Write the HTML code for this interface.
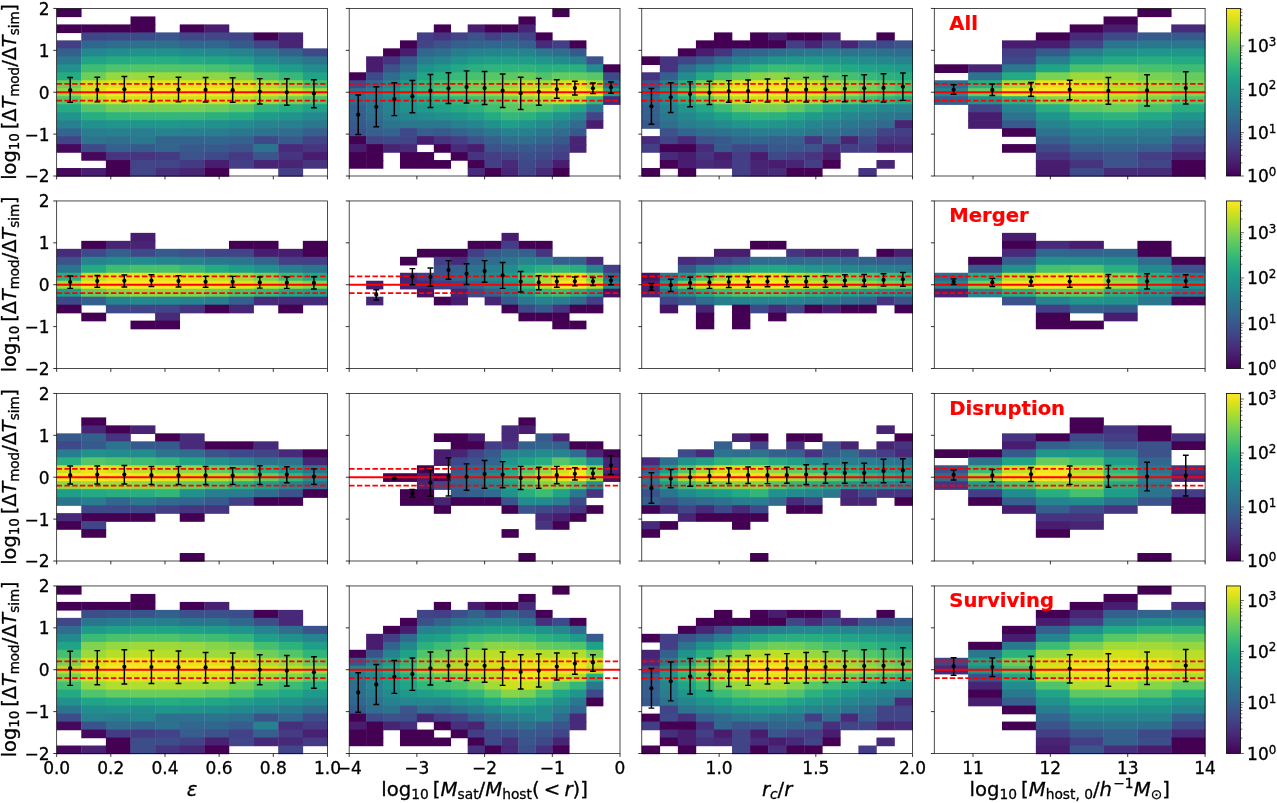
<!DOCTYPE html>
<html><head><meta charset="utf-8"><title>figure</title><style>html,body{margin:0;padding:0;background:#fff}svg{display:block}</style></head><body>
<svg width="1277" height="803" viewBox="0 0 1277 803" font-family='"DejaVu Sans", "Liberation Sans", sans-serif'>
<rect width="1277" height="803" fill="#fff"/>
<style>text{stroke:#000;stroke-width:0.3px}text.pl{stroke:#f00;stroke-width:0.2px}</style>
<g>
<rect x="56.65" y="8.45" width="24.92" height="8.68" fill="#440154"/>
<rect x="56.65" y="24.41" width="24.92" height="8.68" fill="#440154"/>
<rect x="56.65" y="40.36" width="24.92" height="8.68" fill="#433e85"/>
<rect x="56.65" y="48.34" width="24.92" height="8.68" fill="#355f8d"/>
<rect x="56.65" y="56.32" width="24.92" height="8.68" fill="#2a788e"/>
<rect x="56.65" y="64.3" width="24.92" height="8.68" fill="#21918c"/>
<rect x="56.65" y="72.28" width="24.92" height="8.68" fill="#25ab82"/>
<rect x="56.65" y="80.26" width="24.92" height="8.68" fill="#6ece58"/>
<rect x="56.65" y="88.24" width="24.92" height="8.68" fill="#95d840"/>
<rect x="56.65" y="96.21" width="24.92" height="8.68" fill="#52c569"/>
<rect x="56.65" y="104.19" width="24.92" height="8.68" fill="#25ab82"/>
<rect x="56.65" y="112.17" width="24.92" height="8.68" fill="#1f958b"/>
<rect x="56.65" y="120.15" width="24.92" height="8.68" fill="#27808e"/>
<rect x="56.65" y="128.13" width="24.92" height="8.68" fill="#31678e"/>
<rect x="56.65" y="136.11" width="24.92" height="8.68" fill="#414487"/>
<rect x="56.65" y="144.09" width="24.92" height="8.68" fill="#46085c"/>
<rect x="56.65" y="168.02" width="24.92" height="8.68" fill="#46085c"/>
<rect x="81.27" y="24.41" width="24.92" height="8.68" fill="#440154"/>
<rect x="81.27" y="32.39" width="24.92" height="8.68" fill="#414487"/>
<rect x="81.27" y="40.36" width="24.92" height="8.68" fill="#31678e"/>
<rect x="81.27" y="48.34" width="24.92" height="8.68" fill="#24868e"/>
<rect x="81.27" y="56.32" width="24.92" height="8.68" fill="#20a386"/>
<rect x="81.27" y="64.3" width="24.92" height="8.68" fill="#3fbc73"/>
<rect x="81.27" y="72.28" width="24.92" height="8.68" fill="#6ece58"/>
<rect x="81.27" y="80.26" width="24.92" height="8.68" fill="#d2e21b"/>
<rect x="81.27" y="88.24" width="24.92" height="8.68" fill="#dfe318"/>
<rect x="81.27" y="96.21" width="24.92" height="8.68" fill="#b0dd2f"/>
<rect x="81.27" y="104.19" width="24.92" height="8.68" fill="#52c569"/>
<rect x="81.27" y="112.17" width="24.92" height="8.68" fill="#26ad81"/>
<rect x="81.27" y="120.15" width="24.92" height="8.68" fill="#21918c"/>
<rect x="81.27" y="128.13" width="24.92" height="8.68" fill="#287d8e"/>
<rect x="81.27" y="136.11" width="24.92" height="8.68" fill="#2c738e"/>
<rect x="81.27" y="144.09" width="24.92" height="8.68" fill="#3e4989"/>
<rect x="81.27" y="152.06" width="24.92" height="8.68" fill="#46085c"/>
<rect x="81.27" y="168.02" width="24.92" height="8.68" fill="#481d6f"/>
<rect x="105.89" y="24.41" width="24.92" height="8.68" fill="#440154"/>
<rect x="105.89" y="32.39" width="24.92" height="8.68" fill="#3e4989"/>
<rect x="105.89" y="40.36" width="24.92" height="8.68" fill="#2f6c8e"/>
<rect x="105.89" y="48.34" width="24.92" height="8.68" fill="#218e8d"/>
<rect x="105.89" y="56.32" width="24.92" height="8.68" fill="#25ab82"/>
<rect x="105.89" y="64.3" width="24.92" height="8.68" fill="#4ec36b"/>
<rect x="105.89" y="72.28" width="24.92" height="8.68" fill="#95d840"/>
<rect x="105.89" y="80.26" width="24.92" height="8.68" fill="#dfe318"/>
<rect x="105.89" y="88.24" width="24.92" height="8.68" fill="#fde725"/>
<rect x="105.89" y="96.21" width="24.92" height="8.68" fill="#d2e21b"/>
<rect x="105.89" y="104.19" width="24.92" height="8.68" fill="#6ece58"/>
<rect x="105.89" y="112.17" width="24.92" height="8.68" fill="#2fb47c"/>
<rect x="105.89" y="120.15" width="24.92" height="8.68" fill="#1f958b"/>
<rect x="105.89" y="128.13" width="24.92" height="8.68" fill="#27808e"/>
<rect x="105.89" y="136.11" width="24.92" height="8.68" fill="#2e6f8e"/>
<rect x="105.89" y="144.09" width="24.92" height="8.68" fill="#355f8d"/>
<rect x="105.89" y="152.06" width="24.92" height="8.68" fill="#463480"/>
<rect x="105.89" y="160.04" width="24.92" height="8.68" fill="#440154"/>
<rect x="105.89" y="168.02" width="24.92" height="8.68" fill="#440154"/>
<rect x="130.5" y="16.43" width="24.92" height="8.68" fill="#440154"/>
<rect x="130.5" y="24.41" width="24.92" height="8.68" fill="#440154"/>
<rect x="130.5" y="32.39" width="24.92" height="8.68" fill="#3e4989"/>
<rect x="130.5" y="40.36" width="24.92" height="8.68" fill="#2d718e"/>
<rect x="130.5" y="48.34" width="24.92" height="8.68" fill="#21918c"/>
<rect x="130.5" y="56.32" width="24.92" height="8.68" fill="#26ad81"/>
<rect x="130.5" y="64.3" width="24.92" height="8.68" fill="#52c569"/>
<rect x="130.5" y="72.28" width="24.92" height="8.68" fill="#9bd93c"/>
<rect x="130.5" y="80.26" width="24.92" height="8.68" fill="#e5e419"/>
<rect x="130.5" y="88.24" width="24.92" height="8.68" fill="#fde725"/>
<rect x="130.5" y="96.21" width="24.92" height="8.68" fill="#d2e21b"/>
<rect x="130.5" y="104.19" width="24.92" height="8.68" fill="#75d054"/>
<rect x="130.5" y="112.17" width="24.92" height="8.68" fill="#32b67a"/>
<rect x="130.5" y="120.15" width="24.92" height="8.68" fill="#1f958b"/>
<rect x="130.5" y="128.13" width="24.92" height="8.68" fill="#287d8e"/>
<rect x="130.5" y="136.11" width="24.92" height="8.68" fill="#2a788e"/>
<rect x="130.5" y="144.09" width="24.92" height="8.68" fill="#375a8c"/>
<rect x="130.5" y="152.06" width="24.92" height="8.68" fill="#463480"/>
<rect x="130.5" y="160.04" width="24.92" height="8.68" fill="#414487"/>
<rect x="130.5" y="168.02" width="24.92" height="8.68" fill="#414487"/>
<rect x="155.12" y="32.39" width="24.92" height="8.68" fill="#3a548c"/>
<rect x="155.12" y="40.36" width="24.92" height="8.68" fill="#2e6f8e"/>
<rect x="155.12" y="48.34" width="24.92" height="8.68" fill="#21918c"/>
<rect x="155.12" y="56.32" width="24.92" height="8.68" fill="#26ad81"/>
<rect x="155.12" y="64.3" width="24.92" height="8.68" fill="#52c569"/>
<rect x="155.12" y="72.28" width="24.92" height="8.68" fill="#9bd93c"/>
<rect x="155.12" y="80.26" width="24.92" height="8.68" fill="#e5e419"/>
<rect x="155.12" y="88.24" width="24.92" height="8.68" fill="#fde725"/>
<rect x="155.12" y="96.21" width="24.92" height="8.68" fill="#d2e21b"/>
<rect x="155.12" y="104.19" width="24.92" height="8.68" fill="#75d054"/>
<rect x="155.12" y="112.17" width="24.92" height="8.68" fill="#32b67a"/>
<rect x="155.12" y="120.15" width="24.92" height="8.68" fill="#1f978b"/>
<rect x="155.12" y="128.13" width="24.92" height="8.68" fill="#25848e"/>
<rect x="155.12" y="136.11" width="24.92" height="8.68" fill="#32648e"/>
<rect x="155.12" y="144.09" width="24.92" height="8.68" fill="#32648e"/>
<rect x="155.12" y="152.06" width="24.92" height="8.68" fill="#443a83"/>
<rect x="155.12" y="160.04" width="24.92" height="8.68" fill="#414487"/>
<rect x="155.12" y="168.02" width="24.92" height="8.68" fill="#472e7c"/>
<rect x="179.74" y="24.41" width="24.92" height="8.68" fill="#440154"/>
<rect x="179.74" y="32.39" width="24.92" height="8.68" fill="#404688"/>
<rect x="179.74" y="40.36" width="24.92" height="8.68" fill="#31678e"/>
<rect x="179.74" y="48.34" width="24.92" height="8.68" fill="#228b8d"/>
<rect x="179.74" y="56.32" width="24.92" height="8.68" fill="#22a884"/>
<rect x="179.74" y="64.3" width="24.92" height="8.68" fill="#4ec36b"/>
<rect x="179.74" y="72.28" width="24.92" height="8.68" fill="#95d840"/>
<rect x="179.74" y="80.26" width="24.92" height="8.68" fill="#e5e419"/>
<rect x="179.74" y="88.24" width="24.92" height="8.68" fill="#fde725"/>
<rect x="179.74" y="96.21" width="24.92" height="8.68" fill="#d2e21b"/>
<rect x="179.74" y="104.19" width="24.92" height="8.68" fill="#75d054"/>
<rect x="179.74" y="112.17" width="24.92" height="8.68" fill="#32b67a"/>
<rect x="179.74" y="120.15" width="24.92" height="8.68" fill="#1f958b"/>
<rect x="179.74" y="128.13" width="24.92" height="8.68" fill="#27808e"/>
<rect x="179.74" y="136.11" width="24.92" height="8.68" fill="#32648e"/>
<rect x="179.74" y="144.09" width="24.92" height="8.68" fill="#375a8c"/>
<rect x="179.74" y="152.06" width="24.92" height="8.68" fill="#3b528b"/>
<rect x="179.74" y="160.04" width="24.92" height="8.68" fill="#443a83"/>
<rect x="179.74" y="168.02" width="24.92" height="8.68" fill="#482475"/>
<rect x="204.36" y="24.41" width="24.92" height="8.68" fill="#481d6f"/>
<rect x="204.36" y="32.39" width="24.92" height="8.68" fill="#404688"/>
<rect x="204.36" y="40.36" width="24.92" height="8.68" fill="#31678e"/>
<rect x="204.36" y="48.34" width="24.92" height="8.68" fill="#23898e"/>
<rect x="204.36" y="56.32" width="24.92" height="8.68" fill="#21a685"/>
<rect x="204.36" y="64.3" width="24.92" height="8.68" fill="#48c16e"/>
<rect x="204.36" y="72.28" width="24.92" height="8.68" fill="#8ed645"/>
<rect x="204.36" y="80.26" width="24.92" height="8.68" fill="#dfe318"/>
<rect x="204.36" y="88.24" width="24.92" height="8.68" fill="#f8e621"/>
<rect x="204.36" y="96.21" width="24.92" height="8.68" fill="#cae11f"/>
<rect x="204.36" y="104.19" width="24.92" height="8.68" fill="#69cd5b"/>
<rect x="204.36" y="112.17" width="24.92" height="8.68" fill="#2cb17e"/>
<rect x="204.36" y="120.15" width="24.92" height="8.68" fill="#20928c"/>
<rect x="204.36" y="128.13" width="24.92" height="8.68" fill="#287d8e"/>
<rect x="204.36" y="136.11" width="24.92" height="8.68" fill="#31678e"/>
<rect x="204.36" y="144.09" width="24.92" height="8.68" fill="#375a8c"/>
<rect x="204.36" y="152.06" width="24.92" height="8.68" fill="#3e4989"/>
<rect x="204.36" y="160.04" width="24.92" height="8.68" fill="#481d6f"/>
<rect x="204.36" y="168.02" width="24.92" height="8.68" fill="#440154"/>
<rect x="228.98" y="32.39" width="24.92" height="8.68" fill="#414487"/>
<rect x="228.98" y="40.36" width="24.92" height="8.68" fill="#375a8c"/>
<rect x="228.98" y="48.34" width="24.92" height="8.68" fill="#26828e"/>
<rect x="228.98" y="56.32" width="24.92" height="8.68" fill="#1f9f88"/>
<rect x="228.98" y="64.3" width="24.92" height="8.68" fill="#3bbb75"/>
<rect x="228.98" y="72.28" width="24.92" height="8.68" fill="#7ad151"/>
<rect x="228.98" y="80.26" width="24.92" height="8.68" fill="#d2e21b"/>
<rect x="228.98" y="88.24" width="24.92" height="8.68" fill="#ece51b"/>
<rect x="228.98" y="96.21" width="24.92" height="8.68" fill="#bddf26"/>
<rect x="228.98" y="104.19" width="24.92" height="8.68" fill="#58c765"/>
<rect x="228.98" y="112.17" width="24.92" height="8.68" fill="#25ab82"/>
<rect x="228.98" y="120.15" width="24.92" height="8.68" fill="#228b8d"/>
<rect x="228.98" y="128.13" width="24.92" height="8.68" fill="#2a788e"/>
<rect x="228.98" y="136.11" width="24.92" height="8.68" fill="#33628d"/>
<rect x="228.98" y="144.09" width="24.92" height="8.68" fill="#3b528b"/>
<rect x="228.98" y="152.06" width="24.92" height="8.68" fill="#443a83"/>
<rect x="228.98" y="160.04" width="24.92" height="8.68" fill="#433e85"/>
<rect x="253.6" y="32.39" width="24.92" height="8.68" fill="#440154"/>
<rect x="253.6" y="40.36" width="24.92" height="8.68" fill="#414487"/>
<rect x="253.6" y="48.34" width="24.92" height="8.68" fill="#2c738e"/>
<rect x="253.6" y="56.32" width="24.92" height="8.68" fill="#228b8d"/>
<rect x="253.6" y="64.3" width="24.92" height="8.68" fill="#22a884"/>
<rect x="253.6" y="72.28" width="24.92" height="8.68" fill="#4ec36b"/>
<rect x="253.6" y="80.26" width="24.92" height="8.68" fill="#b0dd2f"/>
<rect x="253.6" y="88.24" width="24.92" height="8.68" fill="#d8e219"/>
<rect x="253.6" y="96.21" width="24.92" height="8.68" fill="#9bd93c"/>
<rect x="253.6" y="104.19" width="24.92" height="8.68" fill="#32b67a"/>
<rect x="253.6" y="112.17" width="24.92" height="8.68" fill="#1e9c89"/>
<rect x="253.6" y="120.15" width="24.92" height="8.68" fill="#25848e"/>
<rect x="253.6" y="128.13" width="24.92" height="8.68" fill="#2c738e"/>
<rect x="253.6" y="136.11" width="24.92" height="8.68" fill="#3e4989"/>
<rect x="253.6" y="144.09" width="24.92" height="8.68" fill="#2c738e"/>
<rect x="253.6" y="152.06" width="24.92" height="8.68" fill="#3a548c"/>
<rect x="253.6" y="160.04" width="24.92" height="8.68" fill="#482475"/>
<rect x="278.21" y="32.39" width="24.92" height="8.68" fill="#482475"/>
<rect x="278.21" y="40.36" width="24.92" height="8.68" fill="#482475"/>
<rect x="278.21" y="48.34" width="24.92" height="8.68" fill="#355f8d"/>
<rect x="278.21" y="56.32" width="24.92" height="8.68" fill="#27808e"/>
<rect x="278.21" y="64.3" width="24.92" height="8.68" fill="#1e9c89"/>
<rect x="278.21" y="72.28" width="24.92" height="8.68" fill="#37b878"/>
<rect x="278.21" y="80.26" width="24.92" height="8.68" fill="#86d549"/>
<rect x="278.21" y="88.24" width="24.92" height="8.68" fill="#cae11f"/>
<rect x="278.21" y="96.21" width="24.92" height="8.68" fill="#7ad151"/>
<rect x="278.21" y="104.19" width="24.92" height="8.68" fill="#26ad81"/>
<rect x="278.21" y="112.17" width="24.92" height="8.68" fill="#1f958b"/>
<rect x="278.21" y="120.15" width="24.92" height="8.68" fill="#27808e"/>
<rect x="278.21" y="128.13" width="24.92" height="8.68" fill="#2f6c8e"/>
<rect x="278.21" y="136.11" width="24.92" height="8.68" fill="#375a8c"/>
<rect x="278.21" y="144.09" width="24.92" height="8.68" fill="#472a7a"/>
<rect x="278.21" y="152.06" width="24.92" height="8.68" fill="#463480"/>
<rect x="278.21" y="160.04" width="24.92" height="8.68" fill="#482475"/>
<rect x="278.21" y="168.02" width="24.92" height="8.68" fill="#433e85"/>
<rect x="302.83" y="48.34" width="24.92" height="8.68" fill="#3e4989"/>
<rect x="302.83" y="56.32" width="24.92" height="8.68" fill="#2c738e"/>
<rect x="302.83" y="64.3" width="24.92" height="8.68" fill="#228b8d"/>
<rect x="302.83" y="72.28" width="24.92" height="8.68" fill="#20a386"/>
<rect x="302.83" y="80.26" width="24.92" height="8.68" fill="#44bf70"/>
<rect x="302.83" y="88.24" width="24.92" height="8.68" fill="#9bd93c"/>
<rect x="302.83" y="96.21" width="24.92" height="8.68" fill="#4ec36b"/>
<rect x="302.83" y="104.19" width="24.92" height="8.68" fill="#1fa188"/>
<rect x="302.83" y="112.17" width="24.92" height="8.68" fill="#23898e"/>
<rect x="302.83" y="120.15" width="24.92" height="8.68" fill="#2a788e"/>
<rect x="302.83" y="128.13" width="24.92" height="8.68" fill="#355f8d"/>
<rect x="302.83" y="136.11" width="24.92" height="8.68" fill="#414487"/>
<rect x="302.83" y="144.09" width="24.92" height="8.68" fill="#463480"/>
<rect x="302.83" y="152.06" width="24.92" height="8.68" fill="#481d6f"/>
<rect x="302.83" y="160.04" width="24.92" height="8.68" fill="#463480"/>
<path d="M56.65 92.23H327.45" stroke="#f00" stroke-width="1.8" fill="none"/>
<path d="M56.65 83.85H327.45" stroke="#f00" stroke-width="1.8" stroke-dasharray="5.4 2.35" fill="none"/>
<path d="M56.65 100.6H327.45" stroke="#f00" stroke-width="1.8" stroke-dasharray="5.4 2.35" fill="none"/>
<circle cx="70.19" cy="90.13" r="2.1" fill="#000"/>
<circle cx="97.27" cy="89.92" r="2.1" fill="#000"/>
<circle cx="124.35" cy="89.29" r="2.1" fill="#000"/>
<circle cx="151.43" cy="89.29" r="2.1" fill="#000"/>
<circle cx="178.51" cy="89.5" r="2.1" fill="#000"/>
<circle cx="205.59" cy="89.92" r="2.1" fill="#000"/>
<circle cx="232.67" cy="90.13" r="2.1" fill="#000"/>
<circle cx="259.75" cy="91.6" r="2.1" fill="#000"/>
<circle cx="286.83" cy="92.23" r="2.1" fill="#000"/>
<circle cx="313.91" cy="93.48" r="2.1" fill="#000"/>
<path d="M70.19 102.28V77.56M67.29 102.28h5.8M67.29 77.56h5.8M97.27 101.86V77.15M94.37 101.86h5.8M94.37 77.15h5.8M124.35 101.65V76.52M121.45 101.65h5.8M121.45 76.52h5.8M151.43 101.65V76.73M148.53 101.65h5.8M148.53 76.73h5.8M178.51 101.86V77.15M175.61 101.86h5.8M175.61 77.15h5.8M205.59 102.07V77.56M202.69 102.07h5.8M202.69 77.56h5.8M232.67 102.28V77.77M229.77 102.28h5.8M229.77 77.77h5.8M259.75 103.95V78.61M256.85 103.95h5.8M256.85 78.61h5.8M286.83 105.21V78.82M283.93 105.21h5.8M283.93 78.82h5.8M313.91 107.72V79.66M311.01 107.72h5.8M311.01 79.66h5.8" stroke="#000" stroke-width="1.45" fill="none"/>
<rect x="56.65" y="8.45" width="270.8" height="167.55" fill="none" stroke="#000" stroke-opacity="0.88" stroke-width="0.8"/>
<path d="M56.65 8.45h-3.4M56.65 50.34h-3.4M56.65 92.23h-3.4M56.65 134.11h-3.4M56.65 176h-3.4M56.65 176v3.4M110.81 176v3.4M164.97 176v3.4M219.13 176v3.4M273.29 176v3.4M327.45 176v3.4" stroke="#000" stroke-width="0.8" fill="none"/>
<text x="49.65" y="14.91" font-size="17.0" text-anchor="end">2</text>
<text x="49.65" y="56.8" font-size="17.0" text-anchor="end">1</text>
<text x="49.65" y="98.69" font-size="17.0" text-anchor="end">0</text>
<text x="49.65" y="140.57" font-size="17.0" text-anchor="end">−1</text>
<text x="49.65" y="182.46" font-size="17.0" text-anchor="end">−2</text>
</g>
<g>
<rect x="349.2" y="72.28" width="17.23" height="8.68" fill="#440154"/>
<rect x="349.2" y="80.26" width="17.23" height="8.68" fill="#3e4989"/>
<rect x="349.2" y="88.24" width="17.23" height="8.68" fill="#2f6c8e"/>
<rect x="349.2" y="96.21" width="17.23" height="8.68" fill="#2f6c8e"/>
<rect x="349.2" y="104.19" width="17.23" height="8.68" fill="#355f8d"/>
<rect x="349.2" y="112.17" width="17.23" height="8.68" fill="#355f8d"/>
<rect x="349.2" y="120.15" width="17.23" height="8.68" fill="#375a8c"/>
<rect x="349.2" y="128.13" width="17.23" height="8.68" fill="#3b528b"/>
<rect x="349.2" y="136.11" width="17.23" height="8.68" fill="#440154"/>
<rect x="349.2" y="144.09" width="17.23" height="8.68" fill="#481d6f"/>
<rect x="349.2" y="152.06" width="17.23" height="8.68" fill="#440154"/>
<rect x="349.2" y="160.04" width="17.23" height="8.68" fill="#440154"/>
<rect x="366.12" y="56.32" width="17.23" height="8.68" fill="#481d6f"/>
<rect x="366.12" y="64.3" width="17.23" height="8.68" fill="#481d6f"/>
<rect x="366.12" y="72.28" width="17.23" height="8.68" fill="#3e4989"/>
<rect x="366.12" y="80.26" width="17.23" height="8.68" fill="#31678e"/>
<rect x="366.12" y="88.24" width="17.23" height="8.68" fill="#287c8e"/>
<rect x="366.12" y="96.21" width="17.23" height="8.68" fill="#2a788e"/>
<rect x="366.12" y="104.19" width="17.23" height="8.68" fill="#2c738e"/>
<rect x="366.12" y="112.17" width="17.23" height="8.68" fill="#2e6f8e"/>
<rect x="366.12" y="120.15" width="17.23" height="8.68" fill="#31678e"/>
<rect x="366.12" y="128.13" width="17.23" height="8.68" fill="#355f8d"/>
<rect x="366.12" y="136.11" width="17.23" height="8.68" fill="#414487"/>
<rect x="366.12" y="144.09" width="17.23" height="8.68" fill="#440154"/>
<rect x="366.12" y="152.06" width="17.23" height="8.68" fill="#440154"/>
<rect x="366.12" y="160.04" width="17.23" height="8.68" fill="#440154"/>
<rect x="383.05" y="48.34" width="17.23" height="8.68" fill="#440154"/>
<rect x="383.05" y="56.32" width="17.23" height="8.68" fill="#463480"/>
<rect x="383.05" y="64.3" width="17.23" height="8.68" fill="#3b528b"/>
<rect x="383.05" y="72.28" width="17.23" height="8.68" fill="#2f6c8e"/>
<rect x="383.05" y="80.26" width="17.23" height="8.68" fill="#26828e"/>
<rect x="383.05" y="88.24" width="17.23" height="8.68" fill="#20928c"/>
<rect x="383.05" y="96.21" width="17.23" height="8.68" fill="#24868e"/>
<rect x="383.05" y="104.19" width="17.23" height="8.68" fill="#26828e"/>
<rect x="383.05" y="112.17" width="17.23" height="8.68" fill="#287d8e"/>
<rect x="383.05" y="120.15" width="17.23" height="8.68" fill="#2c738e"/>
<rect x="383.05" y="128.13" width="17.23" height="8.68" fill="#32648e"/>
<rect x="383.05" y="136.11" width="17.23" height="8.68" fill="#3e4989"/>
<rect x="383.05" y="144.09" width="17.23" height="8.68" fill="#482475"/>
<rect x="399.98" y="40.36" width="17.23" height="8.68" fill="#440154"/>
<rect x="399.98" y="48.34" width="17.23" height="8.68" fill="#481d6f"/>
<rect x="399.98" y="56.32" width="17.23" height="8.68" fill="#375a8c"/>
<rect x="399.98" y="64.3" width="17.23" height="8.68" fill="#2f6c8e"/>
<rect x="399.98" y="72.28" width="17.23" height="8.68" fill="#25858e"/>
<rect x="399.98" y="80.26" width="17.23" height="8.68" fill="#1e9c89"/>
<rect x="399.98" y="88.24" width="17.23" height="8.68" fill="#21a585"/>
<rect x="399.98" y="96.21" width="17.23" height="8.68" fill="#1f958b"/>
<rect x="399.98" y="104.19" width="17.23" height="8.68" fill="#21918c"/>
<rect x="399.98" y="112.17" width="17.23" height="8.68" fill="#24868e"/>
<rect x="399.98" y="120.15" width="17.23" height="8.68" fill="#2a788e"/>
<rect x="399.98" y="128.13" width="17.23" height="8.68" fill="#3e4989"/>
<rect x="399.98" y="136.11" width="17.23" height="8.68" fill="#414487"/>
<rect x="399.98" y="144.09" width="17.23" height="8.68" fill="#472a7a"/>
<rect x="399.98" y="152.06" width="17.23" height="8.68" fill="#440154"/>
<rect x="399.98" y="160.04" width="17.23" height="8.68" fill="#440154"/>
<rect x="416.9" y="32.39" width="17.23" height="8.68" fill="#433e85"/>
<rect x="416.9" y="40.36" width="17.23" height="8.68" fill="#414487"/>
<rect x="416.9" y="48.34" width="17.23" height="8.68" fill="#31678e"/>
<rect x="416.9" y="56.32" width="17.23" height="8.68" fill="#287c8e"/>
<rect x="416.9" y="64.3" width="17.23" height="8.68" fill="#20928c"/>
<rect x="416.9" y="72.28" width="17.23" height="8.68" fill="#21a585"/>
<rect x="416.9" y="80.26" width="17.23" height="8.68" fill="#2fb47c"/>
<rect x="416.9" y="88.24" width="17.23" height="8.68" fill="#38b977"/>
<rect x="416.9" y="96.21" width="17.23" height="8.68" fill="#21a585"/>
<rect x="416.9" y="104.19" width="17.23" height="8.68" fill="#1e9b8a"/>
<rect x="416.9" y="112.17" width="17.23" height="8.68" fill="#228b8d"/>
<rect x="416.9" y="120.15" width="17.23" height="8.68" fill="#2a788e"/>
<rect x="416.9" y="128.13" width="17.23" height="8.68" fill="#355f8d"/>
<rect x="416.9" y="136.11" width="17.23" height="8.68" fill="#481d6f"/>
<rect x="416.9" y="152.06" width="17.23" height="8.68" fill="#440154"/>
<rect x="416.9" y="160.04" width="17.23" height="8.68" fill="#440154"/>
<rect x="433.82" y="24.41" width="17.23" height="8.68" fill="#440154"/>
<rect x="433.82" y="32.39" width="17.23" height="8.68" fill="#463480"/>
<rect x="433.82" y="40.36" width="17.23" height="8.68" fill="#3b528b"/>
<rect x="433.82" y="48.34" width="17.23" height="8.68" fill="#2f6c8e"/>
<rect x="433.82" y="56.32" width="17.23" height="8.68" fill="#25858e"/>
<rect x="433.82" y="64.3" width="17.23" height="8.68" fill="#1e9c89"/>
<rect x="433.82" y="72.28" width="17.23" height="8.68" fill="#2ab07f"/>
<rect x="433.82" y="80.26" width="17.23" height="8.68" fill="#42be71"/>
<rect x="433.82" y="88.24" width="17.23" height="8.68" fill="#50c46a"/>
<rect x="433.82" y="96.21" width="17.23" height="8.68" fill="#29af7f"/>
<rect x="433.82" y="104.19" width="17.23" height="8.68" fill="#1fa287"/>
<rect x="433.82" y="112.17" width="17.23" height="8.68" fill="#21918c"/>
<rect x="433.82" y="120.15" width="17.23" height="8.68" fill="#2a788e"/>
<rect x="433.82" y="128.13" width="17.23" height="8.68" fill="#375a8c"/>
<rect x="433.82" y="136.11" width="17.23" height="8.68" fill="#463480"/>
<rect x="433.82" y="144.09" width="17.23" height="8.68" fill="#440154"/>
<rect x="433.82" y="160.04" width="17.23" height="8.68" fill="#440154"/>
<rect x="450.75" y="32.39" width="17.23" height="8.68" fill="#414487"/>
<rect x="450.75" y="40.36" width="17.23" height="8.68" fill="#355f8d"/>
<rect x="450.75" y="48.34" width="17.23" height="8.68" fill="#287c8e"/>
<rect x="450.75" y="56.32" width="17.23" height="8.68" fill="#20928c"/>
<rect x="450.75" y="64.3" width="17.23" height="8.68" fill="#22a884"/>
<rect x="450.75" y="72.28" width="17.23" height="8.68" fill="#38b977"/>
<rect x="450.75" y="80.26" width="17.23" height="8.68" fill="#56c667"/>
<rect x="450.75" y="88.24" width="17.23" height="8.68" fill="#63cb5f"/>
<rect x="450.75" y="96.21" width="17.23" height="8.68" fill="#35b779"/>
<rect x="450.75" y="104.19" width="17.23" height="8.68" fill="#25ab82"/>
<rect x="450.75" y="112.17" width="17.23" height="8.68" fill="#1f958b"/>
<rect x="450.75" y="120.15" width="17.23" height="8.68" fill="#27808e"/>
<rect x="450.75" y="128.13" width="17.23" height="8.68" fill="#32648e"/>
<rect x="450.75" y="136.11" width="17.23" height="8.68" fill="#433e85"/>
<rect x="450.75" y="144.09" width="17.23" height="8.68" fill="#472a7a"/>
<rect x="450.75" y="152.06" width="17.23" height="8.68" fill="#440154"/>
<rect x="467.68" y="24.41" width="17.23" height="8.68" fill="#481d6f"/>
<rect x="467.68" y="32.39" width="17.23" height="8.68" fill="#3b528b"/>
<rect x="467.68" y="40.36" width="17.23" height="8.68" fill="#32648e"/>
<rect x="467.68" y="48.34" width="17.23" height="8.68" fill="#26828e"/>
<rect x="467.68" y="56.32" width="17.23" height="8.68" fill="#1e9c89"/>
<rect x="467.68" y="64.3" width="17.23" height="8.68" fill="#2ab07f"/>
<rect x="467.68" y="72.28" width="17.23" height="8.68" fill="#48c16e"/>
<rect x="467.68" y="80.26" width="17.23" height="8.68" fill="#69cd5b"/>
<rect x="467.68" y="88.24" width="17.23" height="8.68" fill="#77d153"/>
<rect x="467.68" y="96.21" width="17.23" height="8.68" fill="#42be71"/>
<rect x="467.68" y="104.19" width="17.23" height="8.68" fill="#2db27d"/>
<rect x="467.68" y="112.17" width="17.23" height="8.68" fill="#1f9e89"/>
<rect x="467.68" y="120.15" width="17.23" height="8.68" fill="#24868e"/>
<rect x="467.68" y="128.13" width="17.23" height="8.68" fill="#2f6c8e"/>
<rect x="467.68" y="136.11" width="17.23" height="8.68" fill="#3b528b"/>
<rect x="467.68" y="144.09" width="17.23" height="8.68" fill="#481d6f"/>
<rect x="467.68" y="152.06" width="17.23" height="8.68" fill="#463480"/>
<rect x="467.68" y="160.04" width="17.23" height="8.68" fill="#440154"/>
<rect x="467.68" y="168.02" width="17.23" height="8.68" fill="#472a7a"/>
<rect x="484.6" y="24.41" width="17.23" height="8.68" fill="#440154"/>
<rect x="484.6" y="32.39" width="17.23" height="8.68" fill="#433e85"/>
<rect x="484.6" y="40.36" width="17.23" height="8.68" fill="#31678e"/>
<rect x="484.6" y="48.34" width="17.23" height="8.68" fill="#25858e"/>
<rect x="484.6" y="56.32" width="17.23" height="8.68" fill="#1f9f88"/>
<rect x="484.6" y="64.3" width="17.23" height="8.68" fill="#2fb47c"/>
<rect x="484.6" y="72.28" width="17.23" height="8.68" fill="#56c667"/>
<rect x="484.6" y="80.26" width="17.23" height="8.68" fill="#77d153"/>
<rect x="484.6" y="88.24" width="17.23" height="8.68" fill="#90d743"/>
<rect x="484.6" y="96.21" width="17.23" height="8.68" fill="#58c765"/>
<rect x="484.6" y="104.19" width="17.23" height="8.68" fill="#42be71"/>
<rect x="484.6" y="112.17" width="17.23" height="8.68" fill="#25ab82"/>
<rect x="484.6" y="120.15" width="17.23" height="8.68" fill="#21918c"/>
<rect x="484.6" y="128.13" width="17.23" height="8.68" fill="#2a788e"/>
<rect x="484.6" y="136.11" width="17.23" height="8.68" fill="#355f8d"/>
<rect x="484.6" y="144.09" width="17.23" height="8.68" fill="#3b528b"/>
<rect x="484.6" y="152.06" width="17.23" height="8.68" fill="#433e85"/>
<rect x="484.6" y="160.04" width="17.23" height="8.68" fill="#433e85"/>
<rect x="484.6" y="168.02" width="17.23" height="8.68" fill="#440154"/>
<rect x="501.52" y="24.41" width="17.23" height="8.68" fill="#440154"/>
<rect x="501.52" y="32.39" width="17.23" height="8.68" fill="#3b528b"/>
<rect x="501.52" y="40.36" width="17.23" height="8.68" fill="#31678e"/>
<rect x="501.52" y="48.34" width="17.23" height="8.68" fill="#25858e"/>
<rect x="501.52" y="56.32" width="17.23" height="8.68" fill="#1f9f88"/>
<rect x="501.52" y="64.3" width="17.23" height="8.68" fill="#2fb47c"/>
<rect x="501.52" y="72.28" width="17.23" height="8.68" fill="#5cc863"/>
<rect x="501.52" y="80.26" width="17.23" height="8.68" fill="#90d743"/>
<rect x="501.52" y="88.24" width="17.23" height="8.68" fill="#bade28"/>
<rect x="501.52" y="96.21" width="17.23" height="8.68" fill="#73d056"/>
<rect x="501.52" y="104.19" width="17.23" height="8.68" fill="#58c765"/>
<rect x="501.52" y="112.17" width="17.23" height="8.68" fill="#35b779"/>
<rect x="501.52" y="120.15" width="17.23" height="8.68" fill="#1f9e89"/>
<rect x="501.52" y="128.13" width="17.23" height="8.68" fill="#26828e"/>
<rect x="501.52" y="136.11" width="17.23" height="8.68" fill="#2f6c8e"/>
<rect x="501.52" y="144.09" width="17.23" height="8.68" fill="#38588c"/>
<rect x="501.52" y="152.06" width="17.23" height="8.68" fill="#414487"/>
<rect x="501.52" y="160.04" width="17.23" height="8.68" fill="#472a7a"/>
<rect x="501.52" y="168.02" width="17.23" height="8.68" fill="#482475"/>
<rect x="518.45" y="16.43" width="17.23" height="8.68" fill="#440154"/>
<rect x="518.45" y="24.41" width="17.23" height="8.68" fill="#482475"/>
<rect x="518.45" y="32.39" width="17.23" height="8.68" fill="#414487"/>
<rect x="518.45" y="40.36" width="17.23" height="8.68" fill="#355f8d"/>
<rect x="518.45" y="48.34" width="17.23" height="8.68" fill="#26828e"/>
<rect x="518.45" y="56.32" width="17.23" height="8.68" fill="#1e9c89"/>
<rect x="518.45" y="64.3" width="17.23" height="8.68" fill="#2fb47c"/>
<rect x="518.45" y="72.28" width="17.23" height="8.68" fill="#69cd5b"/>
<rect x="518.45" y="80.26" width="17.23" height="8.68" fill="#bade28"/>
<rect x="518.45" y="88.24" width="17.23" height="8.68" fill="#d5e21a"/>
<rect x="518.45" y="96.21" width="17.23" height="8.68" fill="#8ed645"/>
<rect x="518.45" y="104.19" width="17.23" height="8.68" fill="#5ec962"/>
<rect x="518.45" y="112.17" width="17.23" height="8.68" fill="#2db27d"/>
<rect x="518.45" y="120.15" width="17.23" height="8.68" fill="#1f958b"/>
<rect x="518.45" y="128.13" width="17.23" height="8.68" fill="#27808e"/>
<rect x="518.45" y="136.11" width="17.23" height="8.68" fill="#2f6c8e"/>
<rect x="518.45" y="144.09" width="17.23" height="8.68" fill="#375a8c"/>
<rect x="518.45" y="152.06" width="17.23" height="8.68" fill="#3c4f8a"/>
<rect x="518.45" y="160.04" width="17.23" height="8.68" fill="#3e4989"/>
<rect x="518.45" y="168.02" width="17.23" height="8.68" fill="#414487"/>
<rect x="535.38" y="32.39" width="17.23" height="8.68" fill="#440154"/>
<rect x="535.38" y="40.36" width="17.23" height="8.68" fill="#472a7a"/>
<rect x="535.38" y="48.34" width="17.23" height="8.68" fill="#2b758e"/>
<rect x="535.38" y="56.32" width="17.23" height="8.68" fill="#1f958b"/>
<rect x="535.38" y="64.3" width="17.23" height="8.68" fill="#2ab07f"/>
<rect x="535.38" y="72.28" width="17.23" height="8.68" fill="#4ec36b"/>
<rect x="535.38" y="80.26" width="17.23" height="8.68" fill="#a2da37"/>
<rect x="535.38" y="88.24" width="17.23" height="8.68" fill="#eae51a"/>
<rect x="535.38" y="96.21" width="17.23" height="8.68" fill="#a5db36"/>
<rect x="535.38" y="104.19" width="17.23" height="8.68" fill="#4ec36b"/>
<rect x="535.38" y="112.17" width="17.23" height="8.68" fill="#21a585"/>
<rect x="535.38" y="120.15" width="17.23" height="8.68" fill="#228b8d"/>
<rect x="535.38" y="128.13" width="17.23" height="8.68" fill="#2a788e"/>
<rect x="535.38" y="136.11" width="17.23" height="8.68" fill="#31678e"/>
<rect x="535.38" y="144.09" width="17.23" height="8.68" fill="#3a548c"/>
<rect x="535.38" y="152.06" width="17.23" height="8.68" fill="#3e4989"/>
<rect x="535.38" y="160.04" width="17.23" height="8.68" fill="#433e85"/>
<rect x="535.38" y="168.02" width="17.23" height="8.68" fill="#472a7a"/>
<rect x="552.3" y="8.45" width="17.23" height="8.68" fill="#440154"/>
<rect x="552.3" y="40.36" width="17.23" height="8.68" fill="#433e85"/>
<rect x="552.3" y="48.34" width="17.23" height="8.68" fill="#2f6c8e"/>
<rect x="552.3" y="56.32" width="17.23" height="8.68" fill="#228c8d"/>
<rect x="552.3" y="64.3" width="17.23" height="8.68" fill="#2ab07f"/>
<rect x="552.3" y="72.28" width="17.23" height="8.68" fill="#63cb5f"/>
<rect x="552.3" y="80.26" width="17.23" height="8.68" fill="#d2e21b"/>
<rect x="552.3" y="88.24" width="17.23" height="8.68" fill="#fde725"/>
<rect x="552.3" y="96.21" width="17.23" height="8.68" fill="#bade28"/>
<rect x="552.3" y="104.19" width="17.23" height="8.68" fill="#35b779"/>
<rect x="552.3" y="112.17" width="17.23" height="8.68" fill="#1f958b"/>
<rect x="552.3" y="120.15" width="17.23" height="8.68" fill="#27808e"/>
<rect x="552.3" y="128.13" width="17.23" height="8.68" fill="#2f6c8e"/>
<rect x="552.3" y="136.11" width="17.23" height="8.68" fill="#375a8c"/>
<rect x="552.3" y="144.09" width="17.23" height="8.68" fill="#3e4989"/>
<rect x="552.3" y="152.06" width="17.23" height="8.68" fill="#433e85"/>
<rect x="552.3" y="160.04" width="17.23" height="8.68" fill="#481d6f"/>
<rect x="552.3" y="168.02" width="17.23" height="8.68" fill="#440154"/>
<rect x="569.23" y="40.36" width="17.23" height="8.68" fill="#440154"/>
<rect x="569.23" y="48.34" width="17.23" height="8.68" fill="#375a8c"/>
<rect x="569.23" y="56.32" width="17.23" height="8.68" fill="#26828e"/>
<rect x="569.23" y="64.3" width="17.23" height="8.68" fill="#2ab07f"/>
<rect x="569.23" y="72.28" width="17.23" height="8.68" fill="#63cb5f"/>
<rect x="569.23" y="80.26" width="17.23" height="8.68" fill="#e5e419"/>
<rect x="569.23" y="88.24" width="17.23" height="8.68" fill="#fde725"/>
<rect x="569.23" y="96.21" width="17.23" height="8.68" fill="#aadc32"/>
<rect x="569.23" y="104.19" width="17.23" height="8.68" fill="#21a585"/>
<rect x="569.23" y="112.17" width="17.23" height="8.68" fill="#25848e"/>
<rect x="569.23" y="120.15" width="17.23" height="8.68" fill="#2f6c8e"/>
<rect x="569.23" y="128.13" width="17.23" height="8.68" fill="#375a8c"/>
<rect x="569.23" y="136.11" width="17.23" height="8.68" fill="#482475"/>
<rect x="569.23" y="144.09" width="17.23" height="8.68" fill="#482475"/>
<rect x="586.15" y="56.32" width="17.23" height="8.68" fill="#3b528b"/>
<rect x="586.15" y="64.3" width="17.23" height="8.68" fill="#228c8d"/>
<rect x="586.15" y="72.28" width="17.23" height="8.68" fill="#56c667"/>
<rect x="586.15" y="80.26" width="17.23" height="8.68" fill="#a2da37"/>
<rect x="586.15" y="88.24" width="17.23" height="8.68" fill="#e5e419"/>
<rect x="586.15" y="96.21" width="17.23" height="8.68" fill="#35b779"/>
<rect x="586.15" y="104.19" width="17.23" height="8.68" fill="#2a788e"/>
<rect x="586.15" y="112.17" width="17.23" height="8.68" fill="#414487"/>
<rect x="586.15" y="120.15" width="17.23" height="8.68" fill="#481d6f"/>
<rect x="603.08" y="64.3" width="17.23" height="8.68" fill="#440154"/>
<rect x="603.08" y="72.28" width="17.23" height="8.68" fill="#3e4989"/>
<rect x="603.08" y="80.26" width="17.23" height="8.68" fill="#2f6c8e"/>
<rect x="603.08" y="88.24" width="17.23" height="8.68" fill="#1e9c89"/>
<rect x="603.08" y="96.21" width="17.23" height="8.68" fill="#472a7a"/>
<path d="M349.2 92.23H620" stroke="#f00" stroke-width="1.8" fill="none"/>
<path d="M349.2 83.85H620" stroke="#f00" stroke-width="1.8" stroke-dasharray="5.4 2.35" fill="none"/>
<path d="M349.2 100.6H620" stroke="#f00" stroke-width="1.8" stroke-dasharray="5.4 2.35" fill="none"/>
<circle cx="358.23" cy="114.72" r="2.1" fill="#000"/>
<circle cx="376.28" cy="106.76" r="2.1" fill="#000"/>
<circle cx="394.33" cy="99.05" r="2.1" fill="#000"/>
<circle cx="412.39" cy="96.33" r="2.1" fill="#000"/>
<circle cx="430.44" cy="90.63" r="2.1" fill="#000"/>
<circle cx="448.49" cy="88.37" r="2.1" fill="#000"/>
<circle cx="466.55" cy="86.99" r="2.1" fill="#000"/>
<circle cx="484.6" cy="88.12" r="2.1" fill="#000"/>
<circle cx="502.65" cy="90.63" r="2.1" fill="#000"/>
<circle cx="520.71" cy="93.36" r="2.1" fill="#000"/>
<circle cx="538.76" cy="91.76" r="2.1" fill="#000"/>
<circle cx="556.81" cy="89.29" r="2.1" fill="#000"/>
<circle cx="574.87" cy="88.12" r="2.1" fill="#000"/>
<circle cx="592.92" cy="88.37" r="2.1" fill="#000"/>
<circle cx="610.97" cy="87.45" r="2.1" fill="#000"/>
<path d="M358.23 134.53V94.95M355.33 134.53h5.8M355.33 94.95h5.8M376.28 126.74V86.78M373.38 126.74h5.8M373.38 86.78h5.8M394.33 115.64V82.67M391.43 115.64h5.8M391.43 82.67h5.8M412.39 112.67V80.41M409.49 112.67h5.8M409.49 80.41h5.8M430.44 107.43V74.51M427.54 107.43h5.8M427.54 74.51h5.8M448.49 103.58V72.71M445.59 103.58h5.8M445.59 72.71h5.8M466.55 102.91V70.86M463.65 102.91h5.8M463.65 70.86h5.8M484.6 104.5V71.57M481.7 104.5h5.8M481.7 71.57h5.8M502.65 107.43V74.05M499.75 107.43h5.8M499.75 74.05h5.8M520.71 109.48V77.23M517.81 109.48h5.8M517.81 77.23h5.8M538.76 105.17V78.36M535.86 105.17h5.8M535.86 78.36h5.8M556.81 98.34V79.74M553.91 98.34h5.8M553.91 79.74h5.8M574.87 94.95V81.33M571.97 94.95h5.8M571.97 81.33h5.8M592.92 93.61V82.93M590.02 93.61h5.8M590.02 82.93h5.8M610.97 93.15V82M608.07 93.15h5.8M608.07 82h5.8" stroke="#000" stroke-width="1.45" fill="none"/>
<rect x="349.2" y="8.45" width="270.8" height="167.55" fill="none" stroke="#000" stroke-opacity="0.88" stroke-width="0.8"/>
<path d="M349.2 8.45h-3.4M349.2 50.34h-3.4M349.2 92.23h-3.4M349.2 134.11h-3.4M349.2 176h-3.4M349.2 176v3.4M416.9 176v3.4M484.6 176v3.4M552.3 176v3.4M620 176v3.4" stroke="#000" stroke-width="0.8" fill="none"/>
</g>
<g>
<rect x="641.75" y="56.32" width="18.35" height="8.68" fill="#440154"/>
<rect x="641.75" y="72.28" width="18.35" height="8.68" fill="#463480"/>
<rect x="641.75" y="80.26" width="18.35" height="8.68" fill="#3b528b"/>
<rect x="641.75" y="88.24" width="18.35" height="8.68" fill="#31678e"/>
<rect x="641.75" y="96.21" width="18.35" height="8.68" fill="#2f6c8e"/>
<rect x="641.75" y="104.19" width="18.35" height="8.68" fill="#355f8d"/>
<rect x="641.75" y="112.17" width="18.35" height="8.68" fill="#355f8d"/>
<rect x="641.75" y="120.15" width="18.35" height="8.68" fill="#38588c"/>
<rect x="641.75" y="136.11" width="18.35" height="8.68" fill="#472a7a"/>
<rect x="641.75" y="144.09" width="18.35" height="8.68" fill="#433e85"/>
<rect x="641.75" y="168.02" width="18.35" height="8.68" fill="#440154"/>
<rect x="659.8" y="56.32" width="18.35" height="8.68" fill="#463480"/>
<rect x="659.8" y="64.3" width="18.35" height="8.68" fill="#463480"/>
<rect x="659.8" y="72.28" width="18.35" height="8.68" fill="#355f8d"/>
<rect x="659.8" y="80.26" width="18.35" height="8.68" fill="#287d8e"/>
<rect x="659.8" y="88.24" width="18.35" height="8.68" fill="#21918c"/>
<rect x="659.8" y="96.21" width="18.35" height="8.68" fill="#228b8d"/>
<rect x="659.8" y="104.19" width="18.35" height="8.68" fill="#287d8e"/>
<rect x="659.8" y="112.17" width="18.35" height="8.68" fill="#2a788e"/>
<rect x="659.8" y="120.15" width="18.35" height="8.68" fill="#2e6f8e"/>
<rect x="659.8" y="128.13" width="18.35" height="8.68" fill="#3b528b"/>
<rect x="659.8" y="136.11" width="18.35" height="8.68" fill="#414487"/>
<rect x="659.8" y="144.09" width="18.35" height="8.68" fill="#440154"/>
<rect x="659.8" y="152.06" width="18.35" height="8.68" fill="#472a7a"/>
<rect x="659.8" y="160.04" width="18.35" height="8.68" fill="#440154"/>
<rect x="677.86" y="48.34" width="18.35" height="8.68" fill="#440154"/>
<rect x="677.86" y="56.32" width="18.35" height="8.68" fill="#414487"/>
<rect x="677.86" y="64.3" width="18.35" height="8.68" fill="#2f6c8e"/>
<rect x="677.86" y="72.28" width="18.35" height="8.68" fill="#228b8d"/>
<rect x="677.86" y="80.26" width="18.35" height="8.68" fill="#26ad81"/>
<rect x="677.86" y="88.24" width="18.35" height="8.68" fill="#4ec36b"/>
<rect x="677.86" y="96.21" width="18.35" height="8.68" fill="#26ad81"/>
<rect x="677.86" y="104.19" width="18.35" height="8.68" fill="#1f958b"/>
<rect x="677.86" y="112.17" width="18.35" height="8.68" fill="#23898e"/>
<rect x="677.86" y="120.15" width="18.35" height="8.68" fill="#287d8e"/>
<rect x="677.86" y="128.13" width="18.35" height="8.68" fill="#31678e"/>
<rect x="677.86" y="136.11" width="18.35" height="8.68" fill="#472a7a"/>
<rect x="677.86" y="144.09" width="18.35" height="8.68" fill="#440154"/>
<rect x="677.86" y="152.06" width="18.35" height="8.68" fill="#481d6f"/>
<rect x="677.86" y="160.04" width="18.35" height="8.68" fill="#481d6f"/>
<rect x="677.86" y="168.02" width="18.35" height="8.68" fill="#440154"/>
<rect x="695.91" y="40.36" width="18.35" height="8.68" fill="#440154"/>
<rect x="695.91" y="48.34" width="18.35" height="8.68" fill="#481d6f"/>
<rect x="695.91" y="56.32" width="18.35" height="8.68" fill="#38588c"/>
<rect x="695.91" y="64.3" width="18.35" height="8.68" fill="#25848e"/>
<rect x="695.91" y="72.28" width="18.35" height="8.68" fill="#22a884"/>
<rect x="695.91" y="80.26" width="18.35" height="8.68" fill="#7ad151"/>
<rect x="695.91" y="88.24" width="18.35" height="8.68" fill="#bddf26"/>
<rect x="695.91" y="96.21" width="18.35" height="8.68" fill="#5ec962"/>
<rect x="695.91" y="104.19" width="18.35" height="8.68" fill="#22a884"/>
<rect x="695.91" y="112.17" width="18.35" height="8.68" fill="#1f958b"/>
<rect x="695.91" y="120.15" width="18.35" height="8.68" fill="#25848e"/>
<rect x="695.91" y="128.13" width="18.35" height="8.68" fill="#2e6f8e"/>
<rect x="695.91" y="136.11" width="18.35" height="8.68" fill="#3b528b"/>
<rect x="695.91" y="144.09" width="18.35" height="8.68" fill="#472a7a"/>
<rect x="695.91" y="152.06" width="18.35" height="8.68" fill="#463480"/>
<rect x="695.91" y="160.04" width="18.35" height="8.68" fill="#472a7a"/>
<rect x="713.96" y="32.39" width="18.35" height="8.68" fill="#440154"/>
<rect x="713.96" y="40.36" width="18.35" height="8.68" fill="#440154"/>
<rect x="713.96" y="48.34" width="18.35" height="8.68" fill="#463480"/>
<rect x="713.96" y="56.32" width="18.35" height="8.68" fill="#2e6f8e"/>
<rect x="713.96" y="64.3" width="18.35" height="8.68" fill="#1f978b"/>
<rect x="713.96" y="72.28" width="18.35" height="8.68" fill="#44bf70"/>
<rect x="713.96" y="80.26" width="18.35" height="8.68" fill="#bddf26"/>
<rect x="713.96" y="88.24" width="18.35" height="8.68" fill="#ece51b"/>
<rect x="713.96" y="96.21" width="18.35" height="8.68" fill="#9bd93c"/>
<rect x="713.96" y="104.19" width="18.35" height="8.68" fill="#3bbb75"/>
<rect x="713.96" y="112.17" width="18.35" height="8.68" fill="#1fa188"/>
<rect x="713.96" y="120.15" width="18.35" height="8.68" fill="#228b8d"/>
<rect x="713.96" y="128.13" width="18.35" height="8.68" fill="#2c738e"/>
<rect x="713.96" y="136.11" width="18.35" height="8.68" fill="#375a8c"/>
<rect x="713.96" y="144.09" width="18.35" height="8.68" fill="#375a8c"/>
<rect x="713.96" y="152.06" width="18.35" height="8.68" fill="#481d6f"/>
<rect x="713.96" y="160.04" width="18.35" height="8.68" fill="#482475"/>
<rect x="732.02" y="40.36" width="18.35" height="8.68" fill="#440154"/>
<rect x="732.02" y="48.34" width="18.35" height="8.68" fill="#355f8d"/>
<rect x="732.02" y="56.32" width="18.35" height="8.68" fill="#27808e"/>
<rect x="732.02" y="64.3" width="18.35" height="8.68" fill="#22a884"/>
<rect x="732.02" y="72.28" width="18.35" height="8.68" fill="#69cd5b"/>
<rect x="732.02" y="80.26" width="18.35" height="8.68" fill="#e5e419"/>
<rect x="732.02" y="88.24" width="18.35" height="8.68" fill="#fde725"/>
<rect x="732.02" y="96.21" width="18.35" height="8.68" fill="#bddf26"/>
<rect x="732.02" y="104.19" width="18.35" height="8.68" fill="#63cb5f"/>
<rect x="732.02" y="112.17" width="18.35" height="8.68" fill="#26ad81"/>
<rect x="732.02" y="120.15" width="18.35" height="8.68" fill="#1f958b"/>
<rect x="732.02" y="128.13" width="18.35" height="8.68" fill="#2a788e"/>
<rect x="732.02" y="136.11" width="18.35" height="8.68" fill="#31678e"/>
<rect x="732.02" y="144.09" width="18.35" height="8.68" fill="#3e4989"/>
<rect x="732.02" y="152.06" width="18.35" height="8.68" fill="#433e85"/>
<rect x="732.02" y="160.04" width="18.35" height="8.68" fill="#433e85"/>
<rect x="732.02" y="168.02" width="18.35" height="8.68" fill="#433e85"/>
<rect x="750.07" y="32.39" width="18.35" height="8.68" fill="#440154"/>
<rect x="750.07" y="40.36" width="18.35" height="8.68" fill="#440154"/>
<rect x="750.07" y="48.34" width="18.35" height="8.68" fill="#32648e"/>
<rect x="750.07" y="56.32" width="18.35" height="8.68" fill="#228b8d"/>
<rect x="750.07" y="64.3" width="18.35" height="8.68" fill="#2fb47c"/>
<rect x="750.07" y="72.28" width="18.35" height="8.68" fill="#86d549"/>
<rect x="750.07" y="80.26" width="18.35" height="8.68" fill="#ece51b"/>
<rect x="750.07" y="88.24" width="18.35" height="8.68" fill="#fde725"/>
<rect x="750.07" y="96.21" width="18.35" height="8.68" fill="#cae11f"/>
<rect x="750.07" y="104.19" width="18.35" height="8.68" fill="#7ad151"/>
<rect x="750.07" y="112.17" width="18.35" height="8.68" fill="#2fb47c"/>
<rect x="750.07" y="120.15" width="18.35" height="8.68" fill="#1f9a8a"/>
<rect x="750.07" y="128.13" width="18.35" height="8.68" fill="#287d8e"/>
<rect x="750.07" y="136.11" width="18.35" height="8.68" fill="#31678e"/>
<rect x="750.07" y="144.09" width="18.35" height="8.68" fill="#3e4989"/>
<rect x="750.07" y="152.06" width="18.35" height="8.68" fill="#481d6f"/>
<rect x="750.07" y="160.04" width="18.35" height="8.68" fill="#482475"/>
<rect x="750.07" y="168.02" width="18.35" height="8.68" fill="#482475"/>
<rect x="768.12" y="32.39" width="18.35" height="8.68" fill="#481d6f"/>
<rect x="768.12" y="40.36" width="18.35" height="8.68" fill="#440154"/>
<rect x="768.12" y="48.34" width="18.35" height="8.68" fill="#2f6c8e"/>
<rect x="768.12" y="56.32" width="18.35" height="8.68" fill="#1f958b"/>
<rect x="768.12" y="64.3" width="18.35" height="8.68" fill="#3bbb75"/>
<rect x="768.12" y="72.28" width="18.35" height="8.68" fill="#8ed645"/>
<rect x="768.12" y="80.26" width="18.35" height="8.68" fill="#ece51b"/>
<rect x="768.12" y="88.24" width="18.35" height="8.68" fill="#fde725"/>
<rect x="768.12" y="96.21" width="18.35" height="8.68" fill="#cae11f"/>
<rect x="768.12" y="104.19" width="18.35" height="8.68" fill="#7ad151"/>
<rect x="768.12" y="112.17" width="18.35" height="8.68" fill="#2cb17e"/>
<rect x="768.12" y="120.15" width="18.35" height="8.68" fill="#1f958b"/>
<rect x="768.12" y="128.13" width="18.35" height="8.68" fill="#287d8e"/>
<rect x="768.12" y="136.11" width="18.35" height="8.68" fill="#355f8d"/>
<rect x="768.12" y="144.09" width="18.35" height="8.68" fill="#38588c"/>
<rect x="768.12" y="152.06" width="18.35" height="8.68" fill="#3e4989"/>
<rect x="768.12" y="160.04" width="18.35" height="8.68" fill="#481d6f"/>
<rect x="768.12" y="168.02" width="18.35" height="8.68" fill="#472a7a"/>
<rect x="786.18" y="32.39" width="18.35" height="8.68" fill="#440154"/>
<rect x="786.18" y="40.36" width="18.35" height="8.68" fill="#433e85"/>
<rect x="786.18" y="48.34" width="18.35" height="8.68" fill="#2c738e"/>
<rect x="786.18" y="56.32" width="18.35" height="8.68" fill="#1f9a8a"/>
<rect x="786.18" y="64.3" width="18.35" height="8.68" fill="#3bbb75"/>
<rect x="786.18" y="72.28" width="18.35" height="8.68" fill="#7ad151"/>
<rect x="786.18" y="80.26" width="18.35" height="8.68" fill="#dfe318"/>
<rect x="786.18" y="88.24" width="18.35" height="8.68" fill="#f1e51d"/>
<rect x="786.18" y="96.21" width="18.35" height="8.68" fill="#bddf26"/>
<rect x="786.18" y="104.19" width="18.35" height="8.68" fill="#5ec962"/>
<rect x="786.18" y="112.17" width="18.35" height="8.68" fill="#22a884"/>
<rect x="786.18" y="120.15" width="18.35" height="8.68" fill="#21918c"/>
<rect x="786.18" y="128.13" width="18.35" height="8.68" fill="#287d8e"/>
<rect x="786.18" y="136.11" width="18.35" height="8.68" fill="#355f8d"/>
<rect x="786.18" y="144.09" width="18.35" height="8.68" fill="#38588c"/>
<rect x="786.18" y="152.06" width="18.35" height="8.68" fill="#433e85"/>
<rect x="786.18" y="160.04" width="18.35" height="8.68" fill="#482475"/>
<rect x="786.18" y="168.02" width="18.35" height="8.68" fill="#440154"/>
<rect x="804.23" y="32.39" width="18.35" height="8.68" fill="#440154"/>
<rect x="804.23" y="40.36" width="18.35" height="8.68" fill="#482475"/>
<rect x="804.23" y="48.34" width="18.35" height="8.68" fill="#2a788e"/>
<rect x="804.23" y="56.32" width="18.35" height="8.68" fill="#1f9a8a"/>
<rect x="804.23" y="64.3" width="18.35" height="8.68" fill="#32b67a"/>
<rect x="804.23" y="72.28" width="18.35" height="8.68" fill="#6ece58"/>
<rect x="804.23" y="80.26" width="18.35" height="8.68" fill="#cae11f"/>
<rect x="804.23" y="88.24" width="18.35" height="8.68" fill="#dfe318"/>
<rect x="804.23" y="96.21" width="18.35" height="8.68" fill="#a2da37"/>
<rect x="804.23" y="104.19" width="18.35" height="8.68" fill="#3bbb75"/>
<rect x="804.23" y="112.17" width="18.35" height="8.68" fill="#1e9c89"/>
<rect x="804.23" y="120.15" width="18.35" height="8.68" fill="#24868e"/>
<rect x="804.23" y="128.13" width="18.35" height="8.68" fill="#2a788e"/>
<rect x="804.23" y="136.11" width="18.35" height="8.68" fill="#463480"/>
<rect x="804.23" y="144.09" width="18.35" height="8.68" fill="#3b528b"/>
<rect x="804.23" y="152.06" width="18.35" height="8.68" fill="#463480"/>
<rect x="804.23" y="160.04" width="18.35" height="8.68" fill="#433e85"/>
<rect x="804.23" y="168.02" width="18.35" height="8.68" fill="#440154"/>
<rect x="822.28" y="32.39" width="18.35" height="8.68" fill="#481d6f"/>
<rect x="822.28" y="40.36" width="18.35" height="8.68" fill="#414487"/>
<rect x="822.28" y="48.34" width="18.35" height="8.68" fill="#2a788e"/>
<rect x="822.28" y="56.32" width="18.35" height="8.68" fill="#1f958b"/>
<rect x="822.28" y="64.3" width="18.35" height="8.68" fill="#29af7f"/>
<rect x="822.28" y="72.28" width="18.35" height="8.68" fill="#58c765"/>
<rect x="822.28" y="80.26" width="18.35" height="8.68" fill="#a8db34"/>
<rect x="822.28" y="88.24" width="18.35" height="8.68" fill="#bddf26"/>
<rect x="822.28" y="96.21" width="18.35" height="8.68" fill="#7ad151"/>
<rect x="822.28" y="104.19" width="18.35" height="8.68" fill="#22a884"/>
<rect x="822.28" y="112.17" width="18.35" height="8.68" fill="#21918c"/>
<rect x="822.28" y="120.15" width="18.35" height="8.68" fill="#287d8e"/>
<rect x="822.28" y="128.13" width="18.35" height="8.68" fill="#2e6f8e"/>
<rect x="822.28" y="136.11" width="18.35" height="8.68" fill="#375a8c"/>
<rect x="822.28" y="144.09" width="18.35" height="8.68" fill="#472a7a"/>
<rect x="822.28" y="152.06" width="18.35" height="8.68" fill="#481d6f"/>
<rect x="822.28" y="160.04" width="18.35" height="8.68" fill="#440154"/>
<rect x="840.34" y="40.36" width="18.35" height="8.68" fill="#482475"/>
<rect x="840.34" y="48.34" width="18.35" height="8.68" fill="#2c738e"/>
<rect x="840.34" y="56.32" width="18.35" height="8.68" fill="#21918c"/>
<rect x="840.34" y="64.3" width="18.35" height="8.68" fill="#22a884"/>
<rect x="840.34" y="72.28" width="18.35" height="8.68" fill="#44bf70"/>
<rect x="840.34" y="80.26" width="18.35" height="8.68" fill="#86d549"/>
<rect x="840.34" y="88.24" width="18.35" height="8.68" fill="#9bd93c"/>
<rect x="840.34" y="96.21" width="18.35" height="8.68" fill="#58c765"/>
<rect x="840.34" y="104.19" width="18.35" height="8.68" fill="#1e9c89"/>
<rect x="840.34" y="112.17" width="18.35" height="8.68" fill="#24868e"/>
<rect x="840.34" y="120.15" width="18.35" height="8.68" fill="#2a788e"/>
<rect x="840.34" y="128.13" width="18.35" height="8.68" fill="#306a8e"/>
<rect x="840.34" y="136.11" width="18.35" height="8.68" fill="#482475"/>
<rect x="840.34" y="144.09" width="18.35" height="8.68" fill="#433e85"/>
<rect x="858.39" y="40.36" width="18.35" height="8.68" fill="#3e4989"/>
<rect x="858.39" y="48.34" width="18.35" height="8.68" fill="#2c738e"/>
<rect x="858.39" y="56.32" width="18.35" height="8.68" fill="#228b8d"/>
<rect x="858.39" y="64.3" width="18.35" height="8.68" fill="#20a386"/>
<rect x="858.39" y="72.28" width="18.35" height="8.68" fill="#37b878"/>
<rect x="858.39" y="80.26" width="18.35" height="8.68" fill="#6ece58"/>
<rect x="858.39" y="88.24" width="18.35" height="8.68" fill="#7ad151"/>
<rect x="858.39" y="96.21" width="18.35" height="8.68" fill="#44bf70"/>
<rect x="858.39" y="104.19" width="18.35" height="8.68" fill="#21918c"/>
<rect x="858.39" y="112.17" width="18.35" height="8.68" fill="#27808e"/>
<rect x="858.39" y="120.15" width="18.35" height="8.68" fill="#2d718e"/>
<rect x="858.39" y="128.13" width="18.35" height="8.68" fill="#355f8d"/>
<rect x="858.39" y="136.11" width="18.35" height="8.68" fill="#3e4989"/>
<rect x="858.39" y="144.09" width="18.35" height="8.68" fill="#433e85"/>
<rect x="858.39" y="168.02" width="18.35" height="8.68" fill="#463480"/>
<rect x="876.44" y="32.39" width="18.35" height="8.68" fill="#440154"/>
<rect x="876.44" y="40.36" width="18.35" height="8.68" fill="#3e4989"/>
<rect x="876.44" y="48.34" width="18.35" height="8.68" fill="#2e6f8e"/>
<rect x="876.44" y="56.32" width="18.35" height="8.68" fill="#24868e"/>
<rect x="876.44" y="64.3" width="18.35" height="8.68" fill="#1f9f88"/>
<rect x="876.44" y="72.28" width="18.35" height="8.68" fill="#2cb17e"/>
<rect x="876.44" y="80.26" width="18.35" height="8.68" fill="#58c765"/>
<rect x="876.44" y="88.24" width="18.35" height="8.68" fill="#63cb5f"/>
<rect x="876.44" y="96.21" width="18.35" height="8.68" fill="#32b67a"/>
<rect x="876.44" y="104.19" width="18.35" height="8.68" fill="#23898e"/>
<rect x="876.44" y="112.17" width="18.35" height="8.68" fill="#2a788e"/>
<rect x="876.44" y="120.15" width="18.35" height="8.68" fill="#306a8e"/>
<rect x="876.44" y="128.13" width="18.35" height="8.68" fill="#414487"/>
<rect x="876.44" y="136.11" width="18.35" height="8.68" fill="#463480"/>
<rect x="876.44" y="144.09" width="18.35" height="8.68" fill="#481d6f"/>
<rect x="876.44" y="160.04" width="18.35" height="8.68" fill="#482475"/>
<rect x="894.5" y="40.36" width="18.35" height="8.68" fill="#3b528b"/>
<rect x="894.5" y="48.34" width="18.35" height="8.68" fill="#2f6c8e"/>
<rect x="894.5" y="56.32" width="18.35" height="8.68" fill="#26828e"/>
<rect x="894.5" y="64.3" width="18.35" height="8.68" fill="#1f9a8a"/>
<rect x="894.5" y="72.28" width="18.35" height="8.68" fill="#26ad81"/>
<rect x="894.5" y="80.26" width="18.35" height="8.68" fill="#44bf70"/>
<rect x="894.5" y="88.24" width="18.35" height="8.68" fill="#4ec36b"/>
<rect x="894.5" y="96.21" width="18.35" height="8.68" fill="#26ad81"/>
<rect x="894.5" y="104.19" width="18.35" height="8.68" fill="#25848e"/>
<rect x="894.5" y="112.17" width="18.35" height="8.68" fill="#2c738e"/>
<rect x="894.5" y="120.15" width="18.35" height="8.68" fill="#482475"/>
<rect x="894.5" y="128.13" width="18.35" height="8.68" fill="#433e85"/>
<rect x="894.5" y="136.11" width="18.35" height="8.68" fill="#463480"/>
<rect x="894.5" y="144.09" width="18.35" height="8.68" fill="#482475"/>
<path d="M641.75 92.23H912.55" stroke="#f00" stroke-width="1.8" fill="none"/>
<path d="M641.75 83.85H912.55" stroke="#f00" stroke-width="1.8" stroke-dasharray="5.4 2.35" fill="none"/>
<path d="M641.75 100.6H912.55" stroke="#f00" stroke-width="1.8" stroke-dasharray="5.4 2.35" fill="none"/>
<circle cx="651.42" cy="106.3" r="2.1" fill="#000"/>
<circle cx="670.76" cy="97.25" r="2.1" fill="#000"/>
<circle cx="690.11" cy="94.03" r="2.1" fill="#000"/>
<circle cx="709.45" cy="92.69" r="2.1" fill="#000"/>
<circle cx="728.79" cy="91.3" r="2.1" fill="#000"/>
<circle cx="748.14" cy="91.09" r="2.1" fill="#000"/>
<circle cx="767.48" cy="90.63" r="2.1" fill="#000"/>
<circle cx="786.82" cy="90.17" r="2.1" fill="#000"/>
<circle cx="806.16" cy="89.71" r="2.1" fill="#000"/>
<circle cx="825.51" cy="89.29" r="2.1" fill="#000"/>
<circle cx="844.85" cy="88.83" r="2.1" fill="#000"/>
<circle cx="864.19" cy="88.37" r="2.1" fill="#000"/>
<circle cx="883.54" cy="87.91" r="2.1" fill="#000"/>
<circle cx="902.88" cy="86.78" r="2.1" fill="#000"/>
<path d="M651.42 124.27V88.58M648.52 124.27h5.8M648.52 88.58h5.8M670.76 112.46V82.67M667.86 112.46h5.8M667.86 82.67h5.8M690.11 106.76V81.75M687.21 106.76h5.8M687.21 81.75h5.8M709.45 104.5V81.33M706.55 104.5h5.8M706.55 81.33h5.8M728.79 102.24V80.62M725.89 102.24h5.8M725.89 80.62h5.8M748.14 102.24V79.95M745.24 102.24h5.8M745.24 79.95h5.8M767.48 101.98V79.03M764.58 101.98h5.8M764.58 79.03h5.8M786.82 101.98V78.15M783.92 101.98h5.8M783.92 78.15h5.8M806.16 101.98V77.48M803.26 101.98h5.8M803.26 77.48h5.8M825.51 101.78V76.56M822.61 101.78h5.8M822.61 76.56h5.8M844.85 101.78V75.64M841.95 101.78h5.8M841.95 75.64h5.8M864.19 101.78V74.72M861.29 101.78h5.8M861.29 74.72h5.8M883.54 101.98V73.79M880.64 101.98h5.8M880.64 73.79h5.8M902.88 100.39V72.96M899.98 100.39h5.8M899.98 72.96h5.8" stroke="#000" stroke-width="1.45" fill="none"/>
<rect x="641.75" y="8.45" width="270.8" height="167.55" fill="none" stroke="#000" stroke-opacity="0.88" stroke-width="0.8"/>
<path d="M641.75 8.45h-3.4M641.75 50.34h-3.4M641.75 92.23h-3.4M641.75 134.11h-3.4M641.75 176h-3.4M719.12 176v3.4M815.84 176v3.4M912.55 176v3.4" stroke="#000" stroke-width="0.8" fill="none"/>
</g>
<g>
<rect x="934.3" y="64.3" width="34.15" height="8.68" fill="#440154"/>
<rect x="934.3" y="80.26" width="34.15" height="8.68" fill="#2f6c8e"/>
<rect x="934.3" y="88.24" width="34.15" height="8.68" fill="#25848e"/>
<rect x="934.3" y="96.21" width="34.15" height="8.68" fill="#355f8d"/>
<rect x="968.15" y="64.3" width="34.15" height="8.68" fill="#482475"/>
<rect x="968.15" y="72.28" width="34.15" height="8.68" fill="#2c738e"/>
<rect x="968.15" y="80.26" width="34.15" height="8.68" fill="#28ae80"/>
<rect x="968.15" y="88.24" width="34.15" height="8.68" fill="#65cb5e"/>
<rect x="968.15" y="96.21" width="34.15" height="8.68" fill="#21918c"/>
<rect x="968.15" y="104.19" width="34.15" height="8.68" fill="#414487"/>
<rect x="968.15" y="112.17" width="34.15" height="8.68" fill="#481d6f"/>
<rect x="968.15" y="120.15" width="34.15" height="8.68" fill="#481d6f"/>
<rect x="1002" y="40.36" width="34.15" height="8.68" fill="#481d6f"/>
<rect x="1002" y="48.34" width="34.15" height="8.68" fill="#433e85"/>
<rect x="1002" y="56.32" width="34.15" height="8.68" fill="#3e4989"/>
<rect x="1002" y="64.3" width="34.15" height="8.68" fill="#2a788e"/>
<rect x="1002" y="72.28" width="34.15" height="8.68" fill="#23a983"/>
<rect x="1002" y="80.26" width="34.15" height="8.68" fill="#a2da37"/>
<rect x="1002" y="88.24" width="34.15" height="8.68" fill="#ece51b"/>
<rect x="1002" y="96.21" width="34.15" height="8.68" fill="#28ae80"/>
<rect x="1002" y="104.19" width="34.15" height="8.68" fill="#25848e"/>
<rect x="1002" y="112.17" width="34.15" height="8.68" fill="#2c738e"/>
<rect x="1002" y="120.15" width="34.15" height="8.68" fill="#375a8c"/>
<rect x="1002" y="128.13" width="34.15" height="8.68" fill="#440154"/>
<rect x="1002" y="144.09" width="34.15" height="8.68" fill="#440154"/>
<rect x="1035.85" y="32.39" width="34.15" height="8.68" fill="#440154"/>
<rect x="1035.85" y="40.36" width="34.15" height="8.68" fill="#481d6f"/>
<rect x="1035.85" y="48.34" width="34.15" height="8.68" fill="#375a8c"/>
<rect x="1035.85" y="56.32" width="34.15" height="8.68" fill="#287d8e"/>
<rect x="1035.85" y="64.3" width="34.15" height="8.68" fill="#20a486"/>
<rect x="1035.85" y="72.28" width="34.15" height="8.68" fill="#77d153"/>
<rect x="1035.85" y="80.26" width="34.15" height="8.68" fill="#e7e419"/>
<rect x="1035.85" y="88.24" width="34.15" height="8.68" fill="#fde725"/>
<rect x="1035.85" y="96.21" width="34.15" height="8.68" fill="#84d44b"/>
<rect x="1035.85" y="104.19" width="34.15" height="8.68" fill="#28ae80"/>
<rect x="1035.85" y="112.17" width="34.15" height="8.68" fill="#1f958b"/>
<rect x="1035.85" y="120.15" width="34.15" height="8.68" fill="#25848e"/>
<rect x="1035.85" y="128.13" width="34.15" height="8.68" fill="#2c738e"/>
<rect x="1035.85" y="136.11" width="34.15" height="8.68" fill="#355f8d"/>
<rect x="1035.85" y="144.09" width="34.15" height="8.68" fill="#3e4989"/>
<rect x="1035.85" y="152.06" width="34.15" height="8.68" fill="#463480"/>
<rect x="1035.85" y="160.04" width="34.15" height="8.68" fill="#481d6f"/>
<rect x="1035.85" y="168.02" width="34.15" height="8.68" fill="#481d6f"/>
<rect x="1069.7" y="24.41" width="34.15" height="8.68" fill="#440154"/>
<rect x="1069.7" y="32.39" width="34.15" height="8.68" fill="#472a7a"/>
<rect x="1069.7" y="40.36" width="34.15" height="8.68" fill="#414487"/>
<rect x="1069.7" y="48.34" width="34.15" height="8.68" fill="#287d8e"/>
<rect x="1069.7" y="56.32" width="34.15" height="8.68" fill="#1e9d89"/>
<rect x="1069.7" y="64.3" width="34.15" height="8.68" fill="#48c16e"/>
<rect x="1069.7" y="72.28" width="34.15" height="8.68" fill="#9dd93b"/>
<rect x="1069.7" y="80.26" width="34.15" height="8.68" fill="#dae319"/>
<rect x="1069.7" y="88.24" width="34.15" height="8.68" fill="#f4e61e"/>
<rect x="1069.7" y="96.21" width="34.15" height="8.68" fill="#b5de2b"/>
<rect x="1069.7" y="104.19" width="34.15" height="8.68" fill="#5ec962"/>
<rect x="1069.7" y="112.17" width="34.15" height="8.68" fill="#28ae80"/>
<rect x="1069.7" y="120.15" width="34.15" height="8.68" fill="#1f958b"/>
<rect x="1069.7" y="128.13" width="34.15" height="8.68" fill="#26828e"/>
<rect x="1069.7" y="136.11" width="34.15" height="8.68" fill="#2c738e"/>
<rect x="1069.7" y="144.09" width="34.15" height="8.68" fill="#355f8d"/>
<rect x="1069.7" y="152.06" width="34.15" height="8.68" fill="#3e4989"/>
<rect x="1069.7" y="160.04" width="34.15" height="8.68" fill="#463480"/>
<rect x="1069.7" y="168.02" width="34.15" height="8.68" fill="#3e4989"/>
<rect x="1103.55" y="16.43" width="34.15" height="8.68" fill="#440154"/>
<rect x="1103.55" y="24.41" width="34.15" height="8.68" fill="#481d6f"/>
<rect x="1103.55" y="32.39" width="34.15" height="8.68" fill="#3e4989"/>
<rect x="1103.55" y="40.36" width="34.15" height="8.68" fill="#2c738e"/>
<rect x="1103.55" y="48.34" width="34.15" height="8.68" fill="#21918c"/>
<rect x="1103.55" y="56.32" width="34.15" height="8.68" fill="#23a983"/>
<rect x="1103.55" y="64.3" width="34.15" height="8.68" fill="#54c568"/>
<rect x="1103.55" y="72.28" width="34.15" height="8.68" fill="#90d743"/>
<rect x="1103.55" y="80.26" width="34.15" height="8.68" fill="#b5de2b"/>
<rect x="1103.55" y="88.24" width="34.15" height="8.68" fill="#d0e11c"/>
<rect x="1103.55" y="96.21" width="34.15" height="8.68" fill="#a8db34"/>
<rect x="1103.55" y="104.19" width="34.15" height="8.68" fill="#69cd5b"/>
<rect x="1103.55" y="112.17" width="34.15" height="8.68" fill="#2eb37c"/>
<rect x="1103.55" y="120.15" width="34.15" height="8.68" fill="#1f9a8a"/>
<rect x="1103.55" y="128.13" width="34.15" height="8.68" fill="#25848e"/>
<rect x="1103.55" y="136.11" width="34.15" height="8.68" fill="#2c738e"/>
<rect x="1103.55" y="144.09" width="34.15" height="8.68" fill="#32648e"/>
<rect x="1103.55" y="152.06" width="34.15" height="8.68" fill="#3b528b"/>
<rect x="1103.55" y="160.04" width="34.15" height="8.68" fill="#3b528b"/>
<rect x="1103.55" y="168.02" width="34.15" height="8.68" fill="#472a7a"/>
<rect x="1137.4" y="8.45" width="34.15" height="8.68" fill="#440154"/>
<rect x="1137.4" y="32.39" width="34.15" height="8.68" fill="#375a8c"/>
<rect x="1137.4" y="40.36" width="34.15" height="8.68" fill="#2a788e"/>
<rect x="1137.4" y="48.34" width="34.15" height="8.68" fill="#1f958b"/>
<rect x="1137.4" y="56.32" width="34.15" height="8.68" fill="#28ae80"/>
<rect x="1137.4" y="64.3" width="34.15" height="8.68" fill="#48c16e"/>
<rect x="1137.4" y="72.28" width="34.15" height="8.68" fill="#77d153"/>
<rect x="1137.4" y="80.26" width="34.15" height="8.68" fill="#9dd93b"/>
<rect x="1137.4" y="88.24" width="34.15" height="8.68" fill="#a8db34"/>
<rect x="1137.4" y="96.21" width="34.15" height="8.68" fill="#84d44b"/>
<rect x="1137.4" y="104.19" width="34.15" height="8.68" fill="#48c16e"/>
<rect x="1137.4" y="112.17" width="34.15" height="8.68" fill="#23a983"/>
<rect x="1137.4" y="120.15" width="34.15" height="8.68" fill="#21918c"/>
<rect x="1137.4" y="128.13" width="34.15" height="8.68" fill="#287d8e"/>
<rect x="1137.4" y="136.11" width="34.15" height="8.68" fill="#2c738e"/>
<rect x="1137.4" y="144.09" width="34.15" height="8.68" fill="#355f8d"/>
<rect x="1137.4" y="152.06" width="34.15" height="8.68" fill="#433e85"/>
<rect x="1137.4" y="160.04" width="34.15" height="8.68" fill="#414487"/>
<rect x="1137.4" y="168.02" width="34.15" height="8.68" fill="#472a7a"/>
<rect x="1171.25" y="24.41" width="34.15" height="8.68" fill="#472a7a"/>
<rect x="1171.25" y="32.39" width="34.15" height="8.68" fill="#375a8c"/>
<rect x="1171.25" y="40.36" width="34.15" height="8.68" fill="#2a788e"/>
<rect x="1171.25" y="48.34" width="34.15" height="8.68" fill="#1f958b"/>
<rect x="1171.25" y="56.32" width="34.15" height="8.68" fill="#23a983"/>
<rect x="1171.25" y="64.3" width="34.15" height="8.68" fill="#3fbc73"/>
<rect x="1171.25" y="72.28" width="34.15" height="8.68" fill="#65cb5e"/>
<rect x="1171.25" y="80.26" width="34.15" height="8.68" fill="#77d153"/>
<rect x="1171.25" y="88.24" width="34.15" height="8.68" fill="#84d44b"/>
<rect x="1171.25" y="96.21" width="34.15" height="8.68" fill="#54c568"/>
<rect x="1171.25" y="104.19" width="34.15" height="8.68" fill="#28ae80"/>
<rect x="1171.25" y="112.17" width="34.15" height="8.68" fill="#1f958b"/>
<rect x="1171.25" y="120.15" width="34.15" height="8.68" fill="#26828e"/>
<rect x="1171.25" y="128.13" width="34.15" height="8.68" fill="#2c738e"/>
<rect x="1171.25" y="136.11" width="34.15" height="8.68" fill="#3b528b"/>
<rect x="1171.25" y="144.09" width="34.15" height="8.68" fill="#433e85"/>
<rect x="1171.25" y="152.06" width="34.15" height="8.68" fill="#482475"/>
<rect x="1171.25" y="160.04" width="34.15" height="8.68" fill="#440154"/>
<rect x="1171.25" y="168.02" width="34.15" height="8.68" fill="#440154"/>
<path d="M934.3 92.23H1205.1" stroke="#f00" stroke-width="1.8" fill="none"/>
<path d="M934.3 83.85H1205.1" stroke="#f00" stroke-width="1.8" stroke-dasharray="5.4 2.35" fill="none"/>
<path d="M934.3 100.6H1205.1" stroke="#f00" stroke-width="1.8" stroke-dasharray="5.4 2.35" fill="none"/>
<circle cx="953.64" cy="89.71" r="2.1" fill="#000"/>
<circle cx="992.33" cy="89.96" r="2.1" fill="#000"/>
<circle cx="1031.01" cy="89.5" r="2.1" fill="#000"/>
<circle cx="1069.7" cy="89.71" r="2.1" fill="#000"/>
<circle cx="1108.39" cy="90.84" r="2.1" fill="#000"/>
<circle cx="1147.07" cy="90.42" r="2.1" fill="#000"/>
<circle cx="1185.76" cy="88.12" r="2.1" fill="#000"/>
<path d="M953.64 94.32V84.69M950.74 94.32h5.8M950.74 84.69h5.8M992.33 95.58V84.06M989.43 95.58h5.8M989.43 84.06h5.8M1031.01 96.33V82.47M1028.11 96.33h5.8M1028.11 82.47h5.8M1069.7 99.76V80.2M1066.8 99.76h5.8M1066.8 80.2h5.8M1108.39 104.25V77.48M1105.49 104.25h5.8M1105.49 77.48h5.8M1147.07 106.05V74.72M1144.17 106.05h5.8M1144.17 74.72h5.8M1185.76 104.04V71.78M1182.86 104.04h5.8M1182.86 71.78h5.8" stroke="#000" stroke-width="1.45" fill="none"/>
<rect x="934.3" y="8.45" width="270.8" height="167.55" fill="none" stroke="#000" stroke-opacity="0.88" stroke-width="0.8"/>
<path d="M934.3 8.45h-3.4M934.3 50.34h-3.4M934.3 92.23h-3.4M934.3 134.11h-3.4M934.3 176h-3.4M972.99 176v3.4M1050.36 176v3.4M1127.73 176v3.4M1205.1 176v3.4" stroke="#000" stroke-width="0.8" fill="none"/>
</g>
<g>
<rect x="56.65" y="248.82" width="24.92" height="8.68" fill="#472a7a"/>
<rect x="56.65" y="256.8" width="24.92" height="8.68" fill="#3b528b"/>
<rect x="56.65" y="264.78" width="24.92" height="8.68" fill="#2c738e"/>
<rect x="56.65" y="272.76" width="24.92" height="8.68" fill="#28ae80"/>
<rect x="56.65" y="280.74" width="24.92" height="8.68" fill="#a2da37"/>
<rect x="56.65" y="288.71" width="24.92" height="8.68" fill="#1e9d89"/>
<rect x="56.65" y="296.69" width="24.92" height="8.68" fill="#3e4989"/>
<rect x="56.65" y="304.67" width="24.92" height="8.68" fill="#440154"/>
<rect x="81.27" y="240.84" width="24.92" height="8.68" fill="#440154"/>
<rect x="81.27" y="248.82" width="24.92" height="8.68" fill="#3e4989"/>
<rect x="81.27" y="256.8" width="24.92" height="8.68" fill="#25848e"/>
<rect x="81.27" y="264.78" width="24.92" height="8.68" fill="#23a983"/>
<rect x="81.27" y="272.76" width="24.92" height="8.68" fill="#c2df23"/>
<rect x="81.27" y="280.74" width="24.92" height="8.68" fill="#f4e61e"/>
<rect x="81.27" y="288.71" width="24.92" height="8.68" fill="#65cb5e"/>
<rect x="81.27" y="296.69" width="24.92" height="8.68" fill="#355f8d"/>
<rect x="81.27" y="312.65" width="24.92" height="8.68" fill="#440154"/>
<rect x="105.89" y="240.84" width="24.92" height="8.68" fill="#482475"/>
<rect x="105.89" y="248.82" width="24.92" height="8.68" fill="#355f8d"/>
<rect x="105.89" y="256.8" width="24.92" height="8.68" fill="#228b8d"/>
<rect x="105.89" y="264.78" width="24.92" height="8.68" fill="#3fbc73"/>
<rect x="105.89" y="272.76" width="24.92" height="8.68" fill="#e2e418"/>
<rect x="105.89" y="280.74" width="24.92" height="8.68" fill="#fde725"/>
<rect x="105.89" y="288.71" width="24.92" height="8.68" fill="#84d44b"/>
<rect x="105.89" y="296.69" width="24.92" height="8.68" fill="#25848e"/>
<rect x="105.89" y="304.67" width="24.92" height="8.68" fill="#3e4989"/>
<rect x="130.5" y="232.86" width="24.92" height="8.68" fill="#481d6f"/>
<rect x="130.5" y="240.84" width="24.92" height="8.68" fill="#482475"/>
<rect x="130.5" y="248.82" width="24.92" height="8.68" fill="#3e4989"/>
<rect x="130.5" y="256.8" width="24.92" height="8.68" fill="#228b8d"/>
<rect x="130.5" y="264.78" width="24.92" height="8.68" fill="#48c16e"/>
<rect x="130.5" y="272.76" width="24.92" height="8.68" fill="#e7e419"/>
<rect x="130.5" y="280.74" width="24.92" height="8.68" fill="#fde725"/>
<rect x="130.5" y="288.71" width="24.92" height="8.68" fill="#90d743"/>
<rect x="130.5" y="296.69" width="24.92" height="8.68" fill="#23898e"/>
<rect x="130.5" y="304.67" width="24.92" height="8.68" fill="#414487"/>
<rect x="130.5" y="320.63" width="24.92" height="8.68" fill="#440154"/>
<rect x="155.12" y="248.82" width="24.92" height="8.68" fill="#375a8c"/>
<rect x="155.12" y="256.8" width="24.92" height="8.68" fill="#25848e"/>
<rect x="155.12" y="264.78" width="24.92" height="8.68" fill="#48c16e"/>
<rect x="155.12" y="272.76" width="24.92" height="8.68" fill="#e7e419"/>
<rect x="155.12" y="280.74" width="24.92" height="8.68" fill="#fde725"/>
<rect x="155.12" y="288.71" width="24.92" height="8.68" fill="#90d743"/>
<rect x="155.12" y="296.69" width="24.92" height="8.68" fill="#24868e"/>
<rect x="155.12" y="304.67" width="24.92" height="8.68" fill="#414487"/>
<rect x="155.12" y="312.65" width="24.92" height="8.68" fill="#472a7a"/>
<rect x="155.12" y="320.63" width="24.92" height="8.68" fill="#440154"/>
<rect x="179.74" y="248.82" width="24.92" height="8.68" fill="#3b528b"/>
<rect x="179.74" y="256.8" width="24.92" height="8.68" fill="#27808e"/>
<rect x="179.74" y="264.78" width="24.92" height="8.68" fill="#37b878"/>
<rect x="179.74" y="272.76" width="24.92" height="8.68" fill="#dae319"/>
<rect x="179.74" y="280.74" width="24.92" height="8.68" fill="#fde725"/>
<rect x="179.74" y="288.71" width="24.92" height="8.68" fill="#84d44b"/>
<rect x="179.74" y="296.69" width="24.92" height="8.68" fill="#25848e"/>
<rect x="179.74" y="304.67" width="24.92" height="8.68" fill="#463480"/>
<rect x="204.36" y="248.82" width="24.92" height="8.68" fill="#414487"/>
<rect x="204.36" y="256.8" width="24.92" height="8.68" fill="#2a788e"/>
<rect x="204.36" y="264.78" width="24.92" height="8.68" fill="#23a983"/>
<rect x="204.36" y="272.76" width="24.92" height="8.68" fill="#c2df23"/>
<rect x="204.36" y="280.74" width="24.92" height="8.68" fill="#f4e61e"/>
<rect x="204.36" y="288.71" width="24.92" height="8.68" fill="#69cd5b"/>
<rect x="204.36" y="296.69" width="24.92" height="8.68" fill="#287d8e"/>
<rect x="204.36" y="304.67" width="24.92" height="8.68" fill="#440154"/>
<rect x="228.98" y="240.84" width="24.92" height="8.68" fill="#440154"/>
<rect x="228.98" y="248.82" width="24.92" height="8.68" fill="#414487"/>
<rect x="228.98" y="256.8" width="24.92" height="8.68" fill="#2c738e"/>
<rect x="228.98" y="264.78" width="24.92" height="8.68" fill="#1e9d89"/>
<rect x="228.98" y="272.76" width="24.92" height="8.68" fill="#a2da37"/>
<rect x="228.98" y="280.74" width="24.92" height="8.68" fill="#e2e418"/>
<rect x="228.98" y="288.71" width="24.92" height="8.68" fill="#48c16e"/>
<rect x="228.98" y="296.69" width="24.92" height="8.68" fill="#355f8d"/>
<rect x="228.98" y="304.67" width="24.92" height="8.68" fill="#482475"/>
<rect x="253.6" y="240.84" width="24.92" height="8.68" fill="#440154"/>
<rect x="253.6" y="248.82" width="24.92" height="8.68" fill="#481d6f"/>
<rect x="253.6" y="256.8" width="24.92" height="8.68" fill="#32648e"/>
<rect x="253.6" y="264.78" width="24.92" height="8.68" fill="#21918c"/>
<rect x="253.6" y="272.76" width="24.92" height="8.68" fill="#77d153"/>
<rect x="253.6" y="280.74" width="24.92" height="8.68" fill="#c2df23"/>
<rect x="253.6" y="288.71" width="24.92" height="8.68" fill="#32b67a"/>
<rect x="253.6" y="296.69" width="24.92" height="8.68" fill="#472a7a"/>
<rect x="278.21" y="248.82" width="24.92" height="8.68" fill="#481d6f"/>
<rect x="278.21" y="256.8" width="24.92" height="8.68" fill="#433e85"/>
<rect x="278.21" y="264.78" width="24.92" height="8.68" fill="#287d8e"/>
<rect x="278.21" y="272.76" width="24.92" height="8.68" fill="#3fbc73"/>
<rect x="278.21" y="280.74" width="24.92" height="8.68" fill="#a2da37"/>
<rect x="278.21" y="288.71" width="24.92" height="8.68" fill="#20a486"/>
<rect x="278.21" y="296.69" width="24.92" height="8.68" fill="#472a7a"/>
<rect x="278.21" y="304.67" width="24.92" height="8.68" fill="#440154"/>
<rect x="302.83" y="240.84" width="24.92" height="8.68" fill="#440154"/>
<rect x="302.83" y="248.82" width="24.92" height="8.68" fill="#440154"/>
<rect x="302.83" y="256.8" width="24.92" height="8.68" fill="#433e85"/>
<rect x="302.83" y="264.78" width="24.92" height="8.68" fill="#2c738e"/>
<rect x="302.83" y="272.76" width="24.92" height="8.68" fill="#23a983"/>
<rect x="302.83" y="280.74" width="24.92" height="8.68" fill="#84d44b"/>
<rect x="302.83" y="288.71" width="24.92" height="8.68" fill="#1e9d89"/>
<rect x="302.83" y="296.69" width="24.92" height="8.68" fill="#472a7a"/>
<path d="M56.65 284.73H327.45" stroke="#f00" stroke-width="1.8" fill="none"/>
<path d="M56.65 276.35H327.45" stroke="#f00" stroke-width="1.8" stroke-dasharray="5.4 2.35" fill="none"/>
<path d="M56.65 293.1H327.45" stroke="#f00" stroke-width="1.8" stroke-dasharray="5.4 2.35" fill="none"/>
<circle cx="70.19" cy="282" r="2.1" fill="#000"/>
<circle cx="97.27" cy="281.08" r="2.1" fill="#000"/>
<circle cx="124.35" cy="280.87" r="2.1" fill="#000"/>
<circle cx="151.43" cy="280.62" r="2.1" fill="#000"/>
<circle cx="178.51" cy="281.08" r="2.1" fill="#000"/>
<circle cx="205.59" cy="281.79" r="2.1" fill="#000"/>
<circle cx="232.67" cy="281.79" r="2.1" fill="#000"/>
<circle cx="259.75" cy="282.46" r="2.1" fill="#000"/>
<circle cx="286.83" cy="282.67" r="2.1" fill="#000"/>
<circle cx="313.91" cy="282.92" r="2.1" fill="#000"/>
<path d="M70.19 288.37V275.93M67.29 288.37h5.8M67.29 275.93h5.8M97.27 287.24V275.43M94.37 287.24h5.8M94.37 275.43h5.8M124.35 286.99V274.97M121.45 286.99h5.8M121.45 274.97h5.8M151.43 286.53V274.71M148.53 286.53h5.8M148.53 274.71h5.8M178.51 286.99V275.64M175.61 286.99h5.8M175.61 275.64h5.8M205.59 287.24V276.35M202.69 287.24h5.8M202.69 276.35h5.8M232.67 287.24V276.35M229.77 287.24h5.8M229.77 276.35h5.8M259.75 288.12V277.02M256.85 288.12h5.8M256.85 277.02h5.8M286.83 288.37V277.02M283.93 288.37h5.8M283.93 277.02h5.8M313.91 289.04V276.77M311.01 289.04h5.8M311.01 276.77h5.8" stroke="#000" stroke-width="1.45" fill="none"/>
<rect x="56.65" y="200.95" width="270.8" height="167.55" fill="none" stroke="#000" stroke-opacity="0.88" stroke-width="0.8"/>
<path d="M56.65 200.95h-3.4M56.65 242.84h-3.4M56.65 284.73h-3.4M56.65 326.61h-3.4M56.65 368.5h-3.4M56.65 368.5v3.4M110.81 368.5v3.4M164.97 368.5v3.4M219.13 368.5v3.4M273.29 368.5v3.4M327.45 368.5v3.4" stroke="#000" stroke-width="0.8" fill="none"/>
<text x="49.65" y="207.41" font-size="17.0" text-anchor="end">2</text>
<text x="49.65" y="249.3" font-size="17.0" text-anchor="end">1</text>
<text x="49.65" y="291.19" font-size="17.0" text-anchor="end">0</text>
<text x="49.65" y="333.07" font-size="17.0" text-anchor="end">−1</text>
<text x="49.65" y="374.96" font-size="17.0" text-anchor="end">−2</text>
</g>
<g>
<rect x="366.12" y="280.74" width="17.23" height="8.68" fill="#481d6f"/>
<rect x="366.12" y="296.69" width="17.23" height="8.68" fill="#482475"/>
<rect x="399.98" y="256.8" width="17.23" height="8.68" fill="#440154"/>
<rect x="399.98" y="272.76" width="17.23" height="8.68" fill="#482475"/>
<rect x="399.98" y="280.74" width="17.23" height="8.68" fill="#482475"/>
<rect x="416.9" y="248.82" width="17.23" height="8.68" fill="#440154"/>
<rect x="416.9" y="272.76" width="17.23" height="8.68" fill="#433e85"/>
<rect x="416.9" y="280.74" width="17.23" height="8.68" fill="#472a7a"/>
<rect x="416.9" y="288.71" width="17.23" height="8.68" fill="#471365"/>
<rect x="433.82" y="248.82" width="17.23" height="8.68" fill="#440154"/>
<rect x="433.82" y="256.8" width="17.23" height="8.68" fill="#433e85"/>
<rect x="433.82" y="264.78" width="17.23" height="8.68" fill="#3b528b"/>
<rect x="433.82" y="272.76" width="17.23" height="8.68" fill="#3b528b"/>
<rect x="433.82" y="280.74" width="17.23" height="8.68" fill="#433e85"/>
<rect x="433.82" y="296.69" width="17.23" height="8.68" fill="#440154"/>
<rect x="450.75" y="248.82" width="17.23" height="8.68" fill="#440154"/>
<rect x="450.75" y="256.8" width="17.23" height="8.68" fill="#472a7a"/>
<rect x="450.75" y="264.78" width="17.23" height="8.68" fill="#355f8d"/>
<rect x="450.75" y="272.76" width="17.23" height="8.68" fill="#31678e"/>
<rect x="450.75" y="280.74" width="17.23" height="8.68" fill="#3e4989"/>
<rect x="450.75" y="288.71" width="17.23" height="8.68" fill="#482475"/>
<rect x="450.75" y="296.69" width="17.23" height="8.68" fill="#481d6f"/>
<rect x="467.68" y="240.84" width="17.23" height="8.68" fill="#440154"/>
<rect x="467.68" y="248.82" width="17.23" height="8.68" fill="#433e85"/>
<rect x="467.68" y="256.8" width="17.23" height="8.68" fill="#355f8d"/>
<rect x="467.68" y="264.78" width="17.23" height="8.68" fill="#2c738e"/>
<rect x="467.68" y="272.76" width="17.23" height="8.68" fill="#2a788e"/>
<rect x="467.68" y="280.74" width="17.23" height="8.68" fill="#31678e"/>
<rect x="467.68" y="288.71" width="17.23" height="8.68" fill="#3e4989"/>
<rect x="484.6" y="240.84" width="17.23" height="8.68" fill="#440154"/>
<rect x="484.6" y="248.82" width="17.23" height="8.68" fill="#375a8c"/>
<rect x="484.6" y="256.8" width="17.23" height="8.68" fill="#2f6c8e"/>
<rect x="484.6" y="264.78" width="17.23" height="8.68" fill="#27808e"/>
<rect x="484.6" y="272.76" width="17.23" height="8.68" fill="#228b8d"/>
<rect x="484.6" y="280.74" width="17.23" height="8.68" fill="#287d8e"/>
<rect x="484.6" y="288.71" width="17.23" height="8.68" fill="#355f8d"/>
<rect x="484.6" y="296.69" width="17.23" height="8.68" fill="#482475"/>
<rect x="501.52" y="232.86" width="17.23" height="8.68" fill="#481d6f"/>
<rect x="501.52" y="240.84" width="17.23" height="8.68" fill="#433e85"/>
<rect x="501.52" y="248.82" width="17.23" height="8.68" fill="#32648e"/>
<rect x="501.52" y="256.8" width="17.23" height="8.68" fill="#2a788e"/>
<rect x="501.52" y="264.78" width="17.23" height="8.68" fill="#228b8d"/>
<rect x="501.52" y="272.76" width="17.23" height="8.68" fill="#1e9d89"/>
<rect x="501.52" y="280.74" width="17.23" height="8.68" fill="#21918c"/>
<rect x="501.52" y="288.71" width="17.23" height="8.68" fill="#2a788e"/>
<rect x="501.52" y="296.69" width="17.23" height="8.68" fill="#375a8c"/>
<rect x="501.52" y="304.67" width="17.23" height="8.68" fill="#440154"/>
<rect x="518.45" y="240.84" width="17.23" height="8.68" fill="#440154"/>
<rect x="518.45" y="248.82" width="17.23" height="8.68" fill="#355f8d"/>
<rect x="518.45" y="256.8" width="17.23" height="8.68" fill="#25848e"/>
<rect x="518.45" y="264.78" width="17.23" height="8.68" fill="#20a486"/>
<rect x="518.45" y="272.76" width="17.23" height="8.68" fill="#48c16e"/>
<rect x="518.45" y="280.74" width="17.23" height="8.68" fill="#3fbc73"/>
<rect x="518.45" y="288.71" width="17.23" height="8.68" fill="#1e9d89"/>
<rect x="518.45" y="296.69" width="17.23" height="8.68" fill="#2a788e"/>
<rect x="518.45" y="304.67" width="17.23" height="8.68" fill="#3e4989"/>
<rect x="518.45" y="312.65" width="17.23" height="8.68" fill="#440154"/>
<rect x="535.38" y="240.84" width="17.23" height="8.68" fill="#440154"/>
<rect x="535.38" y="248.82" width="17.23" height="8.68" fill="#463480"/>
<rect x="535.38" y="256.8" width="17.23" height="8.68" fill="#287d8e"/>
<rect x="535.38" y="264.78" width="17.23" height="8.68" fill="#28ae80"/>
<rect x="535.38" y="272.76" width="17.23" height="8.68" fill="#a2da37"/>
<rect x="535.38" y="280.74" width="17.23" height="8.68" fill="#b5de2b"/>
<rect x="535.38" y="288.71" width="17.23" height="8.68" fill="#32b67a"/>
<rect x="535.38" y="296.69" width="17.23" height="8.68" fill="#25848e"/>
<rect x="535.38" y="304.67" width="17.23" height="8.68" fill="#375a8c"/>
<rect x="535.38" y="312.65" width="17.23" height="8.68" fill="#440154"/>
<rect x="552.3" y="256.8" width="17.23" height="8.68" fill="#355f8d"/>
<rect x="552.3" y="264.78" width="17.23" height="8.68" fill="#32b67a"/>
<rect x="552.3" y="272.76" width="17.23" height="8.68" fill="#d0e11c"/>
<rect x="552.3" y="280.74" width="17.23" height="8.68" fill="#fde725"/>
<rect x="552.3" y="288.71" width="17.23" height="8.68" fill="#3fbc73"/>
<rect x="552.3" y="296.69" width="17.23" height="8.68" fill="#287d8e"/>
<rect x="552.3" y="304.67" width="17.23" height="8.68" fill="#463480"/>
<rect x="552.3" y="312.65" width="17.23" height="8.68" fill="#440154"/>
<rect x="552.3" y="320.63" width="17.23" height="8.68" fill="#440154"/>
<rect x="569.23" y="256.8" width="17.23" height="8.68" fill="#355f8d"/>
<rect x="569.23" y="264.78" width="17.23" height="8.68" fill="#28ae80"/>
<rect x="569.23" y="272.76" width="17.23" height="8.68" fill="#e2e418"/>
<rect x="569.23" y="280.74" width="17.23" height="8.68" fill="#fde725"/>
<rect x="569.23" y="288.71" width="17.23" height="8.68" fill="#28ae80"/>
<rect x="569.23" y="296.69" width="17.23" height="8.68" fill="#2f6c8e"/>
<rect x="569.23" y="304.67" width="17.23" height="8.68" fill="#440154"/>
<rect x="569.23" y="320.63" width="17.23" height="8.68" fill="#440154"/>
<rect x="586.15" y="256.8" width="17.23" height="8.68" fill="#472a7a"/>
<rect x="586.15" y="264.78" width="17.23" height="8.68" fill="#25848e"/>
<rect x="586.15" y="272.76" width="17.23" height="8.68" fill="#84d44b"/>
<rect x="586.15" y="280.74" width="17.23" height="8.68" fill="#b5de2b"/>
<rect x="586.15" y="288.71" width="17.23" height="8.68" fill="#21918c"/>
<rect x="586.15" y="296.69" width="17.23" height="8.68" fill="#433e85"/>
<rect x="586.15" y="304.67" width="17.23" height="8.68" fill="#440154"/>
<rect x="603.08" y="264.78" width="17.23" height="8.68" fill="#433e85"/>
<rect x="603.08" y="272.76" width="17.23" height="8.68" fill="#2f6c8e"/>
<rect x="603.08" y="280.74" width="17.23" height="8.68" fill="#25848e"/>
<rect x="603.08" y="288.71" width="17.23" height="8.68" fill="#471365"/>
<path d="M349.2 284.73H620" stroke="#f00" stroke-width="1.8" fill="none"/>
<path d="M349.2 276.35H620" stroke="#f00" stroke-width="1.8" stroke-dasharray="5.4 2.35" fill="none"/>
<path d="M349.2 293.1H620" stroke="#f00" stroke-width="1.8" stroke-dasharray="5.4 2.35" fill="none"/>
<circle cx="376.28" cy="294.74" r="2.1" fill="#000"/>
<circle cx="412.39" cy="276.56" r="2.1" fill="#000"/>
<circle cx="430.44" cy="277.02" r="2.1" fill="#000"/>
<circle cx="448.49" cy="269.98" r="2.1" fill="#000"/>
<circle cx="466.55" cy="273.83" r="2.1" fill="#000"/>
<circle cx="484.6" cy="271.11" r="2.1" fill="#000"/>
<circle cx="502.65" cy="275.43" r="2.1" fill="#000"/>
<circle cx="520.71" cy="281.54" r="2.1" fill="#000"/>
<circle cx="538.76" cy="282.46" r="2.1" fill="#000"/>
<circle cx="556.81" cy="281.54" r="2.1" fill="#000"/>
<circle cx="574.87" cy="281.33" r="2.1" fill="#000"/>
<circle cx="592.92" cy="281.33" r="2.1" fill="#000"/>
<circle cx="610.97" cy="280.62" r="2.1" fill="#000"/>
<path d="M376.28 299.93V289.75M373.38 299.93h5.8M373.38 289.75h5.8M412.39 284.73V268.6M409.49 284.73h5.8M409.49 268.6h5.8M430.44 286.32V267.97M427.54 286.32h5.8M427.54 267.97h5.8M448.49 279.28V260.64M445.59 279.28h5.8M445.59 260.64h5.8M466.55 284.52V263.78M463.65 284.52h5.8M463.65 263.78h5.8M484.6 282.21V260.64M481.7 282.21h5.8M481.7 260.64h5.8M502.65 288.37V262.52M499.75 288.37h5.8M499.75 262.52h5.8M520.71 292.01V271.53M517.81 292.01h5.8M517.81 271.53h5.8M538.76 289.75V275.64M535.86 289.75h5.8M535.86 275.64h5.8M556.81 287.24V276.56M553.91 287.24h5.8M553.91 276.56h5.8M574.87 285.86V277.02M571.97 285.86h5.8M571.97 277.02h5.8M592.92 285.4V277.44M590.02 285.4h5.8M590.02 277.44h5.8M610.97 284.73V276.56M608.07 284.73h5.8M608.07 276.56h5.8" stroke="#000" stroke-width="1.45" fill="none"/>
<rect x="349.2" y="200.95" width="270.8" height="167.55" fill="none" stroke="#000" stroke-opacity="0.88" stroke-width="0.8"/>
<path d="M349.2 200.95h-3.4M349.2 242.84h-3.4M349.2 284.73h-3.4M349.2 326.61h-3.4M349.2 368.5h-3.4M349.2 368.5v3.4M416.9 368.5v3.4M484.6 368.5v3.4M552.3 368.5v3.4M620 368.5v3.4" stroke="#000" stroke-width="0.8" fill="none"/>
</g>
<g>
<rect x="641.75" y="272.76" width="18.35" height="8.68" fill="#471365"/>
<rect x="641.75" y="280.74" width="18.35" height="8.68" fill="#482475"/>
<rect x="641.75" y="288.71" width="18.35" height="8.68" fill="#482475"/>
<rect x="659.8" y="272.76" width="18.35" height="8.68" fill="#2a788e"/>
<rect x="659.8" y="280.74" width="18.35" height="8.68" fill="#1e9c89"/>
<rect x="659.8" y="288.71" width="18.35" height="8.68" fill="#2c738e"/>
<rect x="659.8" y="296.69" width="18.35" height="8.68" fill="#414487"/>
<rect x="659.8" y="304.67" width="18.35" height="8.68" fill="#471365"/>
<rect x="677.86" y="256.8" width="18.35" height="8.68" fill="#472a7a"/>
<rect x="677.86" y="264.78" width="18.35" height="8.68" fill="#375a8c"/>
<rect x="677.86" y="272.76" width="18.35" height="8.68" fill="#1e9c89"/>
<rect x="677.86" y="280.74" width="18.35" height="8.68" fill="#6ece58"/>
<rect x="677.86" y="288.71" width="18.35" height="8.68" fill="#21918c"/>
<rect x="677.86" y="296.69" width="18.35" height="8.68" fill="#3b528b"/>
<rect x="695.91" y="256.8" width="18.35" height="8.68" fill="#463480"/>
<rect x="695.91" y="264.78" width="18.35" height="8.68" fill="#287d8e"/>
<rect x="695.91" y="272.76" width="18.35" height="8.68" fill="#4ec36b"/>
<rect x="695.91" y="280.74" width="18.35" height="8.68" fill="#cae11f"/>
<rect x="695.91" y="288.71" width="18.35" height="8.68" fill="#22a884"/>
<rect x="695.91" y="296.69" width="18.35" height="8.68" fill="#2f6c8e"/>
<rect x="695.91" y="304.67" width="18.35" height="8.68" fill="#482475"/>
<rect x="695.91" y="312.65" width="18.35" height="8.68" fill="#440154"/>
<rect x="695.91" y="320.63" width="18.35" height="8.68" fill="#440154"/>
<rect x="713.96" y="248.82" width="18.35" height="8.68" fill="#481d6f"/>
<rect x="713.96" y="256.8" width="18.35" height="8.68" fill="#414487"/>
<rect x="713.96" y="264.78" width="18.35" height="8.68" fill="#21918c"/>
<rect x="713.96" y="272.76" width="18.35" height="8.68" fill="#9bd93c"/>
<rect x="713.96" y="280.74" width="18.35" height="8.68" fill="#ece51b"/>
<rect x="713.96" y="288.71" width="18.35" height="8.68" fill="#3bbb75"/>
<rect x="713.96" y="296.69" width="18.35" height="8.68" fill="#287d8e"/>
<rect x="732.02" y="248.82" width="18.35" height="8.68" fill="#481d6f"/>
<rect x="732.02" y="256.8" width="18.35" height="8.68" fill="#3b528b"/>
<rect x="732.02" y="264.78" width="18.35" height="8.68" fill="#1e9c89"/>
<rect x="732.02" y="272.76" width="18.35" height="8.68" fill="#d2e21b"/>
<rect x="732.02" y="280.74" width="18.35" height="8.68" fill="#fde725"/>
<rect x="732.02" y="288.71" width="18.35" height="8.68" fill="#4ec36b"/>
<rect x="732.02" y="296.69" width="18.35" height="8.68" fill="#25848e"/>
<rect x="732.02" y="304.67" width="18.35" height="8.68" fill="#440154"/>
<rect x="732.02" y="312.65" width="18.35" height="8.68" fill="#440154"/>
<rect x="732.02" y="320.63" width="18.35" height="8.68" fill="#440154"/>
<rect x="750.07" y="240.84" width="18.35" height="8.68" fill="#440154"/>
<rect x="750.07" y="256.8" width="18.35" height="8.68" fill="#2f6c8e"/>
<rect x="750.07" y="264.78" width="18.35" height="8.68" fill="#22a884"/>
<rect x="750.07" y="272.76" width="18.35" height="8.68" fill="#e5e419"/>
<rect x="750.07" y="280.74" width="18.35" height="8.68" fill="#fde725"/>
<rect x="750.07" y="288.71" width="18.35" height="8.68" fill="#58c765"/>
<rect x="750.07" y="296.69" width="18.35" height="8.68" fill="#25848e"/>
<rect x="750.07" y="304.67" width="18.35" height="8.68" fill="#3e4989"/>
<rect x="768.12" y="240.84" width="18.35" height="8.68" fill="#440154"/>
<rect x="768.12" y="256.8" width="18.35" height="8.68" fill="#2f6c8e"/>
<rect x="768.12" y="264.78" width="18.35" height="8.68" fill="#22a884"/>
<rect x="768.12" y="272.76" width="18.35" height="8.68" fill="#dfe318"/>
<rect x="768.12" y="280.74" width="18.35" height="8.68" fill="#fde725"/>
<rect x="768.12" y="288.71" width="18.35" height="8.68" fill="#4ec36b"/>
<rect x="768.12" y="296.69" width="18.35" height="8.68" fill="#25848e"/>
<rect x="768.12" y="304.67" width="18.35" height="8.68" fill="#472a7a"/>
<rect x="768.12" y="312.65" width="18.35" height="8.68" fill="#440154"/>
<rect x="786.18" y="248.82" width="18.35" height="8.68" fill="#463480"/>
<rect x="786.18" y="256.8" width="18.35" height="8.68" fill="#31678e"/>
<rect x="786.18" y="264.78" width="18.35" height="8.68" fill="#1fa188"/>
<rect x="786.18" y="272.76" width="18.35" height="8.68" fill="#bddf26"/>
<rect x="786.18" y="280.74" width="18.35" height="8.68" fill="#ece51b"/>
<rect x="786.18" y="288.71" width="18.35" height="8.68" fill="#3bbb75"/>
<rect x="786.18" y="296.69" width="18.35" height="8.68" fill="#26828e"/>
<rect x="786.18" y="304.67" width="18.35" height="8.68" fill="#414487"/>
<rect x="804.23" y="248.82" width="18.35" height="8.68" fill="#482475"/>
<rect x="804.23" y="256.8" width="18.35" height="8.68" fill="#2f6c8e"/>
<rect x="804.23" y="264.78" width="18.35" height="8.68" fill="#1f978b"/>
<rect x="804.23" y="272.76" width="18.35" height="8.68" fill="#9bd93c"/>
<rect x="804.23" y="280.74" width="18.35" height="8.68" fill="#d2e21b"/>
<rect x="804.23" y="288.71" width="18.35" height="8.68" fill="#2cb17e"/>
<rect x="804.23" y="296.69" width="18.35" height="8.68" fill="#287d8e"/>
<rect x="804.23" y="304.67" width="18.35" height="8.68" fill="#440154"/>
<rect x="822.28" y="248.82" width="18.35" height="8.68" fill="#482475"/>
<rect x="822.28" y="256.8" width="18.35" height="8.68" fill="#2f6c8e"/>
<rect x="822.28" y="264.78" width="18.35" height="8.68" fill="#21918c"/>
<rect x="822.28" y="272.76" width="18.35" height="8.68" fill="#7ad151"/>
<rect x="822.28" y="280.74" width="18.35" height="8.68" fill="#bddf26"/>
<rect x="822.28" y="288.71" width="18.35" height="8.68" fill="#22a884"/>
<rect x="822.28" y="296.69" width="18.35" height="8.68" fill="#2a788e"/>
<rect x="822.28" y="304.67" width="18.35" height="8.68" fill="#481d6f"/>
<rect x="840.34" y="248.82" width="18.35" height="8.68" fill="#482475"/>
<rect x="840.34" y="256.8" width="18.35" height="8.68" fill="#31678e"/>
<rect x="840.34" y="264.78" width="18.35" height="8.68" fill="#23898e"/>
<rect x="840.34" y="272.76" width="18.35" height="8.68" fill="#63cb5f"/>
<rect x="840.34" y="280.74" width="18.35" height="8.68" fill="#a8db34"/>
<rect x="840.34" y="288.71" width="18.35" height="8.68" fill="#1fa188"/>
<rect x="840.34" y="296.69" width="18.35" height="8.68" fill="#2f6c8e"/>
<rect x="840.34" y="304.67" width="18.35" height="8.68" fill="#440154"/>
<rect x="858.39" y="256.8" width="18.35" height="8.68" fill="#355f8d"/>
<rect x="858.39" y="264.78" width="18.35" height="8.68" fill="#25848e"/>
<rect x="858.39" y="272.76" width="18.35" height="8.68" fill="#52c569"/>
<rect x="858.39" y="280.74" width="18.35" height="8.68" fill="#95d840"/>
<rect x="858.39" y="288.71" width="18.35" height="8.68" fill="#1f9a8a"/>
<rect x="858.39" y="296.69" width="18.35" height="8.68" fill="#355f8d"/>
<rect x="858.39" y="304.67" width="18.35" height="8.68" fill="#440154"/>
<rect x="876.44" y="248.82" width="18.35" height="8.68" fill="#440154"/>
<rect x="876.44" y="256.8" width="18.35" height="8.68" fill="#375a8c"/>
<rect x="876.44" y="264.78" width="18.35" height="8.68" fill="#27808e"/>
<rect x="876.44" y="272.76" width="18.35" height="8.68" fill="#44bf70"/>
<rect x="876.44" y="280.74" width="18.35" height="8.68" fill="#7ad151"/>
<rect x="876.44" y="288.71" width="18.35" height="8.68" fill="#21918c"/>
<rect x="876.44" y="296.69" width="18.35" height="8.68" fill="#463480"/>
<rect x="894.5" y="248.82" width="18.35" height="8.68" fill="#481d6f"/>
<rect x="894.5" y="256.8" width="18.35" height="8.68" fill="#375a8c"/>
<rect x="894.5" y="264.78" width="18.35" height="8.68" fill="#287d8e"/>
<rect x="894.5" y="272.76" width="18.35" height="8.68" fill="#3bbb75"/>
<rect x="894.5" y="280.74" width="18.35" height="8.68" fill="#6ece58"/>
<rect x="894.5" y="288.71" width="18.35" height="8.68" fill="#228b8d"/>
<rect x="894.5" y="296.69" width="18.35" height="8.68" fill="#3b528b"/>
<rect x="894.5" y="304.67" width="18.35" height="8.68" fill="#440154"/>
<path d="M641.75 284.73H912.55" stroke="#f00" stroke-width="1.8" fill="none"/>
<path d="M641.75 276.35H912.55" stroke="#f00" stroke-width="1.8" stroke-dasharray="5.4 2.35" fill="none"/>
<path d="M641.75 293.1H912.55" stroke="#f00" stroke-width="1.8" stroke-dasharray="5.4 2.35" fill="none"/>
<circle cx="651.42" cy="286.99" r="2.1" fill="#000"/>
<circle cx="670.76" cy="285.14" r="2.1" fill="#000"/>
<circle cx="690.11" cy="282.92" r="2.1" fill="#000"/>
<circle cx="709.45" cy="282.46" r="2.1" fill="#000"/>
<circle cx="728.79" cy="282" r="2.1" fill="#000"/>
<circle cx="748.14" cy="281.79" r="2.1" fill="#000"/>
<circle cx="767.48" cy="281.54" r="2.1" fill="#000"/>
<circle cx="786.82" cy="281.54" r="2.1" fill="#000"/>
<circle cx="806.16" cy="281.54" r="2.1" fill="#000"/>
<circle cx="825.51" cy="281.33" r="2.1" fill="#000"/>
<circle cx="844.85" cy="280.62" r="2.1" fill="#000"/>
<circle cx="864.19" cy="280.41" r="2.1" fill="#000"/>
<circle cx="883.54" cy="279.95" r="2.1" fill="#000"/>
<circle cx="902.88" cy="279.28" r="2.1" fill="#000"/>
<path d="M651.42 290.17V283.47M648.52 290.17h5.8M648.52 283.47h5.8M670.76 291.55V279.28M667.86 291.55h5.8M667.86 279.28h5.8M690.11 288.58V277.19M687.21 288.58h5.8M687.21 277.19h5.8M709.45 288.37V276.77M706.55 288.37h5.8M706.55 276.77h5.8M728.79 287.45V276.77M725.89 287.45h5.8M725.89 276.77h5.8M748.14 287.24V276.77M745.24 287.24h5.8M745.24 276.77h5.8M767.48 286.82V276.56M764.58 286.82h5.8M764.58 276.56h5.8M786.82 286.82V276.56M783.92 286.82h5.8M783.92 276.56h5.8M806.16 287.24V276.35M803.26 287.24h5.8M803.26 276.35h5.8M825.51 287.24V275.64M822.61 287.24h5.8M822.61 275.64h5.8M844.85 286.53V274.71M841.95 286.53h5.8M841.95 274.71h5.8M864.19 286.53V274.5M861.29 286.53h5.8M861.29 274.5h5.8M883.54 286.11V273.83M880.64 286.11h5.8M880.64 273.83h5.8M902.88 286.32V272.45M899.98 286.32h5.8M899.98 272.45h5.8" stroke="#000" stroke-width="1.45" fill="none"/>
<rect x="641.75" y="200.95" width="270.8" height="167.55" fill="none" stroke="#000" stroke-opacity="0.88" stroke-width="0.8"/>
<path d="M641.75 200.95h-3.4M641.75 242.84h-3.4M641.75 284.73h-3.4M641.75 326.61h-3.4M641.75 368.5h-3.4M719.12 368.5v3.4M815.84 368.5v3.4M912.55 368.5v3.4" stroke="#000" stroke-width="0.8" fill="none"/>
</g>
<g>
<rect x="934.3" y="272.76" width="34.15" height="8.68" fill="#2f6c8e"/>
<rect x="934.3" y="280.74" width="34.15" height="8.68" fill="#25848e"/>
<rect x="934.3" y="288.71" width="34.15" height="8.68" fill="#482475"/>
<rect x="968.15" y="256.8" width="34.15" height="8.68" fill="#440154"/>
<rect x="968.15" y="264.78" width="34.15" height="8.68" fill="#375a8c"/>
<rect x="968.15" y="272.76" width="34.15" height="8.68" fill="#28ae80"/>
<rect x="968.15" y="280.74" width="34.15" height="8.68" fill="#77d153"/>
<rect x="968.15" y="288.71" width="34.15" height="8.68" fill="#25848e"/>
<rect x="1002" y="232.86" width="34.15" height="8.68" fill="#481d6f"/>
<rect x="1002" y="240.84" width="34.15" height="8.68" fill="#440154"/>
<rect x="1002" y="248.82" width="34.15" height="8.68" fill="#472a7a"/>
<rect x="1002" y="256.8" width="34.15" height="8.68" fill="#355f8d"/>
<rect x="1002" y="264.78" width="34.15" height="8.68" fill="#21918c"/>
<rect x="1002" y="272.76" width="34.15" height="8.68" fill="#b5de2b"/>
<rect x="1002" y="280.74" width="34.15" height="8.68" fill="#f4e61e"/>
<rect x="1002" y="288.71" width="34.15" height="8.68" fill="#26ad81"/>
<rect x="1002" y="296.69" width="34.15" height="8.68" fill="#3b528b"/>
<rect x="1035.85" y="240.84" width="34.15" height="8.68" fill="#472a7a"/>
<rect x="1035.85" y="248.82" width="34.15" height="8.68" fill="#31678e"/>
<rect x="1035.85" y="256.8" width="34.15" height="8.68" fill="#21918c"/>
<rect x="1035.85" y="264.78" width="34.15" height="8.68" fill="#44bf70"/>
<rect x="1035.85" y="272.76" width="34.15" height="8.68" fill="#e7e419"/>
<rect x="1035.85" y="280.74" width="34.15" height="8.68" fill="#fde725"/>
<rect x="1035.85" y="288.71" width="34.15" height="8.68" fill="#5ec962"/>
<rect x="1035.85" y="296.69" width="34.15" height="8.68" fill="#25848e"/>
<rect x="1035.85" y="304.67" width="34.15" height="8.68" fill="#433e85"/>
<rect x="1035.85" y="312.65" width="34.15" height="8.68" fill="#440154"/>
<rect x="1035.85" y="320.63" width="34.15" height="8.68" fill="#440154"/>
<rect x="1069.7" y="240.84" width="34.15" height="8.68" fill="#481d6f"/>
<rect x="1069.7" y="248.82" width="34.15" height="8.68" fill="#32648e"/>
<rect x="1069.7" y="256.8" width="34.15" height="8.68" fill="#21918c"/>
<rect x="1069.7" y="264.78" width="34.15" height="8.68" fill="#4ec36b"/>
<rect x="1069.7" y="272.76" width="34.15" height="8.68" fill="#e2e418"/>
<rect x="1069.7" y="280.74" width="34.15" height="8.68" fill="#f4e61e"/>
<rect x="1069.7" y="288.71" width="34.15" height="8.68" fill="#5ec962"/>
<rect x="1069.7" y="296.69" width="34.15" height="8.68" fill="#1f958b"/>
<rect x="1069.7" y="304.67" width="34.15" height="8.68" fill="#355f8d"/>
<rect x="1069.7" y="320.63" width="34.15" height="8.68" fill="#440154"/>
<rect x="1103.55" y="248.82" width="34.15" height="8.68" fill="#31678e"/>
<rect x="1103.55" y="256.8" width="34.15" height="8.68" fill="#228b8d"/>
<rect x="1103.55" y="264.78" width="34.15" height="8.68" fill="#28ae80"/>
<rect x="1103.55" y="272.76" width="34.15" height="8.68" fill="#84d44b"/>
<rect x="1103.55" y="280.74" width="34.15" height="8.68" fill="#a2da37"/>
<rect x="1103.55" y="288.71" width="34.15" height="8.68" fill="#29af7f"/>
<rect x="1103.55" y="296.69" width="34.15" height="8.68" fill="#21918c"/>
<rect x="1103.55" y="304.67" width="34.15" height="8.68" fill="#375a8c"/>
<rect x="1103.55" y="312.65" width="34.15" height="8.68" fill="#481d6f"/>
<rect x="1137.4" y="240.84" width="34.15" height="8.68" fill="#440154"/>
<rect x="1137.4" y="248.82" width="34.15" height="8.68" fill="#440154"/>
<rect x="1137.4" y="256.8" width="34.15" height="8.68" fill="#2f6c8e"/>
<rect x="1137.4" y="264.78" width="34.15" height="8.68" fill="#228b8d"/>
<rect x="1137.4" y="272.76" width="34.15" height="8.68" fill="#28ae80"/>
<rect x="1137.4" y="280.74" width="34.15" height="8.68" fill="#32b67a"/>
<rect x="1137.4" y="288.71" width="34.15" height="8.68" fill="#21918c"/>
<rect x="1137.4" y="296.69" width="34.15" height="8.68" fill="#2a788e"/>
<rect x="1171.25" y="256.8" width="34.15" height="8.68" fill="#440154"/>
<rect x="1171.25" y="264.78" width="34.15" height="8.68" fill="#3b528b"/>
<rect x="1171.25" y="272.76" width="34.15" height="8.68" fill="#287d8e"/>
<rect x="1171.25" y="280.74" width="34.15" height="8.68" fill="#21918c"/>
<rect x="1171.25" y="288.71" width="34.15" height="8.68" fill="#2c738e"/>
<rect x="1171.25" y="296.69" width="34.15" height="8.68" fill="#440154"/>
<path d="M934.3 284.73H1205.1" stroke="#f00" stroke-width="1.8" fill="none"/>
<path d="M934.3 276.35H1205.1" stroke="#f00" stroke-width="1.8" stroke-dasharray="5.4 2.35" fill="none"/>
<path d="M934.3 293.1H1205.1" stroke="#f00" stroke-width="1.8" stroke-dasharray="5.4 2.35" fill="none"/>
<circle cx="953.64" cy="281.79" r="2.1" fill="#000"/>
<circle cx="992.33" cy="282.46" r="2.1" fill="#000"/>
<circle cx="1031.01" cy="281.54" r="2.1" fill="#000"/>
<circle cx="1069.7" cy="281.54" r="2.1" fill="#000"/>
<circle cx="1108.39" cy="281.08" r="2.1" fill="#000"/>
<circle cx="1147.07" cy="281.33" r="2.1" fill="#000"/>
<circle cx="1185.76" cy="281.08" r="2.1" fill="#000"/>
<path d="M953.64 284.52V278.86M950.74 284.52h5.8M950.74 278.86h5.8M992.33 286.53V278.36M989.43 286.53h5.8M989.43 278.36h5.8M1031.01 286.11V277.02M1028.11 286.11h5.8M1028.11 277.02h5.8M1069.7 287.24V276.1M1066.8 287.24h5.8M1066.8 276.1h5.8M1108.39 287.91V274.5M1105.49 287.91h5.8M1105.49 274.5h5.8M1147.07 289.04V273.83M1144.17 289.04h5.8M1144.17 273.83h5.8M1185.76 287.24V274.71M1182.86 287.24h5.8M1182.86 274.71h5.8" stroke="#000" stroke-width="1.45" fill="none"/>
<rect x="934.3" y="200.95" width="270.8" height="167.55" fill="none" stroke="#000" stroke-opacity="0.88" stroke-width="0.8"/>
<path d="M934.3 200.95h-3.4M934.3 242.84h-3.4M934.3 284.73h-3.4M934.3 326.61h-3.4M934.3 368.5h-3.4M972.99 368.5v3.4M1050.36 368.5v3.4M1127.73 368.5v3.4M1205.1 368.5v3.4" stroke="#000" stroke-width="0.8" fill="none"/>
</g>
<g>
<rect x="56.65" y="433.34" width="24.92" height="8.68" fill="#375a8c"/>
<rect x="56.65" y="441.32" width="24.92" height="8.68" fill="#3e4989"/>
<rect x="56.65" y="449.3" width="24.92" height="8.68" fill="#287d8e"/>
<rect x="56.65" y="457.28" width="24.92" height="8.68" fill="#28ae80"/>
<rect x="56.65" y="465.26" width="24.92" height="8.68" fill="#d0e11c"/>
<rect x="56.65" y="473.24" width="24.92" height="8.68" fill="#fde725"/>
<rect x="56.65" y="481.21" width="24.92" height="8.68" fill="#90d743"/>
<rect x="56.65" y="489.19" width="24.92" height="8.68" fill="#1e9d89"/>
<rect x="56.65" y="497.17" width="24.92" height="8.68" fill="#2c738e"/>
<rect x="56.65" y="513.13" width="24.92" height="8.68" fill="#472a7a"/>
<rect x="56.65" y="521.11" width="24.92" height="8.68" fill="#440154"/>
<rect x="81.27" y="417.39" width="24.92" height="8.68" fill="#440154"/>
<rect x="81.27" y="425.36" width="24.92" height="8.68" fill="#482475"/>
<rect x="81.27" y="433.34" width="24.92" height="8.68" fill="#355f8d"/>
<rect x="81.27" y="441.32" width="24.92" height="8.68" fill="#375a8c"/>
<rect x="81.27" y="449.3" width="24.92" height="8.68" fill="#21918c"/>
<rect x="81.27" y="457.28" width="24.92" height="8.68" fill="#54c568"/>
<rect x="81.27" y="465.26" width="24.92" height="8.68" fill="#e7e419"/>
<rect x="81.27" y="473.24" width="24.92" height="8.68" fill="#fde725"/>
<rect x="81.27" y="481.21" width="24.92" height="8.68" fill="#a2da37"/>
<rect x="81.27" y="489.19" width="24.92" height="8.68" fill="#23a983"/>
<rect x="81.27" y="497.17" width="24.92" height="8.68" fill="#287d8e"/>
<rect x="81.27" y="505.15" width="24.92" height="8.68" fill="#3e4989"/>
<rect x="81.27" y="513.13" width="24.92" height="8.68" fill="#440154"/>
<rect x="81.27" y="521.11" width="24.92" height="8.68" fill="#414487"/>
<rect x="81.27" y="529.09" width="24.92" height="8.68" fill="#440154"/>
<rect x="105.89" y="425.36" width="24.92" height="8.68" fill="#440154"/>
<rect x="105.89" y="433.34" width="24.92" height="8.68" fill="#463480"/>
<rect x="105.89" y="441.32" width="24.92" height="8.68" fill="#2c738e"/>
<rect x="105.89" y="449.3" width="24.92" height="8.68" fill="#228b8d"/>
<rect x="105.89" y="457.28" width="24.92" height="8.68" fill="#48c16e"/>
<rect x="105.89" y="465.26" width="24.92" height="8.68" fill="#d5e21a"/>
<rect x="105.89" y="473.24" width="24.92" height="8.68" fill="#fde725"/>
<rect x="105.89" y="481.21" width="24.92" height="8.68" fill="#a2da37"/>
<rect x="105.89" y="489.19" width="24.92" height="8.68" fill="#28ae80"/>
<rect x="105.89" y="497.17" width="24.92" height="8.68" fill="#31678e"/>
<rect x="105.89" y="505.15" width="24.92" height="8.68" fill="#3e4989"/>
<rect x="105.89" y="513.13" width="24.92" height="8.68" fill="#440154"/>
<rect x="130.5" y="425.36" width="24.92" height="8.68" fill="#482475"/>
<rect x="130.5" y="441.32" width="24.92" height="8.68" fill="#375a8c"/>
<rect x="130.5" y="449.3" width="24.92" height="8.68" fill="#228b8d"/>
<rect x="130.5" y="457.28" width="24.92" height="8.68" fill="#3fbc73"/>
<rect x="130.5" y="465.26" width="24.92" height="8.68" fill="#c2df23"/>
<rect x="130.5" y="473.24" width="24.92" height="8.68" fill="#f4e61e"/>
<rect x="130.5" y="481.21" width="24.92" height="8.68" fill="#90d743"/>
<rect x="130.5" y="489.19" width="24.92" height="8.68" fill="#28ae80"/>
<rect x="130.5" y="497.17" width="24.92" height="8.68" fill="#2a788e"/>
<rect x="130.5" y="505.15" width="24.92" height="8.68" fill="#3e4989"/>
<rect x="130.5" y="513.13" width="24.92" height="8.68" fill="#440154"/>
<rect x="155.12" y="433.34" width="24.92" height="8.68" fill="#440154"/>
<rect x="155.12" y="441.32" width="24.92" height="8.68" fill="#375a8c"/>
<rect x="155.12" y="449.3" width="24.92" height="8.68" fill="#2c738e"/>
<rect x="155.12" y="457.28" width="24.92" height="8.68" fill="#32b67a"/>
<rect x="155.12" y="465.26" width="24.92" height="8.68" fill="#b5de2b"/>
<rect x="155.12" y="473.24" width="24.92" height="8.68" fill="#e7e419"/>
<rect x="155.12" y="481.21" width="24.92" height="8.68" fill="#84d44b"/>
<rect x="155.12" y="489.19" width="24.92" height="8.68" fill="#32b67a"/>
<rect x="155.12" y="497.17" width="24.92" height="8.68" fill="#2f6c8e"/>
<rect x="155.12" y="505.15" width="24.92" height="8.68" fill="#433e85"/>
<rect x="179.74" y="433.34" width="24.92" height="8.68" fill="#472a7a"/>
<rect x="179.74" y="441.32" width="24.92" height="8.68" fill="#472a7a"/>
<rect x="179.74" y="449.3" width="24.92" height="8.68" fill="#2f6c8e"/>
<rect x="179.74" y="457.28" width="24.92" height="8.68" fill="#20a486"/>
<rect x="179.74" y="465.26" width="24.92" height="8.68" fill="#90d743"/>
<rect x="179.74" y="473.24" width="24.92" height="8.68" fill="#d0e11c"/>
<rect x="179.74" y="481.21" width="24.92" height="8.68" fill="#65cb5e"/>
<rect x="179.74" y="489.19" width="24.92" height="8.68" fill="#21918c"/>
<rect x="179.74" y="497.17" width="24.92" height="8.68" fill="#31678e"/>
<rect x="179.74" y="505.15" width="24.92" height="8.68" fill="#463480"/>
<rect x="179.74" y="513.13" width="24.92" height="8.68" fill="#440154"/>
<rect x="179.74" y="553.02" width="24.92" height="8.68" fill="#440154"/>
<rect x="204.36" y="441.32" width="24.92" height="8.68" fill="#440154"/>
<rect x="204.36" y="449.3" width="24.92" height="8.68" fill="#3b528b"/>
<rect x="204.36" y="457.28" width="24.92" height="8.68" fill="#21918c"/>
<rect x="204.36" y="465.26" width="24.92" height="8.68" fill="#65cb5e"/>
<rect x="204.36" y="473.24" width="24.92" height="8.68" fill="#b5de2b"/>
<rect x="204.36" y="481.21" width="24.92" height="8.68" fill="#48c16e"/>
<rect x="204.36" y="489.19" width="24.92" height="8.68" fill="#287d8e"/>
<rect x="204.36" y="497.17" width="24.92" height="8.68" fill="#375a8c"/>
<rect x="204.36" y="505.15" width="24.92" height="8.68" fill="#463480"/>
<rect x="228.98" y="441.32" width="24.92" height="8.68" fill="#440154"/>
<rect x="228.98" y="449.3" width="24.92" height="8.68" fill="#3e4989"/>
<rect x="228.98" y="457.28" width="24.92" height="8.68" fill="#25848e"/>
<rect x="228.98" y="465.26" width="24.92" height="8.68" fill="#48c16e"/>
<rect x="228.98" y="473.24" width="24.92" height="8.68" fill="#90d743"/>
<rect x="228.98" y="481.21" width="24.92" height="8.68" fill="#28ae80"/>
<rect x="228.98" y="489.19" width="24.92" height="8.68" fill="#287d8e"/>
<rect x="228.98" y="497.17" width="24.92" height="8.68" fill="#433e85"/>
<rect x="253.6" y="441.32" width="24.92" height="8.68" fill="#472a7a"/>
<rect x="253.6" y="449.3" width="24.92" height="8.68" fill="#414487"/>
<rect x="253.6" y="457.28" width="24.92" height="8.68" fill="#2c738e"/>
<rect x="253.6" y="465.26" width="24.92" height="8.68" fill="#28ae80"/>
<rect x="253.6" y="473.24" width="24.92" height="8.68" fill="#65cb5e"/>
<rect x="253.6" y="481.21" width="24.92" height="8.68" fill="#1e9d89"/>
<rect x="253.6" y="489.19" width="24.92" height="8.68" fill="#2f6c8e"/>
<rect x="253.6" y="497.17" width="24.92" height="8.68" fill="#440154"/>
<rect x="278.21" y="449.3" width="24.92" height="8.68" fill="#472a7a"/>
<rect x="278.21" y="457.28" width="24.92" height="8.68" fill="#2c738e"/>
<rect x="278.21" y="465.26" width="24.92" height="8.68" fill="#1f958b"/>
<rect x="278.21" y="473.24" width="24.92" height="8.68" fill="#32b67a"/>
<rect x="278.21" y="481.21" width="24.92" height="8.68" fill="#25848e"/>
<rect x="278.21" y="489.19" width="24.92" height="8.68" fill="#3b528b"/>
<rect x="278.21" y="497.17" width="24.92" height="8.68" fill="#440154"/>
<rect x="302.83" y="449.3" width="24.92" height="8.68" fill="#440154"/>
<rect x="302.83" y="457.28" width="24.92" height="8.68" fill="#482475"/>
<rect x="302.83" y="465.26" width="24.92" height="8.68" fill="#2c738e"/>
<rect x="302.83" y="473.24" width="24.92" height="8.68" fill="#21918c"/>
<rect x="302.83" y="481.21" width="24.92" height="8.68" fill="#2f6c8e"/>
<rect x="302.83" y="489.19" width="24.92" height="8.68" fill="#440154"/>
<path d="M56.65 477.23H327.45" stroke="#f00" stroke-width="1.8" fill="none"/>
<path d="M56.65 468.85H327.45" stroke="#f00" stroke-width="1.8" stroke-dasharray="5.4 2.35" fill="none"/>
<path d="M56.65 485.6H327.45" stroke="#f00" stroke-width="1.8" stroke-dasharray="5.4 2.35" fill="none"/>
<circle cx="70.19" cy="475.21" r="2.1" fill="#000"/>
<circle cx="97.27" cy="474.71" r="2.1" fill="#000"/>
<circle cx="124.35" cy="474.54" r="2.1" fill="#000"/>
<circle cx="151.43" cy="475.21" r="2.1" fill="#000"/>
<circle cx="178.51" cy="475.47" r="2.1" fill="#000"/>
<circle cx="205.59" cy="475.47" r="2.1" fill="#000"/>
<circle cx="232.67" cy="475.68" r="2.1" fill="#000"/>
<circle cx="259.75" cy="474.71" r="2.1" fill="#000"/>
<circle cx="286.83" cy="474.54" r="2.1" fill="#000"/>
<circle cx="313.91" cy="476.6" r="2.1" fill="#000"/>
<path d="M70.19 484.09V465.92M67.29 484.09h5.8M67.29 465.92h5.8M97.27 484.09V465.92M94.37 484.09h5.8M94.37 465.92h5.8M124.35 484.09V465.45M121.45 484.09h5.8M121.45 465.45h5.8M151.43 484.35V466.59M148.53 484.35h5.8M148.53 466.59h5.8M178.51 484.56V466.59M175.61 484.56h5.8M175.61 466.59h5.8M205.59 484.56V466.59M202.69 484.56h5.8M202.69 466.59h5.8M232.67 484.35V467.72M229.77 484.35h5.8M229.77 467.72h5.8M259.75 484.35V465.71M256.85 484.35h5.8M256.85 465.71h5.8M286.83 482.71V466.84M283.93 482.71h5.8M283.93 466.84h5.8M313.91 484.35V468.85M311.01 484.35h5.8M311.01 468.85h5.8" stroke="#000" stroke-width="1.45" fill="none"/>
<rect x="56.65" y="393.45" width="270.8" height="167.55" fill="none" stroke="#000" stroke-opacity="0.88" stroke-width="0.8"/>
<path d="M56.65 393.45h-3.4M56.65 435.34h-3.4M56.65 477.23h-3.4M56.65 519.11h-3.4M56.65 561h-3.4M56.65 561v3.4M110.81 561v3.4M164.97 561v3.4M219.13 561v3.4M273.29 561v3.4M327.45 561v3.4" stroke="#000" stroke-width="0.8" fill="none"/>
<text x="49.65" y="399.91" font-size="17.0" text-anchor="end">2</text>
<text x="49.65" y="441.8" font-size="17.0" text-anchor="end">1</text>
<text x="49.65" y="483.69" font-size="17.0" text-anchor="end">0</text>
<text x="49.65" y="525.57" font-size="17.0" text-anchor="end">−1</text>
<text x="49.65" y="567.46" font-size="17.0" text-anchor="end">−2</text>
</g>
<g>
<rect x="383.05" y="473.24" width="17.23" height="8.68" fill="#440154"/>
<rect x="399.98" y="473.24" width="17.23" height="8.68" fill="#440154"/>
<rect x="399.98" y="489.19" width="17.23" height="8.68" fill="#440154"/>
<rect x="399.98" y="497.17" width="17.23" height="8.68" fill="#440154"/>
<rect x="416.9" y="465.26" width="17.23" height="8.68" fill="#440154"/>
<rect x="416.9" y="473.24" width="17.23" height="8.68" fill="#481d6f"/>
<rect x="416.9" y="481.21" width="17.23" height="8.68" fill="#482475"/>
<rect x="416.9" y="489.19" width="17.23" height="8.68" fill="#440154"/>
<rect x="416.9" y="497.17" width="17.23" height="8.68" fill="#440154"/>
<rect x="433.82" y="433.34" width="17.23" height="8.68" fill="#440154"/>
<rect x="433.82" y="449.3" width="17.23" height="8.68" fill="#481d6f"/>
<rect x="433.82" y="457.28" width="17.23" height="8.68" fill="#481d6f"/>
<rect x="433.82" y="473.24" width="17.23" height="8.68" fill="#440154"/>
<rect x="433.82" y="481.21" width="17.23" height="8.68" fill="#3e4989"/>
<rect x="433.82" y="497.17" width="17.23" height="8.68" fill="#482475"/>
<rect x="433.82" y="505.15" width="17.23" height="8.68" fill="#440154"/>
<rect x="450.75" y="433.34" width="17.23" height="8.68" fill="#440154"/>
<rect x="450.75" y="441.32" width="17.23" height="8.68" fill="#440154"/>
<rect x="450.75" y="449.3" width="17.23" height="8.68" fill="#482475"/>
<rect x="450.75" y="457.28" width="17.23" height="8.68" fill="#3e4989"/>
<rect x="450.75" y="465.26" width="17.23" height="8.68" fill="#375a8c"/>
<rect x="450.75" y="473.24" width="17.23" height="8.68" fill="#355f8d"/>
<rect x="450.75" y="481.21" width="17.23" height="8.68" fill="#355f8d"/>
<rect x="450.75" y="489.19" width="17.23" height="8.68" fill="#375a8c"/>
<rect x="450.75" y="497.17" width="17.23" height="8.68" fill="#440154"/>
<rect x="467.68" y="433.34" width="17.23" height="8.68" fill="#481d6f"/>
<rect x="467.68" y="441.32" width="17.23" height="8.68" fill="#440154"/>
<rect x="467.68" y="449.3" width="17.23" height="8.68" fill="#414487"/>
<rect x="467.68" y="457.28" width="17.23" height="8.68" fill="#3b528b"/>
<rect x="467.68" y="465.26" width="17.23" height="8.68" fill="#31678e"/>
<rect x="467.68" y="473.24" width="17.23" height="8.68" fill="#2c738e"/>
<rect x="467.68" y="481.21" width="17.23" height="8.68" fill="#2f6c8e"/>
<rect x="467.68" y="489.19" width="17.23" height="8.68" fill="#355f8d"/>
<rect x="467.68" y="497.17" width="17.23" height="8.68" fill="#440154"/>
<rect x="484.6" y="441.32" width="17.23" height="8.68" fill="#433e85"/>
<rect x="484.6" y="449.3" width="17.23" height="8.68" fill="#375a8c"/>
<rect x="484.6" y="457.28" width="17.23" height="8.68" fill="#31678e"/>
<rect x="484.6" y="465.26" width="17.23" height="8.68" fill="#287d8e"/>
<rect x="484.6" y="473.24" width="17.23" height="8.68" fill="#228b8d"/>
<rect x="484.6" y="481.21" width="17.23" height="8.68" fill="#25848e"/>
<rect x="484.6" y="489.19" width="17.23" height="8.68" fill="#2f6c8e"/>
<rect x="484.6" y="497.17" width="17.23" height="8.68" fill="#440154"/>
<rect x="501.52" y="425.36" width="17.23" height="8.68" fill="#472a7a"/>
<rect x="501.52" y="433.34" width="17.23" height="8.68" fill="#472a7a"/>
<rect x="501.52" y="441.32" width="17.23" height="8.68" fill="#463480"/>
<rect x="501.52" y="449.3" width="17.23" height="8.68" fill="#25848e"/>
<rect x="501.52" y="457.28" width="17.23" height="8.68" fill="#1f958b"/>
<rect x="501.52" y="465.26" width="17.23" height="8.68" fill="#23a983"/>
<rect x="501.52" y="473.24" width="17.23" height="8.68" fill="#28ae80"/>
<rect x="501.52" y="481.21" width="17.23" height="8.68" fill="#20a486"/>
<rect x="501.52" y="489.19" width="17.23" height="8.68" fill="#21918c"/>
<rect x="501.52" y="497.17" width="17.23" height="8.68" fill="#3b528b"/>
<rect x="501.52" y="505.15" width="17.23" height="8.68" fill="#440154"/>
<rect x="501.52" y="529.09" width="17.23" height="8.68" fill="#440154"/>
<rect x="518.45" y="417.39" width="17.23" height="8.68" fill="#440154"/>
<rect x="518.45" y="425.36" width="17.23" height="8.68" fill="#481d6f"/>
<rect x="518.45" y="441.32" width="17.23" height="8.68" fill="#355f8d"/>
<rect x="518.45" y="449.3" width="17.23" height="8.68" fill="#25848e"/>
<rect x="518.45" y="457.28" width="17.23" height="8.68" fill="#20a486"/>
<rect x="518.45" y="465.26" width="17.23" height="8.68" fill="#54c568"/>
<rect x="518.45" y="473.24" width="17.23" height="8.68" fill="#77d153"/>
<rect x="518.45" y="481.21" width="17.23" height="8.68" fill="#54c568"/>
<rect x="518.45" y="489.19" width="17.23" height="8.68" fill="#28ae80"/>
<rect x="518.45" y="497.17" width="17.23" height="8.68" fill="#228b8d"/>
<rect x="518.45" y="505.15" width="17.23" height="8.68" fill="#3b528b"/>
<rect x="518.45" y="553.02" width="17.23" height="8.68" fill="#440154"/>
<rect x="535.38" y="433.34" width="17.23" height="8.68" fill="#375a8c"/>
<rect x="535.38" y="441.32" width="17.23" height="8.68" fill="#32648e"/>
<rect x="535.38" y="449.3" width="17.23" height="8.68" fill="#228b8d"/>
<rect x="535.38" y="457.28" width="17.23" height="8.68" fill="#28ae80"/>
<rect x="535.38" y="465.26" width="17.23" height="8.68" fill="#90d743"/>
<rect x="535.38" y="473.24" width="17.23" height="8.68" fill="#b5de2b"/>
<rect x="535.38" y="481.21" width="17.23" height="8.68" fill="#84d44b"/>
<rect x="535.38" y="489.19" width="17.23" height="8.68" fill="#3fbc73"/>
<rect x="535.38" y="497.17" width="17.23" height="8.68" fill="#228b8d"/>
<rect x="535.38" y="505.15" width="17.23" height="8.68" fill="#3e4989"/>
<rect x="535.38" y="513.13" width="17.23" height="8.68" fill="#472a7a"/>
<rect x="535.38" y="521.11" width="17.23" height="8.68" fill="#463480"/>
<rect x="552.3" y="433.34" width="17.23" height="8.68" fill="#482475"/>
<rect x="552.3" y="441.32" width="17.23" height="8.68" fill="#355f8d"/>
<rect x="552.3" y="449.3" width="17.23" height="8.68" fill="#25848e"/>
<rect x="552.3" y="457.28" width="17.23" height="8.68" fill="#54c568"/>
<rect x="552.3" y="465.26" width="17.23" height="8.68" fill="#d0e11c"/>
<rect x="552.3" y="473.24" width="17.23" height="8.68" fill="#e7e419"/>
<rect x="552.3" y="481.21" width="17.23" height="8.68" fill="#77d153"/>
<rect x="552.3" y="489.19" width="17.23" height="8.68" fill="#20a486"/>
<rect x="552.3" y="497.17" width="17.23" height="8.68" fill="#287d8e"/>
<rect x="552.3" y="505.15" width="17.23" height="8.68" fill="#433e85"/>
<rect x="552.3" y="513.13" width="17.23" height="8.68" fill="#481d6f"/>
<rect x="552.3" y="521.11" width="17.23" height="8.68" fill="#440154"/>
<rect x="569.23" y="441.32" width="17.23" height="8.68" fill="#440154"/>
<rect x="569.23" y="449.3" width="17.23" height="8.68" fill="#2f6c8e"/>
<rect x="569.23" y="457.28" width="17.23" height="8.68" fill="#32b67a"/>
<rect x="569.23" y="465.26" width="17.23" height="8.68" fill="#f4e61e"/>
<rect x="569.23" y="473.24" width="17.23" height="8.68" fill="#fde725"/>
<rect x="569.23" y="481.21" width="17.23" height="8.68" fill="#54c568"/>
<rect x="569.23" y="489.19" width="17.23" height="8.68" fill="#2a788e"/>
<rect x="569.23" y="497.17" width="17.23" height="8.68" fill="#3e4989"/>
<rect x="569.23" y="505.15" width="17.23" height="8.68" fill="#463480"/>
<rect x="569.23" y="513.13" width="17.23" height="8.68" fill="#440154"/>
<rect x="586.15" y="441.32" width="17.23" height="8.68" fill="#440154"/>
<rect x="586.15" y="449.3" width="17.23" height="8.68" fill="#482475"/>
<rect x="586.15" y="457.28" width="17.23" height="8.68" fill="#228b8d"/>
<rect x="586.15" y="465.26" width="17.23" height="8.68" fill="#84d44b"/>
<rect x="586.15" y="473.24" width="17.23" height="8.68" fill="#a2da37"/>
<rect x="586.15" y="481.21" width="17.23" height="8.68" fill="#21918c"/>
<rect x="586.15" y="489.19" width="17.23" height="8.68" fill="#463480"/>
<rect x="586.15" y="505.15" width="17.23" height="8.68" fill="#440154"/>
<rect x="603.08" y="449.3" width="17.23" height="8.68" fill="#440154"/>
<rect x="603.08" y="457.28" width="17.23" height="8.68" fill="#482475"/>
<rect x="603.08" y="465.26" width="17.23" height="8.68" fill="#482475"/>
<rect x="603.08" y="473.24" width="17.23" height="8.68" fill="#471365"/>
<path d="M349.2 477.23H620" stroke="#f00" stroke-width="1.8" fill="none"/>
<path d="M349.2 468.85H620" stroke="#f00" stroke-width="1.8" stroke-dasharray="5.4 2.35" fill="none"/>
<path d="M349.2 485.6H620" stroke="#f00" stroke-width="1.8" stroke-dasharray="5.4 2.35" fill="none"/>
<circle cx="394.33" cy="478.48" r="2.1" fill="#000"/>
<circle cx="412.39" cy="493.56" r="2.1" fill="#000"/>
<circle cx="430.44" cy="482.71" r="2.1" fill="#000"/>
<circle cx="448.49" cy="476.81" r="2.1" fill="#000"/>
<circle cx="466.55" cy="476.81" r="2.1" fill="#000"/>
<circle cx="484.6" cy="474.08" r="2.1" fill="#000"/>
<circle cx="502.65" cy="474.54" r="2.1" fill="#000"/>
<circle cx="520.71" cy="477.94" r="2.1" fill="#000"/>
<circle cx="538.76" cy="477.73" r="2.1" fill="#000"/>
<circle cx="556.81" cy="475.21" r="2.1" fill="#000"/>
<circle cx="574.87" cy="473.87" r="2.1" fill="#000"/>
<circle cx="592.92" cy="473.41" r="2.1" fill="#000"/>
<circle cx="610.97" cy="465.25" r="2.1" fill="#000"/>
<path d="M394.33 478.48V478.48M391.43 478.48h5.8M391.43 478.48h5.8M412.39 497.25V489.54M409.49 497.25h5.8M409.49 489.54h5.8M430.44 496.33V470.02M427.54 496.33h5.8M427.54 470.02h5.8M448.49 495.91V457.75M445.59 495.91h5.8M445.59 457.75h5.8M466.55 490.21V463.86M463.65 490.21h5.8M463.65 463.86h5.8M484.6 488.16V460.47M481.7 488.16h5.8M481.7 460.47h5.8M502.65 487.7V461.6M499.75 487.7h5.8M499.75 461.6h5.8M520.71 489.54V466.38M517.81 489.54h5.8M517.81 466.38h5.8M538.76 488.16V467.3M535.86 488.16h5.8M535.86 467.3h5.8M556.81 483.84V466.38M553.91 483.84h5.8M553.91 466.38h5.8M574.87 479.99V467.72M571.97 479.99h5.8M571.97 467.72h5.8M592.92 478.65V468.18M590.02 478.65h5.8M590.02 468.18h5.8M610.97 474.54V455.69M608.07 474.54h5.8M608.07 455.69h5.8" stroke="#000" stroke-width="1.45" fill="none"/>
<rect x="349.2" y="393.45" width="270.8" height="167.55" fill="none" stroke="#000" stroke-opacity="0.88" stroke-width="0.8"/>
<path d="M349.2 393.45h-3.4M349.2 435.34h-3.4M349.2 477.23h-3.4M349.2 519.11h-3.4M349.2 561h-3.4M349.2 561v3.4M416.9 561v3.4M484.6 561v3.4M552.3 561v3.4M620 561v3.4" stroke="#000" stroke-width="0.8" fill="none"/>
</g>
<g>
<rect x="641.75" y="457.28" width="18.35" height="8.68" fill="#472a7a"/>
<rect x="641.75" y="465.26" width="18.35" height="8.68" fill="#355f8d"/>
<rect x="641.75" y="473.24" width="18.35" height="8.68" fill="#2c738e"/>
<rect x="641.75" y="481.21" width="18.35" height="8.68" fill="#2f6c8e"/>
<rect x="641.75" y="489.19" width="18.35" height="8.68" fill="#3b528b"/>
<rect x="641.75" y="497.17" width="18.35" height="8.68" fill="#355f8d"/>
<rect x="641.75" y="505.15" width="18.35" height="8.68" fill="#440154"/>
<rect x="641.75" y="521.11" width="18.35" height="8.68" fill="#472a7a"/>
<rect x="641.75" y="529.09" width="18.35" height="8.68" fill="#440154"/>
<rect x="659.8" y="457.28" width="18.35" height="8.68" fill="#2f6c8e"/>
<rect x="659.8" y="465.26" width="18.35" height="8.68" fill="#1e9d89"/>
<rect x="659.8" y="473.24" width="18.35" height="8.68" fill="#32b67a"/>
<rect x="659.8" y="481.21" width="18.35" height="8.68" fill="#1e9d89"/>
<rect x="659.8" y="489.19" width="18.35" height="8.68" fill="#2c738e"/>
<rect x="659.8" y="497.17" width="18.35" height="8.68" fill="#3b528b"/>
<rect x="659.8" y="505.15" width="18.35" height="8.68" fill="#472a7a"/>
<rect x="659.8" y="521.11" width="18.35" height="8.68" fill="#440154"/>
<rect x="677.86" y="449.3" width="18.35" height="8.68" fill="#3e4989"/>
<rect x="677.86" y="457.28" width="18.35" height="8.68" fill="#20928c"/>
<rect x="677.86" y="465.26" width="18.35" height="8.68" fill="#54c568"/>
<rect x="677.86" y="473.24" width="18.35" height="8.68" fill="#a2da37"/>
<rect x="677.86" y="481.21" width="18.35" height="8.68" fill="#3fbc73"/>
<rect x="677.86" y="489.19" width="18.35" height="8.68" fill="#228b8d"/>
<rect x="677.86" y="497.17" width="18.35" height="8.68" fill="#32648e"/>
<rect x="677.86" y="505.15" width="18.35" height="8.68" fill="#414487"/>
<rect x="677.86" y="513.13" width="18.35" height="8.68" fill="#482475"/>
<rect x="695.91" y="449.3" width="18.35" height="8.68" fill="#472a7a"/>
<rect x="695.91" y="457.28" width="18.35" height="8.68" fill="#1f9f88"/>
<rect x="695.91" y="465.26" width="18.35" height="8.68" fill="#a2da37"/>
<rect x="695.91" y="473.24" width="18.35" height="8.68" fill="#e7e419"/>
<rect x="695.91" y="481.21" width="18.35" height="8.68" fill="#65cb5e"/>
<rect x="695.91" y="489.19" width="18.35" height="8.68" fill="#1f958b"/>
<rect x="695.91" y="497.17" width="18.35" height="8.68" fill="#2f6c8e"/>
<rect x="695.91" y="505.15" width="18.35" height="8.68" fill="#472a7a"/>
<rect x="695.91" y="513.13" width="18.35" height="8.68" fill="#440154"/>
<rect x="713.96" y="441.32" width="18.35" height="8.68" fill="#355f8d"/>
<rect x="713.96" y="449.3" width="18.35" height="8.68" fill="#2c738e"/>
<rect x="713.96" y="457.28" width="18.35" height="8.68" fill="#2db27d"/>
<rect x="713.96" y="465.26" width="18.35" height="8.68" fill="#d0e11c"/>
<rect x="713.96" y="473.24" width="18.35" height="8.68" fill="#fde725"/>
<rect x="713.96" y="481.21" width="18.35" height="8.68" fill="#77d153"/>
<rect x="713.96" y="489.19" width="18.35" height="8.68" fill="#1e9d89"/>
<rect x="713.96" y="497.17" width="18.35" height="8.68" fill="#2c738e"/>
<rect x="713.96" y="505.15" width="18.35" height="8.68" fill="#3e4989"/>
<rect x="713.96" y="513.13" width="18.35" height="8.68" fill="#440154"/>
<rect x="732.02" y="433.34" width="18.35" height="8.68" fill="#482475"/>
<rect x="732.02" y="449.3" width="18.35" height="8.68" fill="#2f6c8e"/>
<rect x="732.02" y="457.28" width="18.35" height="8.68" fill="#35b779"/>
<rect x="732.02" y="465.26" width="18.35" height="8.68" fill="#d0e11c"/>
<rect x="732.02" y="473.24" width="18.35" height="8.68" fill="#fde725"/>
<rect x="732.02" y="481.21" width="18.35" height="8.68" fill="#84d44b"/>
<rect x="732.02" y="489.19" width="18.35" height="8.68" fill="#23a983"/>
<rect x="732.02" y="497.17" width="18.35" height="8.68" fill="#287d8e"/>
<rect x="732.02" y="505.15" width="18.35" height="8.68" fill="#472a7a"/>
<rect x="732.02" y="513.13" width="18.35" height="8.68" fill="#440154"/>
<rect x="732.02" y="521.11" width="18.35" height="8.68" fill="#440154"/>
<rect x="750.07" y="433.34" width="18.35" height="8.68" fill="#440154"/>
<rect x="750.07" y="441.32" width="18.35" height="8.68" fill="#414487"/>
<rect x="750.07" y="449.3" width="18.35" height="8.68" fill="#2c738e"/>
<rect x="750.07" y="457.28" width="18.35" height="8.68" fill="#35b779"/>
<rect x="750.07" y="465.26" width="18.35" height="8.68" fill="#c2df23"/>
<rect x="750.07" y="473.24" width="18.35" height="8.68" fill="#f4e61e"/>
<rect x="750.07" y="481.21" width="18.35" height="8.68" fill="#84d44b"/>
<rect x="750.07" y="489.19" width="18.35" height="8.68" fill="#32b67a"/>
<rect x="750.07" y="497.17" width="18.35" height="8.68" fill="#287d8e"/>
<rect x="750.07" y="505.15" width="18.35" height="8.68" fill="#3e4989"/>
<rect x="750.07" y="513.13" width="18.35" height="8.68" fill="#440154"/>
<rect x="750.07" y="553.02" width="18.35" height="8.68" fill="#440154"/>
<rect x="768.12" y="449.3" width="18.35" height="8.68" fill="#355f8d"/>
<rect x="768.12" y="457.28" width="18.35" height="8.68" fill="#25ab82"/>
<rect x="768.12" y="465.26" width="18.35" height="8.68" fill="#90d743"/>
<rect x="768.12" y="473.24" width="18.35" height="8.68" fill="#d0e11c"/>
<rect x="768.12" y="481.21" width="18.35" height="8.68" fill="#54c568"/>
<rect x="768.12" y="489.19" width="18.35" height="8.68" fill="#21918c"/>
<rect x="768.12" y="497.17" width="18.35" height="8.68" fill="#2f6c8e"/>
<rect x="786.18" y="433.34" width="18.35" height="8.68" fill="#440154"/>
<rect x="786.18" y="441.32" width="18.35" height="8.68" fill="#463480"/>
<rect x="786.18" y="449.3" width="18.35" height="8.68" fill="#355f8d"/>
<rect x="786.18" y="457.28" width="18.35" height="8.68" fill="#1f9f88"/>
<rect x="786.18" y="465.26" width="18.35" height="8.68" fill="#65cb5e"/>
<rect x="786.18" y="473.24" width="18.35" height="8.68" fill="#a2da37"/>
<rect x="786.18" y="481.21" width="18.35" height="8.68" fill="#32b67a"/>
<rect x="786.18" y="489.19" width="18.35" height="8.68" fill="#228b8d"/>
<rect x="786.18" y="497.17" width="18.35" height="8.68" fill="#472a7a"/>
<rect x="786.18" y="505.15" width="18.35" height="8.68" fill="#440154"/>
<rect x="804.23" y="433.34" width="18.35" height="8.68" fill="#440154"/>
<rect x="804.23" y="449.3" width="18.35" height="8.68" fill="#463480"/>
<rect x="804.23" y="457.28" width="18.35" height="8.68" fill="#228b8d"/>
<rect x="804.23" y="465.26" width="18.35" height="8.68" fill="#3fbc73"/>
<rect x="804.23" y="473.24" width="18.35" height="8.68" fill="#84d44b"/>
<rect x="804.23" y="481.21" width="18.35" height="8.68" fill="#28ae80"/>
<rect x="804.23" y="489.19" width="18.35" height="8.68" fill="#25848e"/>
<rect x="804.23" y="497.17" width="18.35" height="8.68" fill="#414487"/>
<rect x="804.23" y="505.15" width="18.35" height="8.68" fill="#440154"/>
<rect x="822.28" y="441.32" width="18.35" height="8.68" fill="#3b528b"/>
<rect x="822.28" y="449.3" width="18.35" height="8.68" fill="#375a8c"/>
<rect x="822.28" y="457.28" width="18.35" height="8.68" fill="#25848e"/>
<rect x="822.28" y="465.26" width="18.35" height="8.68" fill="#28ae80"/>
<rect x="822.28" y="473.24" width="18.35" height="8.68" fill="#65cb5e"/>
<rect x="822.28" y="481.21" width="18.35" height="8.68" fill="#20a486"/>
<rect x="822.28" y="489.19" width="18.35" height="8.68" fill="#2a788e"/>
<rect x="840.34" y="441.32" width="18.35" height="8.68" fill="#482475"/>
<rect x="840.34" y="449.3" width="18.35" height="8.68" fill="#2f6c8e"/>
<rect x="840.34" y="457.28" width="18.35" height="8.68" fill="#287d8e"/>
<rect x="840.34" y="465.26" width="18.35" height="8.68" fill="#20a486"/>
<rect x="840.34" y="473.24" width="18.35" height="8.68" fill="#48c16e"/>
<rect x="840.34" y="481.21" width="18.35" height="8.68" fill="#1f958b"/>
<rect x="840.34" y="489.19" width="18.35" height="8.68" fill="#472a7a"/>
<rect x="840.34" y="497.17" width="18.35" height="8.68" fill="#482475"/>
<rect x="858.39" y="449.3" width="18.35" height="8.68" fill="#414487"/>
<rect x="858.39" y="457.28" width="18.35" height="8.68" fill="#287d8e"/>
<rect x="858.39" y="465.26" width="18.35" height="8.68" fill="#1e9d89"/>
<rect x="858.39" y="473.24" width="18.35" height="8.68" fill="#32b67a"/>
<rect x="858.39" y="481.21" width="18.35" height="8.68" fill="#228b8d"/>
<rect x="858.39" y="489.19" width="18.35" height="8.68" fill="#3e4989"/>
<rect x="858.39" y="497.17" width="18.35" height="8.68" fill="#482475"/>
<rect x="876.44" y="425.36" width="18.35" height="8.68" fill="#482475"/>
<rect x="876.44" y="441.32" width="18.35" height="8.68" fill="#482475"/>
<rect x="876.44" y="449.3" width="18.35" height="8.68" fill="#433e85"/>
<rect x="876.44" y="457.28" width="18.35" height="8.68" fill="#2a788e"/>
<rect x="876.44" y="465.26" width="18.35" height="8.68" fill="#1f958b"/>
<rect x="876.44" y="473.24" width="18.35" height="8.68" fill="#28ae80"/>
<rect x="876.44" y="481.21" width="18.35" height="8.68" fill="#25848e"/>
<rect x="876.44" y="489.19" width="18.35" height="8.68" fill="#463480"/>
<rect x="894.5" y="433.34" width="18.35" height="8.68" fill="#440154"/>
<rect x="894.5" y="441.32" width="18.35" height="8.68" fill="#463480"/>
<rect x="894.5" y="449.3" width="18.35" height="8.68" fill="#472a7a"/>
<rect x="894.5" y="457.28" width="18.35" height="8.68" fill="#2c738e"/>
<rect x="894.5" y="465.26" width="18.35" height="8.68" fill="#21918c"/>
<rect x="894.5" y="473.24" width="18.35" height="8.68" fill="#20a486"/>
<rect x="894.5" y="481.21" width="18.35" height="8.68" fill="#287d8e"/>
<rect x="894.5" y="489.19" width="18.35" height="8.68" fill="#463480"/>
<rect x="894.5" y="497.17" width="18.35" height="8.68" fill="#440154"/>
<path d="M641.75 477.23H912.55" stroke="#f00" stroke-width="1.8" fill="none"/>
<path d="M641.75 468.85H912.55" stroke="#f00" stroke-width="1.8" stroke-dasharray="5.4 2.35" fill="none"/>
<path d="M641.75 485.6H912.55" stroke="#f00" stroke-width="1.8" stroke-dasharray="5.4 2.35" fill="none"/>
<circle cx="651.42" cy="488.16" r="2.1" fill="#000"/>
<circle cx="670.76" cy="478.65" r="2.1" fill="#000"/>
<circle cx="690.11" cy="477.23" r="2.1" fill="#000"/>
<circle cx="709.45" cy="475.93" r="2.1" fill="#000"/>
<circle cx="728.79" cy="475.47" r="2.1" fill="#000"/>
<circle cx="748.14" cy="475.21" r="2.1" fill="#000"/>
<circle cx="767.48" cy="475.21" r="2.1" fill="#000"/>
<circle cx="786.82" cy="475.21" r="2.1" fill="#000"/>
<circle cx="806.16" cy="474.54" r="2.1" fill="#000"/>
<circle cx="825.51" cy="473.41" r="2.1" fill="#000"/>
<circle cx="844.85" cy="472.95" r="2.1" fill="#000"/>
<circle cx="864.19" cy="472.95" r="2.1" fill="#000"/>
<circle cx="883.54" cy="470.9" r="2.1" fill="#000"/>
<circle cx="902.88" cy="470.44" r="2.1" fill="#000"/>
<path d="M651.42 503.2V472.74M648.52 503.2h5.8M648.52 472.74h5.8M670.76 487.7V469.56M667.86 487.7h5.8M667.86 469.56h5.8M690.11 486.36V468.85M687.21 486.36h5.8M687.21 468.85h5.8M709.45 483.17V468.85M706.55 483.17h5.8M706.55 468.85h5.8M728.79 483.42V467.72M725.89 483.42h5.8M725.89 467.72h5.8M748.14 483.42V467.05M745.24 483.42h5.8M745.24 467.05h5.8M767.48 483.63V466.84M764.58 483.63h5.8M764.58 466.84h5.8M786.82 483.17V467.3M783.92 483.17h5.8M783.92 467.3h5.8M806.16 484.56V464.78M803.26 484.56h5.8M803.26 464.78h5.8M825.51 483.17V463.86M822.61 483.17h5.8M822.61 463.86h5.8M844.85 483.17V462.73M841.95 483.17h5.8M841.95 462.73h5.8M864.19 482.71V463.19M861.29 482.71h5.8M861.29 463.19h5.8M883.54 482.71V459.34M880.64 482.71h5.8M880.64 459.34h5.8M902.88 482.25V458.67M899.98 482.25h5.8M899.98 458.67h5.8" stroke="#000" stroke-width="1.45" fill="none"/>
<rect x="641.75" y="393.45" width="270.8" height="167.55" fill="none" stroke="#000" stroke-opacity="0.88" stroke-width="0.8"/>
<path d="M641.75 393.45h-3.4M641.75 435.34h-3.4M641.75 477.23h-3.4M641.75 519.11h-3.4M641.75 561h-3.4M719.12 561v3.4M815.84 561v3.4M912.55 561v3.4" stroke="#000" stroke-width="0.8" fill="none"/>
</g>
<g>
<rect x="934.3" y="449.3" width="34.15" height="8.68" fill="#440154"/>
<rect x="934.3" y="465.26" width="34.15" height="8.68" fill="#3b528b"/>
<rect x="934.3" y="473.24" width="34.15" height="8.68" fill="#2f6c8e"/>
<rect x="934.3" y="481.21" width="34.15" height="8.68" fill="#463480"/>
<rect x="968.15" y="449.3" width="34.15" height="8.68" fill="#440154"/>
<rect x="968.15" y="457.28" width="34.15" height="8.68" fill="#2c738e"/>
<rect x="968.15" y="465.26" width="34.15" height="8.68" fill="#3fbc73"/>
<rect x="968.15" y="473.24" width="34.15" height="8.68" fill="#90d743"/>
<rect x="968.15" y="481.21" width="34.15" height="8.68" fill="#1e9d89"/>
<rect x="968.15" y="489.19" width="34.15" height="8.68" fill="#433e85"/>
<rect x="968.15" y="497.17" width="34.15" height="8.68" fill="#440154"/>
<rect x="1002" y="433.34" width="34.15" height="8.68" fill="#463480"/>
<rect x="1002" y="441.32" width="34.15" height="8.68" fill="#481d6f"/>
<rect x="1002" y="449.3" width="34.15" height="8.68" fill="#375a8c"/>
<rect x="1002" y="457.28" width="34.15" height="8.68" fill="#20a486"/>
<rect x="1002" y="465.26" width="34.15" height="8.68" fill="#c2df23"/>
<rect x="1002" y="473.24" width="34.15" height="8.68" fill="#f4e61e"/>
<rect x="1002" y="481.21" width="34.15" height="8.68" fill="#48c16e"/>
<rect x="1002" y="489.19" width="34.15" height="8.68" fill="#228b8d"/>
<rect x="1002" y="497.17" width="34.15" height="8.68" fill="#355f8d"/>
<rect x="1002" y="505.15" width="34.15" height="8.68" fill="#481d6f"/>
<rect x="1035.85" y="433.34" width="34.15" height="8.68" fill="#440154"/>
<rect x="1035.85" y="441.32" width="34.15" height="8.68" fill="#355f8d"/>
<rect x="1035.85" y="449.3" width="34.15" height="8.68" fill="#1f958b"/>
<rect x="1035.85" y="457.28" width="34.15" height="8.68" fill="#65cb5e"/>
<rect x="1035.85" y="465.26" width="34.15" height="8.68" fill="#f4e61e"/>
<rect x="1035.85" y="473.24" width="34.15" height="8.68" fill="#fde725"/>
<rect x="1035.85" y="481.21" width="34.15" height="8.68" fill="#90d743"/>
<rect x="1035.85" y="489.19" width="34.15" height="8.68" fill="#28ae80"/>
<rect x="1035.85" y="497.17" width="34.15" height="8.68" fill="#25848e"/>
<rect x="1035.85" y="505.15" width="34.15" height="8.68" fill="#355f8d"/>
<rect x="1035.85" y="513.13" width="34.15" height="8.68" fill="#463480"/>
<rect x="1035.85" y="521.11" width="34.15" height="8.68" fill="#481d6f"/>
<rect x="1035.85" y="529.09" width="34.15" height="8.68" fill="#440154"/>
<rect x="1069.7" y="417.39" width="34.15" height="8.68" fill="#440154"/>
<rect x="1069.7" y="425.36" width="34.15" height="8.68" fill="#440154"/>
<rect x="1069.7" y="433.34" width="34.15" height="8.68" fill="#3e4989"/>
<rect x="1069.7" y="441.32" width="34.15" height="8.68" fill="#2f6c8e"/>
<rect x="1069.7" y="449.3" width="34.15" height="8.68" fill="#1f958b"/>
<rect x="1069.7" y="457.28" width="34.15" height="8.68" fill="#48c16e"/>
<rect x="1069.7" y="465.26" width="34.15" height="8.68" fill="#b5de2b"/>
<rect x="1069.7" y="473.24" width="34.15" height="8.68" fill="#d0e11c"/>
<rect x="1069.7" y="481.21" width="34.15" height="8.68" fill="#84d44b"/>
<rect x="1069.7" y="489.19" width="34.15" height="8.68" fill="#48c16e"/>
<rect x="1069.7" y="497.17" width="34.15" height="8.68" fill="#228b8d"/>
<rect x="1069.7" y="505.15" width="34.15" height="8.68" fill="#3e4989"/>
<rect x="1069.7" y="513.13" width="34.15" height="8.68" fill="#463480"/>
<rect x="1069.7" y="521.11" width="34.15" height="8.68" fill="#482475"/>
<rect x="1103.55" y="425.36" width="34.15" height="8.68" fill="#463480"/>
<rect x="1103.55" y="433.34" width="34.15" height="8.68" fill="#433e85"/>
<rect x="1103.55" y="441.32" width="34.15" height="8.68" fill="#3b528b"/>
<rect x="1103.55" y="449.3" width="34.15" height="8.68" fill="#287d8e"/>
<rect x="1103.55" y="457.28" width="34.15" height="8.68" fill="#1e9d89"/>
<rect x="1103.55" y="465.26" width="34.15" height="8.68" fill="#32b67a"/>
<rect x="1103.55" y="473.24" width="34.15" height="8.68" fill="#48c16e"/>
<rect x="1103.55" y="481.21" width="34.15" height="8.68" fill="#23a983"/>
<rect x="1103.55" y="489.19" width="34.15" height="8.68" fill="#1e9d89"/>
<rect x="1103.55" y="497.17" width="34.15" height="8.68" fill="#2c738e"/>
<rect x="1103.55" y="505.15" width="34.15" height="8.68" fill="#463480"/>
<rect x="1137.4" y="425.36" width="34.15" height="8.68" fill="#440154"/>
<rect x="1137.4" y="433.34" width="34.15" height="8.68" fill="#440154"/>
<rect x="1137.4" y="441.32" width="34.15" height="8.68" fill="#3b528b"/>
<rect x="1137.4" y="449.3" width="34.15" height="8.68" fill="#3b528b"/>
<rect x="1137.4" y="457.28" width="34.15" height="8.68" fill="#31678e"/>
<rect x="1137.4" y="465.26" width="34.15" height="8.68" fill="#2c738e"/>
<rect x="1137.4" y="473.24" width="34.15" height="8.68" fill="#287d8e"/>
<rect x="1137.4" y="481.21" width="34.15" height="8.68" fill="#2a788e"/>
<rect x="1137.4" y="489.19" width="34.15" height="8.68" fill="#2c738e"/>
<rect x="1137.4" y="497.17" width="34.15" height="8.68" fill="#3b528b"/>
<rect x="1137.4" y="553.02" width="34.15" height="8.68" fill="#440154"/>
<rect x="1171.25" y="433.34" width="34.15" height="8.68" fill="#463480"/>
<rect x="1171.25" y="441.32" width="34.15" height="8.68" fill="#440154"/>
<rect x="1171.25" y="465.26" width="34.15" height="8.68" fill="#463480"/>
<rect x="1171.25" y="473.24" width="34.15" height="8.68" fill="#472a7a"/>
<rect x="1171.25" y="489.19" width="34.15" height="8.68" fill="#433e85"/>
<rect x="1171.25" y="497.17" width="34.15" height="8.68" fill="#440154"/>
<rect x="1171.25" y="505.15" width="34.15" height="8.68" fill="#440154"/>
<path d="M934.3 477.23H1205.1" stroke="#f00" stroke-width="1.8" fill="none"/>
<path d="M934.3 468.85H1205.1" stroke="#f00" stroke-width="1.8" stroke-dasharray="5.4 2.35" fill="none"/>
<path d="M934.3 485.6H1205.1" stroke="#f00" stroke-width="1.8" stroke-dasharray="5.4 2.35" fill="none"/>
<circle cx="953.64" cy="474.75" r="2.1" fill="#000"/>
<circle cx="992.33" cy="475.47" r="2.1" fill="#000"/>
<circle cx="1031.01" cy="474.33" r="2.1" fill="#000"/>
<circle cx="1069.7" cy="475.21" r="2.1" fill="#000"/>
<circle cx="1108.39" cy="476.6" r="2.1" fill="#000"/>
<circle cx="1147.07" cy="476.6" r="2.1" fill="#000"/>
<circle cx="1185.76" cy="475.68" r="2.1" fill="#000"/>
<path d="M953.64 479.99V470.02M950.74 479.99h5.8M950.74 470.02h5.8M992.33 481.83V469.56M989.43 481.83h5.8M989.43 469.56h5.8M1031.01 481.41V467.51M1028.11 481.41h5.8M1028.11 467.51h5.8M1069.7 484.35V465.92M1066.8 484.35h5.8M1066.8 465.92h5.8M1108.39 487.28V465.45M1105.49 487.28h5.8M1105.49 465.45h5.8M1147.07 490.88V462.27M1144.17 490.88h5.8M1144.17 462.27h5.8M1185.76 495.91V455.23M1182.86 495.91h5.8M1182.86 455.23h5.8" stroke="#000" stroke-width="1.45" fill="none"/>
<rect x="934.3" y="393.45" width="270.8" height="167.55" fill="none" stroke="#000" stroke-opacity="0.88" stroke-width="0.8"/>
<path d="M934.3 393.45h-3.4M934.3 435.34h-3.4M934.3 477.23h-3.4M934.3 519.11h-3.4M934.3 561h-3.4M972.99 561v3.4M1050.36 561v3.4M1127.73 561v3.4M1205.1 561v3.4" stroke="#000" stroke-width="0.8" fill="none"/>
</g>
<g>
<rect x="56.65" y="585.95" width="24.92" height="8.68" fill="#440154"/>
<rect x="56.65" y="601.91" width="24.92" height="8.68" fill="#440154"/>
<rect x="56.65" y="617.86" width="24.92" height="8.68" fill="#404688"/>
<rect x="56.65" y="625.84" width="24.92" height="8.68" fill="#2f6c8e"/>
<rect x="56.65" y="633.82" width="24.92" height="8.68" fill="#23888e"/>
<rect x="56.65" y="641.8" width="24.92" height="8.68" fill="#20a486"/>
<rect x="56.65" y="649.78" width="24.92" height="8.68" fill="#44bf70"/>
<rect x="56.65" y="657.76" width="24.92" height="8.68" fill="#7ad151"/>
<rect x="56.65" y="665.74" width="24.92" height="8.68" fill="#b0dd2f"/>
<rect x="56.65" y="673.71" width="24.92" height="8.68" fill="#7ad151"/>
<rect x="56.65" y="681.69" width="24.92" height="8.68" fill="#44bf70"/>
<rect x="56.65" y="689.67" width="24.92" height="8.68" fill="#24aa83"/>
<rect x="56.65" y="697.65" width="24.92" height="8.68" fill="#21918c"/>
<rect x="56.65" y="705.63" width="24.92" height="8.68" fill="#2b748e"/>
<rect x="56.65" y="713.61" width="24.92" height="8.68" fill="#3d4d8a"/>
<rect x="56.65" y="721.59" width="24.92" height="8.68" fill="#46085c"/>
<rect x="56.65" y="745.52" width="24.92" height="8.68" fill="#46085c"/>
<rect x="81.27" y="601.91" width="24.92" height="8.68" fill="#440154"/>
<rect x="81.27" y="609.89" width="24.92" height="8.68" fill="#3d4d8a"/>
<rect x="81.27" y="617.86" width="24.92" height="8.68" fill="#2b748e"/>
<rect x="81.27" y="625.84" width="24.92" height="8.68" fill="#1f998a"/>
<rect x="81.27" y="633.82" width="24.92" height="8.68" fill="#3aba76"/>
<rect x="81.27" y="641.8" width="24.92" height="8.68" fill="#7fd34e"/>
<rect x="81.27" y="649.78" width="24.92" height="8.68" fill="#9bd93c"/>
<rect x="81.27" y="657.76" width="24.92" height="8.68" fill="#d2e21b"/>
<rect x="81.27" y="665.74" width="24.92" height="8.68" fill="#ece51b"/>
<rect x="81.27" y="673.71" width="24.92" height="8.68" fill="#cae11f"/>
<rect x="81.27" y="681.69" width="24.92" height="8.68" fill="#95d840"/>
<rect x="81.27" y="689.67" width="24.92" height="8.68" fill="#50c46a"/>
<rect x="81.27" y="697.65" width="24.92" height="8.68" fill="#20a486"/>
<rect x="81.27" y="705.63" width="24.92" height="8.68" fill="#218e8d"/>
<rect x="81.27" y="713.61" width="24.92" height="8.68" fill="#26828e"/>
<rect x="81.27" y="721.59" width="24.92" height="8.68" fill="#3a538b"/>
<rect x="81.27" y="729.56" width="24.92" height="8.68" fill="#46085c"/>
<rect x="81.27" y="745.52" width="24.92" height="8.68" fill="#482173"/>
<rect x="105.89" y="601.91" width="24.92" height="8.68" fill="#440154"/>
<rect x="105.89" y="609.89" width="24.92" height="8.68" fill="#3a538b"/>
<rect x="105.89" y="617.86" width="24.92" height="8.68" fill="#297a8e"/>
<rect x="105.89" y="625.84" width="24.92" height="8.68" fill="#1fa187"/>
<rect x="105.89" y="633.82" width="24.92" height="8.68" fill="#4ac16d"/>
<rect x="105.89" y="641.8" width="24.92" height="8.68" fill="#95d840"/>
<rect x="105.89" y="649.78" width="24.92" height="8.68" fill="#b5de2b"/>
<rect x="105.89" y="657.76" width="24.92" height="8.68" fill="#ece51b"/>
<rect x="105.89" y="665.74" width="24.92" height="8.68" fill="#fde725"/>
<rect x="105.89" y="673.71" width="24.92" height="8.68" fill="#e5e419"/>
<rect x="105.89" y="681.69" width="24.92" height="8.68" fill="#b0dd2f"/>
<rect x="105.89" y="689.67" width="24.92" height="8.68" fill="#63cb5f"/>
<rect x="105.89" y="697.65" width="24.92" height="8.68" fill="#24aa83"/>
<rect x="105.89" y="705.63" width="24.92" height="8.68" fill="#21918c"/>
<rect x="105.89" y="713.61" width="24.92" height="8.68" fill="#287d8e"/>
<rect x="105.89" y="721.59" width="24.92" height="8.68" fill="#2f6c8e"/>
<rect x="105.89" y="729.56" width="24.92" height="8.68" fill="#443b84"/>
<rect x="105.89" y="737.54" width="24.92" height="8.68" fill="#440154"/>
<rect x="105.89" y="745.52" width="24.92" height="8.68" fill="#440154"/>
<rect x="130.5" y="593.93" width="24.92" height="8.68" fill="#440154"/>
<rect x="130.5" y="601.91" width="24.92" height="8.68" fill="#440154"/>
<rect x="130.5" y="609.89" width="24.92" height="8.68" fill="#3a538b"/>
<rect x="130.5" y="617.86" width="24.92" height="8.68" fill="#27808e"/>
<rect x="130.5" y="625.84" width="24.92" height="8.68" fill="#20a486"/>
<rect x="130.5" y="633.82" width="24.92" height="8.68" fill="#50c46a"/>
<rect x="130.5" y="641.8" width="24.92" height="8.68" fill="#9dd93b"/>
<rect x="130.5" y="649.78" width="24.92" height="8.68" fill="#bddf26"/>
<rect x="130.5" y="657.76" width="24.92" height="8.68" fill="#f1e51d"/>
<rect x="130.5" y="665.74" width="24.92" height="8.68" fill="#fde725"/>
<rect x="130.5" y="673.71" width="24.92" height="8.68" fill="#e5e419"/>
<rect x="130.5" y="681.69" width="24.92" height="8.68" fill="#b0dd2f"/>
<rect x="130.5" y="689.67" width="24.92" height="8.68" fill="#69cd5b"/>
<rect x="130.5" y="697.65" width="24.92" height="8.68" fill="#24aa83"/>
<rect x="130.5" y="705.63" width="24.92" height="8.68" fill="#218e8d"/>
<rect x="130.5" y="713.61" width="24.92" height="8.68" fill="#23888e"/>
<rect x="130.5" y="721.59" width="24.92" height="8.68" fill="#31668e"/>
<rect x="130.5" y="729.56" width="24.92" height="8.68" fill="#443b84"/>
<rect x="130.5" y="737.54" width="24.92" height="8.68" fill="#3d4d8a"/>
<rect x="130.5" y="745.52" width="24.92" height="8.68" fill="#3d4d8a"/>
<rect x="155.12" y="609.89" width="24.92" height="8.68" fill="#34608d"/>
<rect x="155.12" y="617.86" width="24.92" height="8.68" fill="#287d8e"/>
<rect x="155.12" y="625.84" width="24.92" height="8.68" fill="#20a486"/>
<rect x="155.12" y="633.82" width="24.92" height="8.68" fill="#50c46a"/>
<rect x="155.12" y="641.8" width="24.92" height="8.68" fill="#9dd93b"/>
<rect x="155.12" y="649.78" width="24.92" height="8.68" fill="#b5de2b"/>
<rect x="155.12" y="657.76" width="24.92" height="8.68" fill="#ece51b"/>
<rect x="155.12" y="665.74" width="24.92" height="8.68" fill="#fde725"/>
<rect x="155.12" y="673.71" width="24.92" height="8.68" fill="#e5e419"/>
<rect x="155.12" y="681.69" width="24.92" height="8.68" fill="#b0dd2f"/>
<rect x="155.12" y="689.67" width="24.92" height="8.68" fill="#69cd5b"/>
<rect x="155.12" y="697.65" width="24.92" height="8.68" fill="#26ad81"/>
<rect x="155.12" y="705.63" width="24.92" height="8.68" fill="#1f968b"/>
<rect x="155.12" y="713.61" width="24.92" height="8.68" fill="#2c718e"/>
<rect x="155.12" y="721.59" width="24.92" height="8.68" fill="#2c718e"/>
<rect x="155.12" y="729.56" width="24.92" height="8.68" fill="#414287"/>
<rect x="155.12" y="737.54" width="24.92" height="8.68" fill="#3d4d8a"/>
<rect x="155.12" y="745.52" width="24.92" height="8.68" fill="#463480"/>
<rect x="179.74" y="601.91" width="24.92" height="8.68" fill="#440154"/>
<rect x="179.74" y="609.89" width="24.92" height="8.68" fill="#3c508b"/>
<rect x="179.74" y="617.86" width="24.92" height="8.68" fill="#2b748e"/>
<rect x="179.74" y="625.84" width="24.92" height="8.68" fill="#1f9f88"/>
<rect x="179.74" y="633.82" width="24.92" height="8.68" fill="#44bf70"/>
<rect x="179.74" y="641.8" width="24.92" height="8.68" fill="#95d840"/>
<rect x="179.74" y="649.78" width="24.92" height="8.68" fill="#a8db34"/>
<rect x="179.74" y="657.76" width="24.92" height="8.68" fill="#e5e419"/>
<rect x="179.74" y="665.74" width="24.92" height="8.68" fill="#fde725"/>
<rect x="179.74" y="673.71" width="24.92" height="8.68" fill="#dfe318"/>
<rect x="179.74" y="681.69" width="24.92" height="8.68" fill="#a8db34"/>
<rect x="179.74" y="689.67" width="24.92" height="8.68" fill="#69cd5b"/>
<rect x="179.74" y="697.65" width="24.92" height="8.68" fill="#24aa83"/>
<rect x="179.74" y="705.63" width="24.92" height="8.68" fill="#21918c"/>
<rect x="179.74" y="713.61" width="24.92" height="8.68" fill="#2c718e"/>
<rect x="179.74" y="721.59" width="24.92" height="8.68" fill="#31668e"/>
<rect x="179.74" y="729.56" width="24.92" height="8.68" fill="#365d8d"/>
<rect x="179.74" y="737.54" width="24.92" height="8.68" fill="#414287"/>
<rect x="179.74" y="745.52" width="24.92" height="8.68" fill="#482979"/>
<rect x="204.36" y="601.91" width="24.92" height="8.68" fill="#482173"/>
<rect x="204.36" y="609.89" width="24.92" height="8.68" fill="#3c508b"/>
<rect x="204.36" y="617.86" width="24.92" height="8.68" fill="#2b748e"/>
<rect x="204.36" y="625.84" width="24.92" height="8.68" fill="#1e9c89"/>
<rect x="204.36" y="633.82" width="24.92" height="8.68" fill="#3fbc73"/>
<rect x="204.36" y="641.8" width="24.92" height="8.68" fill="#86d549"/>
<rect x="204.36" y="649.78" width="24.92" height="8.68" fill="#9bd93c"/>
<rect x="204.36" y="657.76" width="24.92" height="8.68" fill="#dfe318"/>
<rect x="204.36" y="665.74" width="24.92" height="8.68" fill="#f8e621"/>
<rect x="204.36" y="673.71" width="24.92" height="8.68" fill="#d8e219"/>
<rect x="204.36" y="681.69" width="24.92" height="8.68" fill="#9bd93c"/>
<rect x="204.36" y="689.67" width="24.92" height="8.68" fill="#5cc863"/>
<rect x="204.36" y="697.65" width="24.92" height="8.68" fill="#22a785"/>
<rect x="204.36" y="705.63" width="24.92" height="8.68" fill="#218e8d"/>
<rect x="204.36" y="713.61" width="24.92" height="8.68" fill="#2b748e"/>
<rect x="204.36" y="721.59" width="24.92" height="8.68" fill="#31668e"/>
<rect x="204.36" y="729.56" width="24.92" height="8.68" fill="#3a538b"/>
<rect x="204.36" y="737.54" width="24.92" height="8.68" fill="#482173"/>
<rect x="204.36" y="745.52" width="24.92" height="8.68" fill="#440154"/>
<rect x="228.98" y="609.89" width="24.92" height="8.68" fill="#3d4d8a"/>
<rect x="228.98" y="617.86" width="24.92" height="8.68" fill="#31668e"/>
<rect x="228.98" y="625.84" width="24.92" height="8.68" fill="#20938c"/>
<rect x="228.98" y="633.82" width="24.92" height="8.68" fill="#31b57b"/>
<rect x="228.98" y="641.8" width="24.92" height="8.68" fill="#75d054"/>
<rect x="228.98" y="649.78" width="24.92" height="8.68" fill="#9bd93c"/>
<rect x="228.98" y="657.76" width="24.92" height="8.68" fill="#cae11f"/>
<rect x="228.98" y="665.74" width="24.92" height="8.68" fill="#e5e419"/>
<rect x="228.98" y="673.71" width="24.92" height="8.68" fill="#bddf26"/>
<rect x="228.98" y="681.69" width="24.92" height="8.68" fill="#7ad151"/>
<rect x="228.98" y="689.67" width="24.92" height="8.68" fill="#4ac16d"/>
<rect x="228.98" y="697.65" width="24.92" height="8.68" fill="#1f9f88"/>
<rect x="228.98" y="705.63" width="24.92" height="8.68" fill="#23888e"/>
<rect x="228.98" y="713.61" width="24.92" height="8.68" fill="#2e6f8e"/>
<rect x="228.98" y="721.59" width="24.92" height="8.68" fill="#365d8d"/>
<rect x="228.98" y="729.56" width="24.92" height="8.68" fill="#414287"/>
<rect x="228.98" y="737.54" width="24.92" height="8.68" fill="#404688"/>
<rect x="253.6" y="609.89" width="24.92" height="8.68" fill="#440154"/>
<rect x="253.6" y="617.86" width="24.92" height="8.68" fill="#3d4d8a"/>
<rect x="253.6" y="625.84" width="24.92" height="8.68" fill="#26828e"/>
<rect x="253.6" y="633.82" width="24.92" height="8.68" fill="#1f9f88"/>
<rect x="253.6" y="641.8" width="24.92" height="8.68" fill="#44bf70"/>
<rect x="253.6" y="649.78" width="24.92" height="8.68" fill="#6ece58"/>
<rect x="253.6" y="657.76" width="24.92" height="8.68" fill="#b0dd2f"/>
<rect x="253.6" y="665.74" width="24.92" height="8.68" fill="#d2e21b"/>
<rect x="253.6" y="673.71" width="24.92" height="8.68" fill="#9bd93c"/>
<rect x="253.6" y="681.69" width="24.92" height="8.68" fill="#52c569"/>
<rect x="253.6" y="689.67" width="24.92" height="8.68" fill="#2db27d"/>
<rect x="253.6" y="697.65" width="24.92" height="8.68" fill="#1f968b"/>
<rect x="253.6" y="705.63" width="24.92" height="8.68" fill="#26828e"/>
<rect x="253.6" y="713.61" width="24.92" height="8.68" fill="#3a538b"/>
<rect x="253.6" y="721.59" width="24.92" height="8.68" fill="#26828e"/>
<rect x="253.6" y="729.56" width="24.92" height="8.68" fill="#34608d"/>
<rect x="253.6" y="737.54" width="24.92" height="8.68" fill="#482979"/>
<rect x="278.21" y="609.89" width="24.92" height="8.68" fill="#482979"/>
<rect x="278.21" y="617.86" width="24.92" height="8.68" fill="#482979"/>
<rect x="278.21" y="625.84" width="24.92" height="8.68" fill="#2f6c8e"/>
<rect x="278.21" y="633.82" width="24.92" height="8.68" fill="#21918c"/>
<rect x="278.21" y="641.8" width="24.92" height="8.68" fill="#2db27d"/>
<rect x="278.21" y="649.78" width="24.92" height="8.68" fill="#52c569"/>
<rect x="278.21" y="657.76" width="24.92" height="8.68" fill="#95d840"/>
<rect x="278.21" y="665.74" width="24.92" height="8.68" fill="#bddf26"/>
<rect x="278.21" y="673.71" width="24.92" height="8.68" fill="#86d549"/>
<rect x="278.21" y="681.69" width="24.92" height="8.68" fill="#3bbb75"/>
<rect x="278.21" y="689.67" width="24.92" height="8.68" fill="#22a884"/>
<rect x="278.21" y="697.65" width="24.92" height="8.68" fill="#21918c"/>
<rect x="278.21" y="705.63" width="24.92" height="8.68" fill="#297a8e"/>
<rect x="278.21" y="713.61" width="24.92" height="8.68" fill="#31668e"/>
<rect x="278.21" y="721.59" width="24.92" height="8.68" fill="#46307e"/>
<rect x="278.21" y="729.56" width="24.92" height="8.68" fill="#443b84"/>
<rect x="278.21" y="737.54" width="24.92" height="8.68" fill="#482979"/>
<rect x="278.21" y="745.52" width="24.92" height="8.68" fill="#404688"/>
<rect x="302.83" y="625.84" width="24.92" height="8.68" fill="#3a538b"/>
<rect x="302.83" y="633.82" width="24.92" height="8.68" fill="#26828e"/>
<rect x="302.83" y="641.8" width="24.92" height="8.68" fill="#1f9f88"/>
<rect x="302.83" y="649.78" width="24.92" height="8.68" fill="#2fb47c"/>
<rect x="302.83" y="657.76" width="24.92" height="8.68" fill="#63cb5f"/>
<rect x="302.83" y="665.74" width="24.92" height="8.68" fill="#95d840"/>
<rect x="302.83" y="673.71" width="24.92" height="8.68" fill="#58c765"/>
<rect x="302.83" y="681.69" width="24.92" height="8.68" fill="#26ad81"/>
<rect x="302.83" y="689.67" width="24.92" height="8.68" fill="#1f9a8a"/>
<rect x="302.83" y="697.65" width="24.92" height="8.68" fill="#23888e"/>
<rect x="302.83" y="705.63" width="24.92" height="8.68" fill="#2f6c8e"/>
<rect x="302.83" y="713.61" width="24.92" height="8.68" fill="#3d4d8a"/>
<rect x="302.83" y="721.59" width="24.92" height="8.68" fill="#443b84"/>
<rect x="302.83" y="729.56" width="24.92" height="8.68" fill="#482173"/>
<rect x="302.83" y="737.54" width="24.92" height="8.68" fill="#443b84"/>
<path d="M56.65 669.73H327.45" stroke="#f00" stroke-width="1.8" fill="none"/>
<path d="M56.65 661.35H327.45" stroke="#f00" stroke-width="1.8" stroke-dasharray="5.4 2.35" fill="none"/>
<path d="M56.65 678.1H327.45" stroke="#f00" stroke-width="1.8" stroke-dasharray="5.4 2.35" fill="none"/>
<circle cx="70.19" cy="668.13" r="2.1" fill="#000"/>
<circle cx="97.27" cy="667.67" r="2.1" fill="#000"/>
<circle cx="124.35" cy="666.79" r="2.1" fill="#000"/>
<circle cx="151.43" cy="667" r="2.1" fill="#000"/>
<circle cx="178.51" cy="667.21" r="2.1" fill="#000"/>
<circle cx="205.59" cy="667.46" r="2.1" fill="#000"/>
<circle cx="232.67" cy="667.92" r="2.1" fill="#000"/>
<circle cx="259.75" cy="669.73" r="2.1" fill="#000"/>
<circle cx="286.83" cy="670.65" r="2.1" fill="#000"/>
<circle cx="313.91" cy="672.24" r="2.1" fill="#000"/>
<path d="M70.19 685.39V651.29M67.29 685.39h5.8M67.29 651.29h5.8M97.27 684.72V650.62M94.37 684.72h5.8M94.37 650.62h5.8M124.35 684.05V649.74M121.45 684.05h5.8M121.45 649.74h5.8M151.43 683.59V650.41M148.53 683.59h5.8M148.53 650.41h5.8M178.51 683.59V651.09M175.61 683.59h5.8M175.61 651.09h5.8M205.59 682.92V652.47M202.69 682.92h5.8M202.69 652.47h5.8M232.67 682.92V652.97M229.77 682.92h5.8M229.77 652.97h5.8M259.75 684.72V654.73M256.85 684.72h5.8M256.85 654.73h5.8M286.83 686.06V655.4M283.93 686.06h5.8M283.93 655.4h5.8M313.91 688.16V656.78M311.01 688.16h5.8M311.01 656.78h5.8" stroke="#000" stroke-width="1.45" fill="none"/>
<rect x="56.65" y="585.95" width="270.8" height="167.55" fill="none" stroke="#000" stroke-opacity="0.88" stroke-width="0.8"/>
<path d="M56.65 585.95h-3.4M56.65 627.84h-3.4M56.65 669.73h-3.4M56.65 711.61h-3.4M56.65 753.5h-3.4M56.65 753.5v3.4M110.81 753.5v3.4M164.97 753.5v3.4M219.13 753.5v3.4M273.29 753.5v3.4M327.45 753.5v3.4" stroke="#000" stroke-width="0.8" fill="none"/>
<text x="49.65" y="592.41" font-size="17.0" text-anchor="end">2</text>
<text x="49.65" y="634.3" font-size="17.0" text-anchor="end">1</text>
<text x="49.65" y="676.19" font-size="17.0" text-anchor="end">0</text>
<text x="49.65" y="718.07" font-size="17.0" text-anchor="end">−1</text>
<text x="49.65" y="759.96" font-size="17.0" text-anchor="end">−2</text>
<text x="56.65" y="773.72" font-size="17.0" text-anchor="middle">0.0</text>
<text x="110.81" y="773.72" font-size="17.0" text-anchor="middle">0.2</text>
<text x="164.97" y="773.72" font-size="17.0" text-anchor="middle">0.4</text>
<text x="219.13" y="773.72" font-size="17.0" text-anchor="middle">0.6</text>
<text x="273.29" y="773.72" font-size="17.0" text-anchor="middle">0.8</text>
<text x="327.45" y="773.72" font-size="17.0" text-anchor="middle">1.0</text>
</g>
<g>
<rect x="349.2" y="649.78" width="17.23" height="8.68" fill="#440154"/>
<rect x="349.2" y="657.76" width="17.23" height="8.68" fill="#3b528b"/>
<rect x="349.2" y="665.74" width="17.23" height="8.68" fill="#26828e"/>
<rect x="349.2" y="673.71" width="17.23" height="8.68" fill="#2a788e"/>
<rect x="349.2" y="681.69" width="17.23" height="8.68" fill="#2e6f8e"/>
<rect x="349.2" y="689.67" width="17.23" height="8.68" fill="#2e6f8e"/>
<rect x="349.2" y="697.65" width="17.23" height="8.68" fill="#31678e"/>
<rect x="349.2" y="705.63" width="17.23" height="8.68" fill="#375a8c"/>
<rect x="349.2" y="713.61" width="17.23" height="8.68" fill="#440154"/>
<rect x="349.2" y="721.59" width="17.23" height="8.68" fill="#481d6f"/>
<rect x="349.2" y="729.56" width="17.23" height="8.68" fill="#440154"/>
<rect x="349.2" y="737.54" width="17.23" height="8.68" fill="#440154"/>
<rect x="366.12" y="633.82" width="17.23" height="8.68" fill="#481d6f"/>
<rect x="366.12" y="641.8" width="17.23" height="8.68" fill="#481d6f"/>
<rect x="366.12" y="649.78" width="17.23" height="8.68" fill="#3b528b"/>
<rect x="366.12" y="657.76" width="17.23" height="8.68" fill="#287c8e"/>
<rect x="366.12" y="665.74" width="17.23" height="8.68" fill="#20928c"/>
<rect x="366.12" y="673.71" width="17.23" height="8.68" fill="#23898e"/>
<rect x="366.12" y="681.69" width="17.23" height="8.68" fill="#25848e"/>
<rect x="366.12" y="689.67" width="17.23" height="8.68" fill="#287d8e"/>
<rect x="366.12" y="697.65" width="17.23" height="8.68" fill="#2c738e"/>
<rect x="366.12" y="705.63" width="17.23" height="8.68" fill="#2f6c8e"/>
<rect x="366.12" y="713.61" width="17.23" height="8.68" fill="#3e4989"/>
<rect x="366.12" y="721.59" width="17.23" height="8.68" fill="#440154"/>
<rect x="366.12" y="729.56" width="17.23" height="8.68" fill="#440154"/>
<rect x="366.12" y="737.54" width="17.23" height="8.68" fill="#440154"/>
<rect x="383.05" y="625.84" width="17.23" height="8.68" fill="#440154"/>
<rect x="383.05" y="633.82" width="17.23" height="8.68" fill="#433e85"/>
<rect x="383.05" y="641.8" width="17.23" height="8.68" fill="#33638d"/>
<rect x="383.05" y="649.78" width="17.23" height="8.68" fill="#26828e"/>
<rect x="383.05" y="657.76" width="17.23" height="8.68" fill="#1e9c89"/>
<rect x="383.05" y="665.74" width="17.23" height="8.68" fill="#23a983"/>
<rect x="383.05" y="673.71" width="17.23" height="8.68" fill="#1f9a8a"/>
<rect x="383.05" y="681.69" width="17.23" height="8.68" fill="#1f958b"/>
<rect x="383.05" y="689.67" width="17.23" height="8.68" fill="#228b8d"/>
<rect x="383.05" y="697.65" width="17.23" height="8.68" fill="#26828e"/>
<rect x="383.05" y="705.63" width="17.23" height="8.68" fill="#2c738e"/>
<rect x="383.05" y="713.61" width="17.23" height="8.68" fill="#3b528b"/>
<rect x="383.05" y="721.59" width="17.23" height="8.68" fill="#482475"/>
<rect x="399.98" y="617.86" width="17.23" height="8.68" fill="#440154"/>
<rect x="399.98" y="625.84" width="17.23" height="8.68" fill="#481d6f"/>
<rect x="399.98" y="633.82" width="17.23" height="8.68" fill="#30698e"/>
<rect x="399.98" y="641.8" width="17.23" height="8.68" fill="#24878e"/>
<rect x="399.98" y="649.78" width="17.23" height="8.68" fill="#1fa187"/>
<rect x="399.98" y="657.76" width="17.23" height="8.68" fill="#32b67a"/>
<rect x="399.98" y="665.74" width="17.23" height="8.68" fill="#40bd72"/>
<rect x="399.98" y="673.71" width="17.23" height="8.68" fill="#26ad81"/>
<rect x="399.98" y="681.69" width="17.23" height="8.68" fill="#20a386"/>
<rect x="399.98" y="689.67" width="17.23" height="8.68" fill="#1f978b"/>
<rect x="399.98" y="697.65" width="17.23" height="8.68" fill="#24868e"/>
<rect x="399.98" y="705.63" width="17.23" height="8.68" fill="#3a548c"/>
<rect x="399.98" y="713.61" width="17.23" height="8.68" fill="#3c4f8a"/>
<rect x="399.98" y="721.59" width="17.23" height="8.68" fill="#46307e"/>
<rect x="399.98" y="729.56" width="17.23" height="8.68" fill="#440154"/>
<rect x="399.98" y="737.54" width="17.23" height="8.68" fill="#440154"/>
<rect x="416.9" y="609.89" width="17.23" height="8.68" fill="#414487"/>
<rect x="416.9" y="617.86" width="17.23" height="8.68" fill="#3c4f8a"/>
<rect x="416.9" y="625.84" width="17.23" height="8.68" fill="#26828e"/>
<rect x="416.9" y="633.82" width="17.23" height="8.68" fill="#1e9c89"/>
<rect x="416.9" y="641.8" width="17.23" height="8.68" fill="#2cb17e"/>
<rect x="416.9" y="649.78" width="17.23" height="8.68" fill="#50c46a"/>
<rect x="416.9" y="657.76" width="17.23" height="8.68" fill="#73d056"/>
<rect x="416.9" y="665.74" width="17.23" height="8.68" fill="#7fd34e"/>
<rect x="416.9" y="673.71" width="17.23" height="8.68" fill="#4ec36b"/>
<rect x="416.9" y="681.69" width="17.23" height="8.68" fill="#32b67a"/>
<rect x="416.9" y="689.67" width="17.23" height="8.68" fill="#1f9f88"/>
<rect x="416.9" y="697.65" width="17.23" height="8.68" fill="#24868e"/>
<rect x="416.9" y="705.63" width="17.23" height="8.68" fill="#2f6c8e"/>
<rect x="416.9" y="713.61" width="17.23" height="8.68" fill="#482475"/>
<rect x="416.9" y="729.56" width="17.23" height="8.68" fill="#440154"/>
<rect x="416.9" y="737.54" width="17.23" height="8.68" fill="#440154"/>
<rect x="433.82" y="601.91" width="17.23" height="8.68" fill="#440154"/>
<rect x="433.82" y="609.89" width="17.23" height="8.68" fill="#433e85"/>
<rect x="433.82" y="617.86" width="17.23" height="8.68" fill="#33638d"/>
<rect x="433.82" y="625.84" width="17.23" height="8.68" fill="#24878e"/>
<rect x="433.82" y="633.82" width="17.23" height="8.68" fill="#1fa187"/>
<rect x="433.82" y="641.8" width="17.23" height="8.68" fill="#3bbb75"/>
<rect x="433.82" y="649.78" width="17.23" height="8.68" fill="#65cb5e"/>
<rect x="433.82" y="657.76" width="17.23" height="8.68" fill="#93d741"/>
<rect x="433.82" y="665.74" width="17.23" height="8.68" fill="#a8db34"/>
<rect x="433.82" y="673.71" width="17.23" height="8.68" fill="#69cd5b"/>
<rect x="433.82" y="681.69" width="17.23" height="8.68" fill="#44bf70"/>
<rect x="433.82" y="689.67" width="17.23" height="8.68" fill="#20a386"/>
<rect x="433.82" y="697.65" width="17.23" height="8.68" fill="#24868e"/>
<rect x="433.82" y="705.63" width="17.23" height="8.68" fill="#31678e"/>
<rect x="433.82" y="713.61" width="17.23" height="8.68" fill="#433e85"/>
<rect x="433.82" y="721.59" width="17.23" height="8.68" fill="#440154"/>
<rect x="433.82" y="737.54" width="17.23" height="8.68" fill="#440154"/>
<rect x="450.75" y="609.89" width="17.23" height="8.68" fill="#3c4f8a"/>
<rect x="450.75" y="617.86" width="17.23" height="8.68" fill="#2b758e"/>
<rect x="450.75" y="625.84" width="17.23" height="8.68" fill="#1f978b"/>
<rect x="450.75" y="633.82" width="17.23" height="8.68" fill="#2cb17e"/>
<rect x="450.75" y="641.8" width="17.23" height="8.68" fill="#50c46a"/>
<rect x="450.75" y="649.78" width="17.23" height="8.68" fill="#7fd34e"/>
<rect x="450.75" y="657.76" width="17.23" height="8.68" fill="#a8db34"/>
<rect x="450.75" y="665.74" width="17.23" height="8.68" fill="#b5de2b"/>
<rect x="450.75" y="673.71" width="17.23" height="8.68" fill="#7ad151"/>
<rect x="450.75" y="681.69" width="17.23" height="8.68" fill="#52c569"/>
<rect x="450.75" y="689.67" width="17.23" height="8.68" fill="#26ad81"/>
<rect x="450.75" y="697.65" width="17.23" height="8.68" fill="#21918c"/>
<rect x="450.75" y="705.63" width="17.23" height="8.68" fill="#2c738e"/>
<rect x="450.75" y="713.61" width="17.23" height="8.68" fill="#414487"/>
<rect x="450.75" y="721.59" width="17.23" height="8.68" fill="#46307e"/>
<rect x="450.75" y="729.56" width="17.23" height="8.68" fill="#440154"/>
<rect x="467.68" y="601.91" width="17.23" height="8.68" fill="#481d6f"/>
<rect x="467.68" y="609.89" width="17.23" height="8.68" fill="#33638d"/>
<rect x="467.68" y="617.86" width="17.23" height="8.68" fill="#287c8e"/>
<rect x="467.68" y="625.84" width="17.23" height="8.68" fill="#1e9c89"/>
<rect x="467.68" y="633.82" width="17.23" height="8.68" fill="#3bbb75"/>
<rect x="467.68" y="641.8" width="17.23" height="8.68" fill="#73d056"/>
<rect x="467.68" y="649.78" width="17.23" height="8.68" fill="#a8db34"/>
<rect x="467.68" y="657.76" width="17.23" height="8.68" fill="#c0df25"/>
<rect x="467.68" y="665.74" width="17.23" height="8.68" fill="#cde11d"/>
<rect x="467.68" y="673.71" width="17.23" height="8.68" fill="#a2da37"/>
<rect x="467.68" y="681.69" width="17.23" height="8.68" fill="#6ece58"/>
<rect x="467.68" y="689.67" width="17.23" height="8.68" fill="#32b67a"/>
<rect x="467.68" y="697.65" width="17.23" height="8.68" fill="#1f9a8a"/>
<rect x="467.68" y="705.63" width="17.23" height="8.68" fill="#287d8e"/>
<rect x="467.68" y="713.61" width="17.23" height="8.68" fill="#355f8d"/>
<rect x="467.68" y="721.59" width="17.23" height="8.68" fill="#482475"/>
<rect x="467.68" y="729.56" width="17.23" height="8.68" fill="#433e85"/>
<rect x="467.68" y="737.54" width="17.23" height="8.68" fill="#440154"/>
<rect x="467.68" y="745.52" width="17.23" height="8.68" fill="#46307e"/>
<rect x="484.6" y="601.91" width="17.23" height="8.68" fill="#440154"/>
<rect x="484.6" y="609.89" width="17.23" height="8.68" fill="#3e4989"/>
<rect x="484.6" y="617.86" width="17.23" height="8.68" fill="#26828e"/>
<rect x="484.6" y="625.84" width="17.23" height="8.68" fill="#1fa187"/>
<rect x="484.6" y="633.82" width="17.23" height="8.68" fill="#44bf70"/>
<rect x="484.6" y="641.8" width="17.23" height="8.68" fill="#8bd646"/>
<rect x="484.6" y="649.78" width="17.23" height="8.68" fill="#bade28"/>
<rect x="484.6" y="657.76" width="17.23" height="8.68" fill="#cde11d"/>
<rect x="484.6" y="665.74" width="17.23" height="8.68" fill="#d5e21a"/>
<rect x="484.6" y="673.71" width="17.23" height="8.68" fill="#bddf26"/>
<rect x="484.6" y="681.69" width="17.23" height="8.68" fill="#a2da37"/>
<rect x="484.6" y="689.67" width="17.23" height="8.68" fill="#58c765"/>
<rect x="484.6" y="697.65" width="17.23" height="8.68" fill="#22a884"/>
<rect x="484.6" y="705.63" width="17.23" height="8.68" fill="#228b8d"/>
<rect x="484.6" y="713.61" width="17.23" height="8.68" fill="#2e6f8e"/>
<rect x="484.6" y="721.59" width="17.23" height="8.68" fill="#355f8d"/>
<rect x="484.6" y="729.56" width="17.23" height="8.68" fill="#3e4989"/>
<rect x="484.6" y="737.54" width="17.23" height="8.68" fill="#3e4989"/>
<rect x="484.6" y="745.52" width="17.23" height="8.68" fill="#440154"/>
<rect x="501.52" y="601.91" width="17.23" height="8.68" fill="#440154"/>
<rect x="501.52" y="609.89" width="17.23" height="8.68" fill="#33638d"/>
<rect x="501.52" y="617.86" width="17.23" height="8.68" fill="#26828e"/>
<rect x="501.52" y="625.84" width="17.23" height="8.68" fill="#1fa187"/>
<rect x="501.52" y="633.82" width="17.23" height="8.68" fill="#44bf70"/>
<rect x="501.52" y="641.8" width="17.23" height="8.68" fill="#8bd646"/>
<rect x="501.52" y="649.78" width="17.23" height="8.68" fill="#c0df25"/>
<rect x="501.52" y="657.76" width="17.23" height="8.68" fill="#d5e21a"/>
<rect x="501.52" y="665.74" width="17.23" height="8.68" fill="#e7e419"/>
<rect x="501.52" y="673.71" width="17.23" height="8.68" fill="#dfe318"/>
<rect x="501.52" y="681.69" width="17.23" height="8.68" fill="#cae11f"/>
<rect x="501.52" y="689.67" width="17.23" height="8.68" fill="#86d549"/>
<rect x="501.52" y="697.65" width="17.23" height="8.68" fill="#32b67a"/>
<rect x="501.52" y="705.63" width="17.23" height="8.68" fill="#1f958b"/>
<rect x="501.52" y="713.61" width="17.23" height="8.68" fill="#287d8e"/>
<rect x="501.52" y="721.59" width="17.23" height="8.68" fill="#32648e"/>
<rect x="501.52" y="729.56" width="17.23" height="8.68" fill="#3c4f8a"/>
<rect x="501.52" y="737.54" width="17.23" height="8.68" fill="#46307e"/>
<rect x="501.52" y="745.52" width="17.23" height="8.68" fill="#472a7a"/>
<rect x="518.45" y="593.93" width="17.23" height="8.68" fill="#440154"/>
<rect x="518.45" y="601.91" width="17.23" height="8.68" fill="#472a7a"/>
<rect x="518.45" y="609.89" width="17.23" height="8.68" fill="#3c4f8a"/>
<rect x="518.45" y="617.86" width="17.23" height="8.68" fill="#2b758e"/>
<rect x="518.45" y="625.84" width="17.23" height="8.68" fill="#1e9c89"/>
<rect x="518.45" y="633.82" width="17.23" height="8.68" fill="#3bbb75"/>
<rect x="518.45" y="641.8" width="17.23" height="8.68" fill="#7fd34e"/>
<rect x="518.45" y="649.78" width="17.23" height="8.68" fill="#bade28"/>
<rect x="518.45" y="657.76" width="17.23" height="8.68" fill="#dde318"/>
<rect x="518.45" y="665.74" width="17.23" height="8.68" fill="#f4e61e"/>
<rect x="518.45" y="673.71" width="17.23" height="8.68" fill="#ece51b"/>
<rect x="518.45" y="681.69" width="17.23" height="8.68" fill="#cae11f"/>
<rect x="518.45" y="689.67" width="17.23" height="8.68" fill="#7ad151"/>
<rect x="518.45" y="697.65" width="17.23" height="8.68" fill="#2cb17e"/>
<rect x="518.45" y="705.63" width="17.23" height="8.68" fill="#1f958b"/>
<rect x="518.45" y="713.61" width="17.23" height="8.68" fill="#26828e"/>
<rect x="518.45" y="721.59" width="17.23" height="8.68" fill="#2e6f8e"/>
<rect x="518.45" y="729.56" width="17.23" height="8.68" fill="#375a8c"/>
<rect x="518.45" y="737.54" width="17.23" height="8.68" fill="#3a548c"/>
<rect x="518.45" y="745.52" width="17.23" height="8.68" fill="#3c4f8a"/>
<rect x="535.38" y="609.89" width="17.23" height="8.68" fill="#440154"/>
<rect x="535.38" y="617.86" width="17.23" height="8.68" fill="#46307e"/>
<rect x="535.38" y="625.84" width="17.23" height="8.68" fill="#20928c"/>
<rect x="535.38" y="633.82" width="17.23" height="8.68" fill="#2cb17e"/>
<rect x="535.38" y="641.8" width="17.23" height="8.68" fill="#65cb5e"/>
<rect x="535.38" y="649.78" width="17.23" height="8.68" fill="#b2dd2d"/>
<rect x="535.38" y="657.76" width="17.23" height="8.68" fill="#dde318"/>
<rect x="535.38" y="665.74" width="17.23" height="8.68" fill="#f6e620"/>
<rect x="535.38" y="673.71" width="17.23" height="8.68" fill="#e5e419"/>
<rect x="535.38" y="681.69" width="17.23" height="8.68" fill="#a2da37"/>
<rect x="535.38" y="689.67" width="17.23" height="8.68" fill="#44bf70"/>
<rect x="535.38" y="697.65" width="17.23" height="8.68" fill="#20a386"/>
<rect x="535.38" y="705.63" width="17.23" height="8.68" fill="#228b8d"/>
<rect x="535.38" y="713.61" width="17.23" height="8.68" fill="#228b8d"/>
<rect x="535.38" y="721.59" width="17.23" height="8.68" fill="#355f8d"/>
<rect x="535.38" y="729.56" width="17.23" height="8.68" fill="#3a548c"/>
<rect x="535.38" y="737.54" width="17.23" height="8.68" fill="#3e4989"/>
<rect x="535.38" y="745.52" width="17.23" height="8.68" fill="#46307e"/>
<rect x="552.3" y="585.95" width="17.23" height="8.68" fill="#440154"/>
<rect x="552.3" y="617.86" width="17.23" height="8.68" fill="#3e4989"/>
<rect x="552.3" y="625.84" width="17.23" height="8.68" fill="#24878e"/>
<rect x="552.3" y="633.82" width="17.23" height="8.68" fill="#23a983"/>
<rect x="552.3" y="641.8" width="17.23" height="8.68" fill="#5ac864"/>
<rect x="552.3" y="649.78" width="17.23" height="8.68" fill="#b2dd2d"/>
<rect x="552.3" y="657.76" width="17.23" height="8.68" fill="#e7e419"/>
<rect x="552.3" y="665.74" width="17.23" height="8.68" fill="#fde725"/>
<rect x="552.3" y="673.71" width="17.23" height="8.68" fill="#cae11f"/>
<rect x="552.3" y="681.69" width="17.23" height="8.68" fill="#5ec962"/>
<rect x="552.3" y="689.67" width="17.23" height="8.68" fill="#22a884"/>
<rect x="552.3" y="697.65" width="17.23" height="8.68" fill="#21918c"/>
<rect x="552.3" y="705.63" width="17.23" height="8.68" fill="#287d8e"/>
<rect x="552.3" y="713.61" width="17.23" height="8.68" fill="#306a8e"/>
<rect x="552.3" y="721.59" width="17.23" height="8.68" fill="#3a548c"/>
<rect x="552.3" y="729.56" width="17.23" height="8.68" fill="#414487"/>
<rect x="552.3" y="737.54" width="17.23" height="8.68" fill="#482475"/>
<rect x="552.3" y="745.52" width="17.23" height="8.68" fill="#440154"/>
<rect x="569.23" y="617.86" width="17.23" height="8.68" fill="#440154"/>
<rect x="569.23" y="625.84" width="17.23" height="8.68" fill="#2f6c8e"/>
<rect x="569.23" y="633.82" width="17.23" height="8.68" fill="#1e9c89"/>
<rect x="569.23" y="641.8" width="17.23" height="8.68" fill="#50c46a"/>
<rect x="569.23" y="649.78" width="17.23" height="8.68" fill="#b2dd2d"/>
<rect x="569.23" y="657.76" width="17.23" height="8.68" fill="#eae51a"/>
<rect x="569.23" y="665.74" width="17.23" height="8.68" fill="#f6e620"/>
<rect x="569.23" y="673.71" width="17.23" height="8.68" fill="#b0dd2f"/>
<rect x="569.23" y="681.69" width="17.23" height="8.68" fill="#32b67a"/>
<rect x="569.23" y="689.67" width="17.23" height="8.68" fill="#1f958b"/>
<rect x="569.23" y="697.65" width="17.23" height="8.68" fill="#2a788e"/>
<rect x="569.23" y="705.63" width="17.23" height="8.68" fill="#31678e"/>
<rect x="569.23" y="713.61" width="17.23" height="8.68" fill="#472a7a"/>
<rect x="569.23" y="721.59" width="17.23" height="8.68" fill="#472a7a"/>
<rect x="586.15" y="633.82" width="17.23" height="8.68" fill="#365c8d"/>
<rect x="586.15" y="641.8" width="17.23" height="8.68" fill="#1fa187"/>
<rect x="586.15" y="649.78" width="17.23" height="8.68" fill="#73d056"/>
<rect x="586.15" y="657.76" width="17.23" height="8.68" fill="#cde11d"/>
<rect x="586.15" y="665.74" width="17.23" height="8.68" fill="#c0df25"/>
<rect x="586.15" y="673.71" width="17.23" height="8.68" fill="#26ad81"/>
<rect x="586.15" y="681.69" width="17.23" height="8.68" fill="#2a788e"/>
<rect x="586.15" y="689.67" width="17.23" height="8.68" fill="#3e4989"/>
<rect x="586.15" y="697.65" width="17.23" height="8.68" fill="#440154"/>
<path d="M349.2 669.73H620" stroke="#f00" stroke-width="1.8" fill="none"/>
<path d="M349.2 661.35H620" stroke="#f00" stroke-width="1.8" stroke-dasharray="5.4 2.35" fill="none"/>
<path d="M349.2 678.1H620" stroke="#f00" stroke-width="1.8" stroke-dasharray="5.4 2.35" fill="none"/>
<circle cx="358.23" cy="692.43" r="2.1" fill="#000"/>
<circle cx="376.28" cy="684.47" r="2.1" fill="#000"/>
<circle cx="394.33" cy="676.76" r="2.1" fill="#000"/>
<circle cx="412.39" cy="674.04" r="2.1" fill="#000"/>
<circle cx="430.44" cy="668.34" r="2.1" fill="#000"/>
<circle cx="448.49" cy="665.87" r="2.1" fill="#000"/>
<circle cx="466.55" cy="664.49" r="2.1" fill="#000"/>
<circle cx="484.6" cy="665.87" r="2.1" fill="#000"/>
<circle cx="502.65" cy="668.59" r="2.1" fill="#000"/>
<circle cx="520.71" cy="671.99" r="2.1" fill="#000"/>
<circle cx="538.76" cy="670.65" r="2.1" fill="#000"/>
<circle cx="556.81" cy="666.54" r="2.1" fill="#000"/>
<circle cx="574.87" cy="663.61" r="2.1" fill="#000"/>
<circle cx="592.92" cy="662.44" r="2.1" fill="#000"/>
<path d="M358.23 712.2V672.66M355.33 712.2h5.8M355.33 672.66h5.8M376.28 704.49V664.49M373.38 704.49h5.8M373.38 664.49h5.8M394.33 693.35V660.43M391.43 693.35h5.8M391.43 660.43h5.8M412.39 690.38V657.91M409.49 690.38h5.8M409.49 657.91h5.8M430.44 684.93V652.01M427.54 684.93h5.8M427.54 652.01h5.8M448.49 681.33V650.41M445.59 681.33h5.8M445.59 650.41h5.8M466.55 680.41V648.36M463.65 680.41h5.8M463.65 648.36h5.8M484.6 682.21V649.28M481.7 682.21h5.8M481.7 649.28h5.8M502.65 685.39V652.01M499.75 685.39h5.8M499.75 652.01h5.8M520.71 689.04V654.73M517.81 689.04h5.8M517.81 654.73h5.8M538.76 686.98V654.06M535.86 686.98h5.8M535.86 654.06h5.8M556.81 679.95V652.97M553.91 679.95h5.8M553.91 652.97h5.8M574.87 674.25V653.14M571.97 674.25h5.8M571.97 653.14h5.8M592.92 671.32V654.73M590.02 671.32h5.8M590.02 654.73h5.8" stroke="#000" stroke-width="1.45" fill="none"/>
<rect x="349.2" y="585.95" width="270.8" height="167.55" fill="none" stroke="#000" stroke-opacity="0.88" stroke-width="0.8"/>
<path d="M349.2 585.95h-3.4M349.2 627.84h-3.4M349.2 669.73h-3.4M349.2 711.61h-3.4M349.2 753.5h-3.4M349.2 753.5v3.4M416.9 753.5v3.4M484.6 753.5v3.4M552.3 753.5v3.4M620 753.5v3.4" stroke="#000" stroke-width="0.8" fill="none"/>
<text x="349.2" y="773.72" font-size="17.0" text-anchor="middle">−4</text>
<text x="416.9" y="773.72" font-size="17.0" text-anchor="middle">−3</text>
<text x="484.6" y="773.72" font-size="17.0" text-anchor="middle">−2</text>
<text x="552.3" y="773.72" font-size="17.0" text-anchor="middle">−1</text>
<text x="620" y="773.72" font-size="17.0" text-anchor="middle">0</text>
</g>
<g>
<rect x="641.75" y="633.82" width="18.35" height="8.68" fill="#440154"/>
<rect x="641.75" y="649.78" width="18.35" height="8.68" fill="#482475"/>
<rect x="641.75" y="657.76" width="18.35" height="8.68" fill="#472a7a"/>
<rect x="641.75" y="665.74" width="18.35" height="8.68" fill="#3e4989"/>
<rect x="641.75" y="673.71" width="18.35" height="8.68" fill="#355f8d"/>
<rect x="641.75" y="681.69" width="18.35" height="8.68" fill="#355f8d"/>
<rect x="641.75" y="689.67" width="18.35" height="8.68" fill="#355f8d"/>
<rect x="641.75" y="697.65" width="18.35" height="8.68" fill="#375a8c"/>
<rect x="641.75" y="713.61" width="18.35" height="8.68" fill="#440154"/>
<rect x="641.75" y="721.59" width="18.35" height="8.68" fill="#433e85"/>
<rect x="641.75" y="745.52" width="18.35" height="8.68" fill="#440154"/>
<rect x="659.8" y="633.82" width="18.35" height="8.68" fill="#433e85"/>
<rect x="659.8" y="641.8" width="18.35" height="8.68" fill="#433e85"/>
<rect x="659.8" y="649.78" width="18.35" height="8.68" fill="#355f8d"/>
<rect x="659.8" y="657.76" width="18.35" height="8.68" fill="#2a788e"/>
<rect x="659.8" y="665.74" width="18.35" height="8.68" fill="#21918c"/>
<rect x="659.8" y="673.71" width="18.35" height="8.68" fill="#21918c"/>
<rect x="659.8" y="681.69" width="18.35" height="8.68" fill="#25848e"/>
<rect x="659.8" y="689.67" width="18.35" height="8.68" fill="#287d8e"/>
<rect x="659.8" y="697.65" width="18.35" height="8.68" fill="#2c738e"/>
<rect x="659.8" y="705.63" width="18.35" height="8.68" fill="#414487"/>
<rect x="659.8" y="713.61" width="18.35" height="8.68" fill="#3e4989"/>
<rect x="659.8" y="721.59" width="18.35" height="8.68" fill="#440154"/>
<rect x="659.8" y="729.56" width="18.35" height="8.68" fill="#46307e"/>
<rect x="659.8" y="737.54" width="18.35" height="8.68" fill="#440154"/>
<rect x="677.86" y="625.84" width="18.35" height="8.68" fill="#440154"/>
<rect x="677.86" y="633.82" width="18.35" height="8.68" fill="#3b528b"/>
<rect x="677.86" y="641.8" width="18.35" height="8.68" fill="#2c738e"/>
<rect x="677.86" y="649.78" width="18.35" height="8.68" fill="#21918c"/>
<rect x="677.86" y="657.76" width="18.35" height="8.68" fill="#22a884"/>
<rect x="677.86" y="665.74" width="18.35" height="8.68" fill="#3bbb75"/>
<rect x="677.86" y="673.71" width="18.35" height="8.68" fill="#2fb47c"/>
<rect x="677.86" y="681.69" width="18.35" height="8.68" fill="#20a386"/>
<rect x="677.86" y="689.67" width="18.35" height="8.68" fill="#1f958b"/>
<rect x="677.86" y="697.65" width="18.35" height="8.68" fill="#24868e"/>
<rect x="677.86" y="705.63" width="18.35" height="8.68" fill="#2c738e"/>
<rect x="677.86" y="713.61" width="18.35" height="8.68" fill="#46307e"/>
<rect x="677.86" y="721.59" width="18.35" height="8.68" fill="#440154"/>
<rect x="677.86" y="729.56" width="18.35" height="8.68" fill="#481d6f"/>
<rect x="677.86" y="737.54" width="18.35" height="8.68" fill="#481d6f"/>
<rect x="677.86" y="745.52" width="18.35" height="8.68" fill="#440154"/>
<rect x="695.91" y="617.86" width="18.35" height="8.68" fill="#440154"/>
<rect x="695.91" y="625.84" width="18.35" height="8.68" fill="#482475"/>
<rect x="695.91" y="633.82" width="18.35" height="8.68" fill="#31678e"/>
<rect x="695.91" y="641.8" width="18.35" height="8.68" fill="#21918c"/>
<rect x="695.91" y="649.78" width="18.35" height="8.68" fill="#29af7f"/>
<rect x="695.91" y="657.76" width="18.35" height="8.68" fill="#5ec962"/>
<rect x="695.91" y="665.74" width="18.35" height="8.68" fill="#86d549"/>
<rect x="695.91" y="673.71" width="18.35" height="8.68" fill="#6ece58"/>
<rect x="695.91" y="681.69" width="18.35" height="8.68" fill="#3bbb75"/>
<rect x="695.91" y="689.67" width="18.35" height="8.68" fill="#22a884"/>
<rect x="695.91" y="697.65" width="18.35" height="8.68" fill="#1f958b"/>
<rect x="695.91" y="705.63" width="18.35" height="8.68" fill="#287d8e"/>
<rect x="695.91" y="713.61" width="18.35" height="8.68" fill="#355f8d"/>
<rect x="695.91" y="721.59" width="18.35" height="8.68" fill="#46307e"/>
<rect x="695.91" y="729.56" width="18.35" height="8.68" fill="#433e85"/>
<rect x="695.91" y="737.54" width="18.35" height="8.68" fill="#46307e"/>
<rect x="713.96" y="609.89" width="18.35" height="8.68" fill="#440154"/>
<rect x="713.96" y="617.86" width="18.35" height="8.68" fill="#440154"/>
<rect x="713.96" y="625.84" width="18.35" height="8.68" fill="#414487"/>
<rect x="713.96" y="633.82" width="18.35" height="8.68" fill="#287d8e"/>
<rect x="713.96" y="641.8" width="18.35" height="8.68" fill="#22a884"/>
<rect x="713.96" y="649.78" width="18.35" height="8.68" fill="#5ec962"/>
<rect x="713.96" y="657.76" width="18.35" height="8.68" fill="#a8db34"/>
<rect x="713.96" y="665.74" width="18.35" height="8.68" fill="#d2e21b"/>
<rect x="713.96" y="673.71" width="18.35" height="8.68" fill="#b0dd2f"/>
<rect x="713.96" y="681.69" width="18.35" height="8.68" fill="#6ece58"/>
<rect x="713.96" y="689.67" width="18.35" height="8.68" fill="#3bbb75"/>
<rect x="713.96" y="697.65" width="18.35" height="8.68" fill="#1fa188"/>
<rect x="713.96" y="705.63" width="18.35" height="8.68" fill="#23898e"/>
<rect x="713.96" y="713.61" width="18.35" height="8.68" fill="#2f6c8e"/>
<rect x="713.96" y="721.59" width="18.35" height="8.68" fill="#31678e"/>
<rect x="713.96" y="729.56" width="18.35" height="8.68" fill="#481d6f"/>
<rect x="713.96" y="737.54" width="18.35" height="8.68" fill="#472a7a"/>
<rect x="732.02" y="617.86" width="18.35" height="8.68" fill="#440154"/>
<rect x="732.02" y="625.84" width="18.35" height="8.68" fill="#2e6f8e"/>
<rect x="732.02" y="633.82" width="18.35" height="8.68" fill="#1f958b"/>
<rect x="732.02" y="641.8" width="18.35" height="8.68" fill="#3bbb75"/>
<rect x="732.02" y="649.78" width="18.35" height="8.68" fill="#95d840"/>
<rect x="732.02" y="657.76" width="18.35" height="8.68" fill="#d2e21b"/>
<rect x="732.02" y="665.74" width="18.35" height="8.68" fill="#f1e51d"/>
<rect x="732.02" y="673.71" width="18.35" height="8.68" fill="#d8e219"/>
<rect x="732.02" y="681.69" width="18.35" height="8.68" fill="#95d840"/>
<rect x="732.02" y="689.67" width="18.35" height="8.68" fill="#52c569"/>
<rect x="732.02" y="697.65" width="18.35" height="8.68" fill="#26ad81"/>
<rect x="732.02" y="705.63" width="18.35" height="8.68" fill="#21918c"/>
<rect x="732.02" y="713.61" width="18.35" height="8.68" fill="#2a788e"/>
<rect x="732.02" y="721.59" width="18.35" height="8.68" fill="#3a548c"/>
<rect x="732.02" y="729.56" width="18.35" height="8.68" fill="#414487"/>
<rect x="732.02" y="737.54" width="18.35" height="8.68" fill="#414487"/>
<rect x="732.02" y="745.52" width="18.35" height="8.68" fill="#414487"/>
<rect x="750.07" y="609.89" width="18.35" height="8.68" fill="#440154"/>
<rect x="750.07" y="617.86" width="18.35" height="8.68" fill="#440154"/>
<rect x="750.07" y="625.84" width="18.35" height="8.68" fill="#2c738e"/>
<rect x="750.07" y="633.82" width="18.35" height="8.68" fill="#20a386"/>
<rect x="750.07" y="641.8" width="18.35" height="8.68" fill="#5ec962"/>
<rect x="750.07" y="649.78" width="18.35" height="8.68" fill="#b0dd2f"/>
<rect x="750.07" y="657.76" width="18.35" height="8.68" fill="#e5e419"/>
<rect x="750.07" y="665.74" width="18.35" height="8.68" fill="#fde725"/>
<rect x="750.07" y="673.71" width="18.35" height="8.68" fill="#e5e419"/>
<rect x="750.07" y="681.69" width="18.35" height="8.68" fill="#a8db34"/>
<rect x="750.07" y="689.67" width="18.35" height="8.68" fill="#63cb5f"/>
<rect x="750.07" y="697.65" width="18.35" height="8.68" fill="#2cb17e"/>
<rect x="750.07" y="705.63" width="18.35" height="8.68" fill="#1f958b"/>
<rect x="750.07" y="713.61" width="18.35" height="8.68" fill="#287d8e"/>
<rect x="750.07" y="721.59" width="18.35" height="8.68" fill="#3a548c"/>
<rect x="750.07" y="729.56" width="18.35" height="8.68" fill="#481d6f"/>
<rect x="750.07" y="737.54" width="18.35" height="8.68" fill="#472a7a"/>
<rect x="750.07" y="745.52" width="18.35" height="8.68" fill="#440154"/>
<rect x="768.12" y="609.89" width="18.35" height="8.68" fill="#481d6f"/>
<rect x="768.12" y="617.86" width="18.35" height="8.68" fill="#440154"/>
<rect x="768.12" y="625.84" width="18.35" height="8.68" fill="#287d8e"/>
<rect x="768.12" y="633.82" width="18.35" height="8.68" fill="#26ad81"/>
<rect x="768.12" y="641.8" width="18.35" height="8.68" fill="#6ece58"/>
<rect x="768.12" y="649.78" width="18.35" height="8.68" fill="#bddf26"/>
<rect x="768.12" y="657.76" width="18.35" height="8.68" fill="#e5e419"/>
<rect x="768.12" y="665.74" width="18.35" height="8.68" fill="#fde725"/>
<rect x="768.12" y="673.71" width="18.35" height="8.68" fill="#e5e419"/>
<rect x="768.12" y="681.69" width="18.35" height="8.68" fill="#a8db34"/>
<rect x="768.12" y="689.67" width="18.35" height="8.68" fill="#63cb5f"/>
<rect x="768.12" y="697.65" width="18.35" height="8.68" fill="#29af7f"/>
<rect x="768.12" y="705.63" width="18.35" height="8.68" fill="#1f958b"/>
<rect x="768.12" y="713.61" width="18.35" height="8.68" fill="#2c738e"/>
<rect x="768.12" y="721.59" width="18.35" height="8.68" fill="#32648e"/>
<rect x="768.12" y="729.56" width="18.35" height="8.68" fill="#3a548c"/>
<rect x="768.12" y="737.54" width="18.35" height="8.68" fill="#481d6f"/>
<rect x="768.12" y="745.52" width="18.35" height="8.68" fill="#46307e"/>
<rect x="786.18" y="609.89" width="18.35" height="8.68" fill="#440154"/>
<rect x="786.18" y="617.86" width="18.35" height="8.68" fill="#414487"/>
<rect x="786.18" y="625.84" width="18.35" height="8.68" fill="#25848e"/>
<rect x="786.18" y="633.82" width="18.35" height="8.68" fill="#29af7f"/>
<rect x="786.18" y="641.8" width="18.35" height="8.68" fill="#69cd5b"/>
<rect x="786.18" y="649.78" width="18.35" height="8.68" fill="#b0dd2f"/>
<rect x="786.18" y="657.76" width="18.35" height="8.68" fill="#d8e219"/>
<rect x="786.18" y="665.74" width="18.35" height="8.68" fill="#f1e51d"/>
<rect x="786.18" y="673.71" width="18.35" height="8.68" fill="#d2e21b"/>
<rect x="786.18" y="681.69" width="18.35" height="8.68" fill="#86d549"/>
<rect x="786.18" y="689.67" width="18.35" height="8.68" fill="#4ec36b"/>
<rect x="786.18" y="697.65" width="18.35" height="8.68" fill="#20a386"/>
<rect x="786.18" y="705.63" width="18.35" height="8.68" fill="#228b8d"/>
<rect x="786.18" y="713.61" width="18.35" height="8.68" fill="#2c738e"/>
<rect x="786.18" y="721.59" width="18.35" height="8.68" fill="#32648e"/>
<rect x="786.18" y="729.56" width="18.35" height="8.68" fill="#414487"/>
<rect x="786.18" y="737.54" width="18.35" height="8.68" fill="#472a7a"/>
<rect x="786.18" y="745.52" width="18.35" height="8.68" fill="#440154"/>
<rect x="804.23" y="609.89" width="18.35" height="8.68" fill="#440154"/>
<rect x="804.23" y="617.86" width="18.35" height="8.68" fill="#472a7a"/>
<rect x="804.23" y="625.84" width="18.35" height="8.68" fill="#24868e"/>
<rect x="804.23" y="633.82" width="18.35" height="8.68" fill="#26ad81"/>
<rect x="804.23" y="641.8" width="18.35" height="8.68" fill="#58c765"/>
<rect x="804.23" y="649.78" width="18.35" height="8.68" fill="#95d840"/>
<rect x="804.23" y="657.76" width="18.35" height="8.68" fill="#cae11f"/>
<rect x="804.23" y="665.74" width="18.35" height="8.68" fill="#e5e419"/>
<rect x="804.23" y="673.71" width="18.35" height="8.68" fill="#b0dd2f"/>
<rect x="804.23" y="681.69" width="18.35" height="8.68" fill="#58c765"/>
<rect x="804.23" y="689.67" width="18.35" height="8.68" fill="#2cb17e"/>
<rect x="804.23" y="697.65" width="18.35" height="8.68" fill="#1f9a8a"/>
<rect x="804.23" y="705.63" width="18.35" height="8.68" fill="#25848e"/>
<rect x="804.23" y="713.61" width="18.35" height="8.68" fill="#433e85"/>
<rect x="804.23" y="721.59" width="18.35" height="8.68" fill="#355f8d"/>
<rect x="804.23" y="729.56" width="18.35" height="8.68" fill="#433e85"/>
<rect x="804.23" y="737.54" width="18.35" height="8.68" fill="#414487"/>
<rect x="804.23" y="745.52" width="18.35" height="8.68" fill="#440154"/>
<rect x="822.28" y="609.89" width="18.35" height="8.68" fill="#481d6f"/>
<rect x="822.28" y="617.86" width="18.35" height="8.68" fill="#3e4989"/>
<rect x="822.28" y="625.84" width="18.35" height="8.68" fill="#24868e"/>
<rect x="822.28" y="633.82" width="18.35" height="8.68" fill="#22a884"/>
<rect x="822.28" y="641.8" width="18.35" height="8.68" fill="#44bf70"/>
<rect x="822.28" y="649.78" width="18.35" height="8.68" fill="#7ad151"/>
<rect x="822.28" y="657.76" width="18.35" height="8.68" fill="#b0dd2f"/>
<rect x="822.28" y="665.74" width="18.35" height="8.68" fill="#cae11f"/>
<rect x="822.28" y="673.71" width="18.35" height="8.68" fill="#8ed645"/>
<rect x="822.28" y="681.69" width="18.35" height="8.68" fill="#3bbb75"/>
<rect x="822.28" y="689.67" width="18.35" height="8.68" fill="#20a386"/>
<rect x="822.28" y="697.65" width="18.35" height="8.68" fill="#21918c"/>
<rect x="822.28" y="705.63" width="18.35" height="8.68" fill="#287d8e"/>
<rect x="822.28" y="713.61" width="18.35" height="8.68" fill="#2f6c8e"/>
<rect x="822.28" y="721.59" width="18.35" height="8.68" fill="#46307e"/>
<rect x="822.28" y="729.56" width="18.35" height="8.68" fill="#481d6f"/>
<rect x="822.28" y="737.54" width="18.35" height="8.68" fill="#440154"/>
<rect x="840.34" y="617.86" width="18.35" height="8.68" fill="#472a7a"/>
<rect x="840.34" y="625.84" width="18.35" height="8.68" fill="#25848e"/>
<rect x="840.34" y="633.82" width="18.35" height="8.68" fill="#20a386"/>
<rect x="840.34" y="641.8" width="18.35" height="8.68" fill="#3bbb75"/>
<rect x="840.34" y="649.78" width="18.35" height="8.68" fill="#63cb5f"/>
<rect x="840.34" y="657.76" width="18.35" height="8.68" fill="#9bd93c"/>
<rect x="840.34" y="665.74" width="18.35" height="8.68" fill="#b0dd2f"/>
<rect x="840.34" y="673.71" width="18.35" height="8.68" fill="#6ece58"/>
<rect x="840.34" y="681.69" width="18.35" height="8.68" fill="#29af7f"/>
<rect x="840.34" y="689.67" width="18.35" height="8.68" fill="#1f9a8a"/>
<rect x="840.34" y="697.65" width="18.35" height="8.68" fill="#24868e"/>
<rect x="840.34" y="705.63" width="18.35" height="8.68" fill="#2c738e"/>
<rect x="840.34" y="713.61" width="18.35" height="8.68" fill="#472a7a"/>
<rect x="840.34" y="721.59" width="18.35" height="8.68" fill="#414487"/>
<rect x="858.39" y="617.86" width="18.35" height="8.68" fill="#3b528b"/>
<rect x="858.39" y="625.84" width="18.35" height="8.68" fill="#26828e"/>
<rect x="858.39" y="633.82" width="18.35" height="8.68" fill="#1f9f88"/>
<rect x="858.39" y="641.8" width="18.35" height="8.68" fill="#2fb47c"/>
<rect x="858.39" y="649.78" width="18.35" height="8.68" fill="#52c569"/>
<rect x="858.39" y="657.76" width="18.35" height="8.68" fill="#86d549"/>
<rect x="858.39" y="665.74" width="18.35" height="8.68" fill="#9bd93c"/>
<rect x="858.39" y="673.71" width="18.35" height="8.68" fill="#58c765"/>
<rect x="858.39" y="681.69" width="18.35" height="8.68" fill="#20a386"/>
<rect x="858.39" y="689.67" width="18.35" height="8.68" fill="#228b8d"/>
<rect x="858.39" y="697.65" width="18.35" height="8.68" fill="#287d8e"/>
<rect x="858.39" y="705.63" width="18.35" height="8.68" fill="#31678e"/>
<rect x="858.39" y="713.61" width="18.35" height="8.68" fill="#355f8d"/>
<rect x="858.39" y="721.59" width="18.35" height="8.68" fill="#414487"/>
<rect x="858.39" y="745.52" width="18.35" height="8.68" fill="#433e85"/>
<rect x="876.44" y="609.89" width="18.35" height="8.68" fill="#440154"/>
<rect x="876.44" y="617.86" width="18.35" height="8.68" fill="#3b528b"/>
<rect x="876.44" y="625.84" width="18.35" height="8.68" fill="#27808e"/>
<rect x="876.44" y="633.82" width="18.35" height="8.68" fill="#1f9a8a"/>
<rect x="876.44" y="641.8" width="18.35" height="8.68" fill="#26ad81"/>
<rect x="876.44" y="649.78" width="18.35" height="8.68" fill="#44bf70"/>
<rect x="876.44" y="657.76" width="18.35" height="8.68" fill="#6ece58"/>
<rect x="876.44" y="665.74" width="18.35" height="8.68" fill="#86d549"/>
<rect x="876.44" y="673.71" width="18.35" height="8.68" fill="#44bf70"/>
<rect x="876.44" y="681.69" width="18.35" height="8.68" fill="#1e9c89"/>
<rect x="876.44" y="689.67" width="18.35" height="8.68" fill="#25848e"/>
<rect x="876.44" y="697.65" width="18.35" height="8.68" fill="#2a788e"/>
<rect x="876.44" y="705.63" width="18.35" height="8.68" fill="#414487"/>
<rect x="876.44" y="713.61" width="18.35" height="8.68" fill="#414487"/>
<rect x="876.44" y="721.59" width="18.35" height="8.68" fill="#482475"/>
<rect x="876.44" y="737.54" width="18.35" height="8.68" fill="#472a7a"/>
<rect x="894.5" y="617.86" width="18.35" height="8.68" fill="#365c8d"/>
<rect x="894.5" y="625.84" width="18.35" height="8.68" fill="#2a788e"/>
<rect x="894.5" y="633.82" width="18.35" height="8.68" fill="#21918c"/>
<rect x="894.5" y="641.8" width="18.35" height="8.68" fill="#22a884"/>
<rect x="894.5" y="649.78" width="18.35" height="8.68" fill="#37b878"/>
<rect x="894.5" y="657.76" width="18.35" height="8.68" fill="#5ec962"/>
<rect x="894.5" y="665.74" width="18.35" height="8.68" fill="#6ece58"/>
<rect x="894.5" y="673.71" width="18.35" height="8.68" fill="#37b878"/>
<rect x="894.5" y="681.69" width="18.35" height="8.68" fill="#1f958b"/>
<rect x="894.5" y="689.67" width="18.35" height="8.68" fill="#287d8e"/>
<rect x="894.5" y="697.65" width="18.35" height="8.68" fill="#472a7a"/>
<rect x="894.5" y="705.63" width="18.35" height="8.68" fill="#414487"/>
<rect x="894.5" y="713.61" width="18.35" height="8.68" fill="#414487"/>
<rect x="894.5" y="721.59" width="18.35" height="8.68" fill="#472a7a"/>
<path d="M641.75 669.73H912.55" stroke="#f00" stroke-width="1.8" fill="none"/>
<path d="M641.75 661.35H912.55" stroke="#f00" stroke-width="1.8" stroke-dasharray="5.4 2.35" fill="none"/>
<path d="M641.75 678.1H912.55" stroke="#f00" stroke-width="1.8" stroke-dasharray="5.4 2.35" fill="none"/>
<circle cx="651.42" cy="688.36" r="2.1" fill="#000"/>
<circle cx="670.76" cy="681.33" r="2.1" fill="#000"/>
<circle cx="690.11" cy="676.3" r="2.1" fill="#000"/>
<circle cx="709.45" cy="674.5" r="2.1" fill="#000"/>
<circle cx="728.79" cy="671.11" r="2.1" fill="#000"/>
<circle cx="748.14" cy="670.4" r="2.1" fill="#000"/>
<circle cx="767.48" cy="669.26" r="2.1" fill="#000"/>
<circle cx="786.82" cy="668.59" r="2.1" fill="#000"/>
<circle cx="806.16" cy="667.67" r="2.1" fill="#000"/>
<circle cx="825.51" cy="667" r="2.1" fill="#000"/>
<circle cx="844.85" cy="666.54" r="2.1" fill="#000"/>
<circle cx="864.19" cy="666.08" r="2.1" fill="#000"/>
<circle cx="883.54" cy="665.87" r="2.1" fill="#000"/>
<circle cx="902.88" cy="664.03" r="2.1" fill="#000"/>
<path d="M651.42 708.14V668.59M648.52 708.14h5.8M648.52 668.59h5.8M670.76 700.85V662.02M667.86 700.85h5.8M667.86 662.02h5.8M690.11 694.02V658.58M687.21 694.02h5.8M687.21 658.58h5.8M709.45 690.84V658.12M706.55 690.84h5.8M706.55 658.12h5.8M728.79 686.52V655.86M725.89 686.52h5.8M725.89 655.86h5.8M748.14 685.39V655.4M745.24 685.39h5.8M745.24 655.4h5.8M767.48 684.05V654.52M764.58 684.05h5.8M764.58 654.52h5.8M786.82 683.34V653.6M783.92 683.34h5.8M783.92 653.6h5.8M806.16 682.92V652.47M803.26 682.92h5.8M803.26 652.47h5.8M825.51 682.46V651.8M822.61 682.46h5.8M822.61 651.8h5.8M844.85 682.21V650.88M841.95 682.21h5.8M841.95 650.88h5.8M864.19 682.21V649.74M861.29 682.21h5.8M861.29 649.74h5.8M883.54 682.67V649.03M880.64 682.67h5.8M880.64 649.03h5.8M902.88 680.41V647.69M899.98 680.41h5.8M899.98 647.69h5.8" stroke="#000" stroke-width="1.45" fill="none"/>
<rect x="641.75" y="585.95" width="270.8" height="167.55" fill="none" stroke="#000" stroke-opacity="0.88" stroke-width="0.8"/>
<path d="M641.75 585.95h-3.4M641.75 627.84h-3.4M641.75 669.73h-3.4M641.75 711.61h-3.4M641.75 753.5h-3.4M719.12 753.5v3.4M815.84 753.5v3.4M912.55 753.5v3.4" stroke="#000" stroke-width="0.8" fill="none"/>
<text x="719.12" y="773.72" font-size="17.0" text-anchor="middle">1.0</text>
<text x="815.84" y="773.72" font-size="17.0" text-anchor="middle">1.5</text>
<text x="912.55" y="773.72" font-size="17.0" text-anchor="middle">2.0</text>
</g>
<g>
<rect x="934.3" y="657.76" width="34.15" height="8.68" fill="#414487"/>
<rect x="934.3" y="665.74" width="34.15" height="8.68" fill="#472a7a"/>
<rect x="968.15" y="641.8" width="34.15" height="8.68" fill="#440154"/>
<rect x="968.15" y="649.78" width="34.15" height="8.68" fill="#2a788e"/>
<rect x="968.15" y="657.76" width="34.15" height="8.68" fill="#1fa088"/>
<rect x="968.15" y="665.74" width="34.15" height="8.68" fill="#20928c"/>
<rect x="968.15" y="673.71" width="34.15" height="8.68" fill="#3b528b"/>
<rect x="968.15" y="681.69" width="34.15" height="8.68" fill="#482475"/>
<rect x="968.15" y="689.67" width="34.15" height="8.68" fill="#440154"/>
<rect x="968.15" y="697.65" width="34.15" height="8.68" fill="#481d6f"/>
<rect x="1002" y="625.84" width="34.15" height="8.68" fill="#440154"/>
<rect x="1002" y="633.82" width="34.15" height="8.68" fill="#481d6f"/>
<rect x="1002" y="641.8" width="34.15" height="8.68" fill="#2a788e"/>
<rect x="1002" y="649.78" width="34.15" height="8.68" fill="#2cb17e"/>
<rect x="1002" y="657.76" width="34.15" height="8.68" fill="#69cd5b"/>
<rect x="1002" y="665.74" width="34.15" height="8.68" fill="#4ec36b"/>
<rect x="1002" y="673.71" width="34.15" height="8.68" fill="#22a884"/>
<rect x="1002" y="681.69" width="34.15" height="8.68" fill="#228b8d"/>
<rect x="1002" y="689.67" width="34.15" height="8.68" fill="#2a788e"/>
<rect x="1002" y="697.65" width="34.15" height="8.68" fill="#355f8d"/>
<rect x="1002" y="705.63" width="34.15" height="8.68" fill="#440154"/>
<rect x="1002" y="721.59" width="34.15" height="8.68" fill="#440154"/>
<rect x="1035.85" y="609.89" width="34.15" height="8.68" fill="#440154"/>
<rect x="1035.85" y="617.86" width="34.15" height="8.68" fill="#481d6f"/>
<rect x="1035.85" y="625.84" width="34.15" height="8.68" fill="#355f8d"/>
<rect x="1035.85" y="633.82" width="34.15" height="8.68" fill="#25858e"/>
<rect x="1035.85" y="641.8" width="34.15" height="8.68" fill="#3bbb75"/>
<rect x="1035.85" y="649.78" width="34.15" height="8.68" fill="#93d741"/>
<rect x="1035.85" y="657.76" width="34.15" height="8.68" fill="#d0e11c"/>
<rect x="1035.85" y="665.74" width="34.15" height="8.68" fill="#dde318"/>
<rect x="1035.85" y="673.71" width="34.15" height="8.68" fill="#b0dd2f"/>
<rect x="1035.85" y="681.69" width="34.15" height="8.68" fill="#4ec36b"/>
<rect x="1035.85" y="689.67" width="34.15" height="8.68" fill="#20a386"/>
<rect x="1035.85" y="697.65" width="34.15" height="8.68" fill="#21918c"/>
<rect x="1035.85" y="705.63" width="34.15" height="8.68" fill="#287d8e"/>
<rect x="1035.85" y="713.61" width="34.15" height="8.68" fill="#31678e"/>
<rect x="1035.85" y="721.59" width="34.15" height="8.68" fill="#3a548c"/>
<rect x="1035.85" y="729.56" width="34.15" height="8.68" fill="#433e85"/>
<rect x="1035.85" y="737.54" width="34.15" height="8.68" fill="#482475"/>
<rect x="1035.85" y="745.52" width="34.15" height="8.68" fill="#481d6f"/>
<rect x="1069.7" y="601.91" width="34.15" height="8.68" fill="#440154"/>
<rect x="1069.7" y="609.89" width="34.15" height="8.68" fill="#482475"/>
<rect x="1069.7" y="617.86" width="34.15" height="8.68" fill="#433e85"/>
<rect x="1069.7" y="625.84" width="34.15" height="8.68" fill="#228d8d"/>
<rect x="1069.7" y="633.82" width="34.15" height="8.68" fill="#2cb17e"/>
<rect x="1069.7" y="641.8" width="34.15" height="8.68" fill="#7ad151"/>
<rect x="1069.7" y="649.78" width="34.15" height="8.68" fill="#b8de29"/>
<rect x="1069.7" y="657.76" width="34.15" height="8.68" fill="#e2e418"/>
<rect x="1069.7" y="665.74" width="34.15" height="8.68" fill="#fde725"/>
<rect x="1069.7" y="673.71" width="34.15" height="8.68" fill="#dfe318"/>
<rect x="1069.7" y="681.69" width="34.15" height="8.68" fill="#b0dd2f"/>
<rect x="1069.7" y="689.67" width="34.15" height="8.68" fill="#5ec962"/>
<rect x="1069.7" y="697.65" width="34.15" height="8.68" fill="#26ad81"/>
<rect x="1069.7" y="705.63" width="34.15" height="8.68" fill="#1f958b"/>
<rect x="1069.7" y="713.61" width="34.15" height="8.68" fill="#25848e"/>
<rect x="1069.7" y="721.59" width="34.15" height="8.68" fill="#2e6f8e"/>
<rect x="1069.7" y="729.56" width="34.15" height="8.68" fill="#38588c"/>
<rect x="1069.7" y="737.54" width="34.15" height="8.68" fill="#433e85"/>
<rect x="1069.7" y="745.52" width="34.15" height="8.68" fill="#3a548c"/>
<rect x="1103.55" y="593.93" width="34.15" height="8.68" fill="#440154"/>
<rect x="1103.55" y="601.91" width="34.15" height="8.68" fill="#481d6f"/>
<rect x="1103.55" y="609.89" width="34.15" height="8.68" fill="#355f8d"/>
<rect x="1103.55" y="617.86" width="34.15" height="8.68" fill="#277e8e"/>
<rect x="1103.55" y="625.84" width="34.15" height="8.68" fill="#22a884"/>
<rect x="1103.55" y="633.82" width="34.15" height="8.68" fill="#58c765"/>
<rect x="1103.55" y="641.8" width="34.15" height="8.68" fill="#a0da39"/>
<rect x="1103.55" y="649.78" width="34.15" height="8.68" fill="#d0e11c"/>
<rect x="1103.55" y="657.76" width="34.15" height="8.68" fill="#e7e419"/>
<rect x="1103.55" y="665.74" width="34.15" height="8.68" fill="#fde725"/>
<rect x="1103.55" y="673.71" width="34.15" height="8.68" fill="#e5e419"/>
<rect x="1103.55" y="681.69" width="34.15" height="8.68" fill="#b0dd2f"/>
<rect x="1103.55" y="689.67" width="34.15" height="8.68" fill="#63cb5f"/>
<rect x="1103.55" y="697.65" width="34.15" height="8.68" fill="#26ad81"/>
<rect x="1103.55" y="705.63" width="34.15" height="8.68" fill="#1f958b"/>
<rect x="1103.55" y="713.61" width="34.15" height="8.68" fill="#25848e"/>
<rect x="1103.55" y="721.59" width="34.15" height="8.68" fill="#2c738e"/>
<rect x="1103.55" y="729.56" width="34.15" height="8.68" fill="#355f8d"/>
<rect x="1103.55" y="737.54" width="34.15" height="8.68" fill="#355f8d"/>
<rect x="1103.55" y="745.52" width="34.15" height="8.68" fill="#46307e"/>
<rect x="1137.4" y="585.95" width="34.15" height="8.68" fill="#440154"/>
<rect x="1137.4" y="609.89" width="34.15" height="8.68" fill="#32648e"/>
<rect x="1137.4" y="617.86" width="34.15" height="8.68" fill="#228d8d"/>
<rect x="1137.4" y="625.84" width="34.15" height="8.68" fill="#2cb17e"/>
<rect x="1137.4" y="633.82" width="34.15" height="8.68" fill="#6ece58"/>
<rect x="1137.4" y="641.8" width="34.15" height="8.68" fill="#a0da39"/>
<rect x="1137.4" y="649.78" width="34.15" height="8.68" fill="#c2df23"/>
<rect x="1137.4" y="657.76" width="34.15" height="8.68" fill="#e2e418"/>
<rect x="1137.4" y="665.74" width="34.15" height="8.68" fill="#f4e61e"/>
<rect x="1137.4" y="673.71" width="34.15" height="8.68" fill="#cae11f"/>
<rect x="1137.4" y="681.69" width="34.15" height="8.68" fill="#86d549"/>
<rect x="1137.4" y="689.67" width="34.15" height="8.68" fill="#4ec36b"/>
<rect x="1137.4" y="697.65" width="34.15" height="8.68" fill="#20a386"/>
<rect x="1137.4" y="705.63" width="34.15" height="8.68" fill="#21918c"/>
<rect x="1137.4" y="713.61" width="34.15" height="8.68" fill="#25848e"/>
<rect x="1137.4" y="721.59" width="34.15" height="8.68" fill="#2e6f8e"/>
<rect x="1137.4" y="729.56" width="34.15" height="8.68" fill="#3e4989"/>
<rect x="1137.4" y="737.54" width="34.15" height="8.68" fill="#3c4f8a"/>
<rect x="1137.4" y="745.52" width="34.15" height="8.68" fill="#481d6f"/>
<rect x="1171.25" y="601.91" width="34.15" height="8.68" fill="#46307e"/>
<rect x="1171.25" y="609.89" width="34.15" height="8.68" fill="#31678e"/>
<rect x="1171.25" y="617.86" width="34.15" height="8.68" fill="#23888e"/>
<rect x="1171.25" y="625.84" width="34.15" height="8.68" fill="#2cb17e"/>
<rect x="1171.25" y="633.82" width="34.15" height="8.68" fill="#63cb5f"/>
<rect x="1171.25" y="641.8" width="34.15" height="8.68" fill="#93d741"/>
<rect x="1171.25" y="649.78" width="34.15" height="8.68" fill="#b8de29"/>
<rect x="1171.25" y="657.76" width="34.15" height="8.68" fill="#c2df23"/>
<rect x="1171.25" y="665.74" width="34.15" height="8.68" fill="#d0e11c"/>
<rect x="1171.25" y="673.71" width="34.15" height="8.68" fill="#b0dd2f"/>
<rect x="1171.25" y="681.69" width="34.15" height="8.68" fill="#63cb5f"/>
<rect x="1171.25" y="689.67" width="34.15" height="8.68" fill="#26ad81"/>
<rect x="1171.25" y="697.65" width="34.15" height="8.68" fill="#1f958b"/>
<rect x="1171.25" y="705.63" width="34.15" height="8.68" fill="#25848e"/>
<rect x="1171.25" y="713.61" width="34.15" height="8.68" fill="#355f8d"/>
<rect x="1171.25" y="721.59" width="34.15" height="8.68" fill="#3e4989"/>
<rect x="1171.25" y="729.56" width="34.15" height="8.68" fill="#472a7a"/>
<rect x="1171.25" y="737.54" width="34.15" height="8.68" fill="#440154"/>
<rect x="1171.25" y="745.52" width="34.15" height="8.68" fill="#440154"/>
<path d="M934.3 669.73H1205.1" stroke="#f00" stroke-width="1.8" fill="none"/>
<path d="M934.3 661.35H1205.1" stroke="#f00" stroke-width="1.8" stroke-dasharray="5.4 2.35" fill="none"/>
<path d="M934.3 678.1H1205.1" stroke="#f00" stroke-width="1.8" stroke-dasharray="5.4 2.35" fill="none"/>
<circle cx="953.64" cy="666.33" r="2.1" fill="#000"/>
<circle cx="992.33" cy="667" r="2.1" fill="#000"/>
<circle cx="1031.01" cy="667.67" r="2.1" fill="#000"/>
<circle cx="1069.7" cy="668.59" r="2.1" fill="#000"/>
<circle cx="1108.39" cy="669.93" r="2.1" fill="#000"/>
<circle cx="1147.07" cy="668.13" r="2.1" fill="#000"/>
<circle cx="1185.76" cy="665.62" r="2.1" fill="#000"/>
<path d="M953.64 675.17V657.7M950.74 675.17h5.8M950.74 657.7h5.8M992.33 676.55V657.91M989.43 676.55h5.8M989.43 657.91h5.8M1031.01 679.02V656.32M1028.11 679.02h5.8M1028.11 656.32h5.8M1069.7 682.92V654.73M1066.8 682.92h5.8M1066.8 654.73h5.8M1108.39 686.31V653.81M1105.49 686.31h5.8M1105.49 653.81h5.8M1147.07 684.47V652.01M1144.17 684.47h5.8M1144.17 652.01h5.8M1185.76 681.54V649.49M1182.86 681.54h5.8M1182.86 649.49h5.8" stroke="#000" stroke-width="1.45" fill="none"/>
<rect x="934.3" y="585.95" width="270.8" height="167.55" fill="none" stroke="#000" stroke-opacity="0.88" stroke-width="0.8"/>
<path d="M934.3 585.95h-3.4M934.3 627.84h-3.4M934.3 669.73h-3.4M934.3 711.61h-3.4M934.3 753.5h-3.4M972.99 753.5v3.4M1050.36 753.5v3.4M1127.73 753.5v3.4M1205.1 753.5v3.4" stroke="#000" stroke-width="0.8" fill="none"/>
<text x="972.99" y="773.72" font-size="17.0" text-anchor="middle">11</text>
<text x="1050.36" y="773.72" font-size="17.0" text-anchor="middle">12</text>
<text x="1127.73" y="773.72" font-size="17.0" text-anchor="middle">13</text>
<text x="1205.1" y="773.72" font-size="17.0" text-anchor="middle">14</text>
</g>
<defs><linearGradient id="vg" x1="0" y1="1" x2="0" y2="0">
<stop offset="0%" stop-color="#440154"/>
<stop offset="5%" stop-color="#471365"/>
<stop offset="10%" stop-color="#482475"/>
<stop offset="15%" stop-color="#463480"/>
<stop offset="20%" stop-color="#414487"/>
<stop offset="25%" stop-color="#3b528b"/>
<stop offset="30%" stop-color="#355f8d"/>
<stop offset="35%" stop-color="#2f6c8e"/>
<stop offset="40%" stop-color="#2a788e"/>
<stop offset="45%" stop-color="#25848e"/>
<stop offset="50%" stop-color="#21918c"/>
<stop offset="55%" stop-color="#1e9c89"/>
<stop offset="60%" stop-color="#22a884"/>
<stop offset="65%" stop-color="#2fb47c"/>
<stop offset="70%" stop-color="#44bf70"/>
<stop offset="75%" stop-color="#5ec962"/>
<stop offset="80%" stop-color="#7ad151"/>
<stop offset="85%" stop-color="#9bd93c"/>
<stop offset="90%" stop-color="#bddf26"/>
<stop offset="95%" stop-color="#dfe318"/>
<stop offset="100%" stop-color="#fde725"/>
</linearGradient></defs>
<rect x="1226.6" y="8.45" width="13.9" height="167.55" fill="url(#vg)" stroke="#000" stroke-width="0.8"/>
<text x="1247.1" y="182.46" font-size="17.0">10<tspan dy="-6.46" font-size="11.9">0</tspan></text>
<text x="1247.1" y="139.11" font-size="17.0">10<tspan dy="-6.46" font-size="11.9">1</tspan></text>
<text x="1247.1" y="95.76" font-size="17.0">10<tspan dy="-6.46" font-size="11.9">2</tspan></text>
<text x="1247.1" y="52.41" font-size="17.0">10<tspan dy="-6.46" font-size="11.9">3</tspan></text>
<path d="M1240.5 176h3.4M1240.5 162.95h1.87M1240.5 155.32h1.87M1240.5 149.9h1.87M1240.5 145.7h1.87M1240.5 142.27h1.87M1240.5 139.36h1.87M1240.5 136.85h1.87M1240.5 134.63h1.87M1240.5 132.65h3.4M1240.5 119.6h1.87M1240.5 111.97h1.87M1240.5 106.55h1.87M1240.5 102.35h1.87M1240.5 98.92h1.87M1240.5 96.01h1.87M1240.5 93.5h1.87M1240.5 91.28h1.87M1240.5 89.3h3.4M1240.5 76.25h1.87M1240.5 68.62h1.87M1240.5 63.2h1.87M1240.5 59h1.87M1240.5 55.57h1.87M1240.5 52.66h1.87M1240.5 50.15h1.87M1240.5 47.93h1.87M1240.5 45.95h3.4M1240.5 32.9h1.87M1240.5 25.26h1.87M1240.5 19.85h1.87M1240.5 15.65h1.87M1240.5 12.21h1.87M1240.5 9.31h1.87" stroke="#000" stroke-width="0.6" fill="none"/>
<rect x="1226.6" y="200.95" width="13.9" height="167.55" fill="url(#vg)" stroke="#000" stroke-width="0.8"/>
<text x="1247.1" y="374.96" font-size="17.0">10<tspan dy="-6.46" font-size="11.9">0</tspan></text>
<text x="1247.1" y="329.68" font-size="17.0">10<tspan dy="-6.46" font-size="11.9">1</tspan></text>
<text x="1247.1" y="284.39" font-size="17.0">10<tspan dy="-6.46" font-size="11.9">2</tspan></text>
<text x="1247.1" y="239.11" font-size="17.0">10<tspan dy="-6.46" font-size="11.9">3</tspan></text>
<path d="M1240.5 368.5h3.4M1240.5 354.87h1.87M1240.5 346.89h1.87M1240.5 341.24h1.87M1240.5 336.85h1.87M1240.5 333.26h1.87M1240.5 330.23h1.87M1240.5 327.6h1.87M1240.5 325.29h1.87M1240.5 323.22h3.4M1240.5 309.58h1.87M1240.5 301.61h1.87M1240.5 295.95h1.87M1240.5 291.56h1.87M1240.5 287.98h1.87M1240.5 284.95h1.87M1240.5 282.32h1.87M1240.5 280h1.87M1240.5 277.93h3.4M1240.5 264.3h1.87M1240.5 256.33h1.87M1240.5 250.67h1.87M1240.5 246.28h1.87M1240.5 242.69h1.87M1240.5 239.66h1.87M1240.5 237.04h1.87M1240.5 234.72h1.87M1240.5 232.65h3.4M1240.5 219.02h1.87M1240.5 211.04h1.87M1240.5 205.39h1.87M1240.5 201h1.87" stroke="#000" stroke-width="0.6" fill="none"/>
<rect x="1226.6" y="393.45" width="13.9" height="167.55" fill="url(#vg)" stroke="#000" stroke-width="0.8"/>
<text x="1247.1" y="567.46" font-size="17.0">10<tspan dy="-6.46" font-size="11.9">0</tspan></text>
<text x="1247.1" y="513.46" font-size="17.0">10<tspan dy="-6.46" font-size="11.9">1</tspan></text>
<text x="1247.1" y="459.47" font-size="17.0">10<tspan dy="-6.46" font-size="11.9">2</tspan></text>
<text x="1247.1" y="405.47" font-size="17.0">10<tspan dy="-6.46" font-size="11.9">3</tspan></text>
<path d="M1240.5 561h3.4M1240.5 544.75h1.87M1240.5 535.24h1.87M1240.5 528.49h1.87M1240.5 523.26h1.87M1240.5 518.98h1.87M1240.5 515.37h1.87M1240.5 512.24h1.87M1240.5 509.47h1.87M1240.5 507h3.4M1240.5 490.75h1.87M1240.5 481.24h1.87M1240.5 474.49h1.87M1240.5 469.26h1.87M1240.5 464.99h1.87M1240.5 461.37h1.87M1240.5 458.24h1.87M1240.5 455.48h1.87M1240.5 453.01h3.4M1240.5 436.75h1.87M1240.5 427.25h1.87M1240.5 420.5h1.87M1240.5 415.27h1.87M1240.5 410.99h1.87M1240.5 407.38h1.87M1240.5 404.24h1.87M1240.5 401.48h1.87M1240.5 399.01h3.4" stroke="#000" stroke-width="0.6" fill="none"/>
<rect x="1226.6" y="585.95" width="13.9" height="167.55" fill="url(#vg)" stroke="#000" stroke-width="0.8"/>
<text x="1247.1" y="759.96" font-size="17.0">10<tspan dy="-6.46" font-size="11.9">0</tspan></text>
<text x="1247.1" y="708.96" font-size="17.0">10<tspan dy="-6.46" font-size="11.9">1</tspan></text>
<text x="1247.1" y="657.95" font-size="17.0">10<tspan dy="-6.46" font-size="11.9">2</tspan></text>
<text x="1247.1" y="606.95" font-size="17.0">10<tspan dy="-6.46" font-size="11.9">3</tspan></text>
<path d="M1240.5 753.5h3.4M1240.5 738.15h1.87M1240.5 729.16h1.87M1240.5 722.79h1.87M1240.5 717.85h1.87M1240.5 713.81h1.87M1240.5 710.4h1.87M1240.5 707.44h1.87M1240.5 704.83h1.87M1240.5 702.5h3.4M1240.5 687.14h1.87M1240.5 678.16h1.87M1240.5 671.79h1.87M1240.5 666.84h1.87M1240.5 662.81h1.87M1240.5 659.39h1.87M1240.5 656.43h1.87M1240.5 653.82h1.87M1240.5 651.49h3.4M1240.5 636.14h1.87M1240.5 627.16h1.87M1240.5 620.78h1.87M1240.5 615.84h1.87M1240.5 611.8h1.87M1240.5 608.39h1.87M1240.5 605.43h1.87M1240.5 602.82h1.87M1240.5 600.49h3.4" stroke="#000" stroke-width="0.6" fill="none"/>
<text x="949.3" y="29.65" font-size="19.6" font-weight="bold" fill="#f00" class="pl">All</text>
<text x="949.3" y="222.15" font-size="19.6" font-weight="bold" fill="#f00" class="pl">Merger</text>
<text x="949.3" y="414.65" font-size="19.6" font-weight="bold" fill="#f00" class="pl">Disruption</text>
<text x="949.3" y="607.15" font-size="19.6" font-weight="bold" fill="#f00" class="pl">Surviving</text>
<text transform="translate(15.6 91.83) rotate(-90)" text-anchor="middle" font-size="19.3">log<tspan dy="3.86" font-size="13.51">10</tspan><tspan dy="-3.86" dx="3.86">[Δ</tspan><tspan font-style="italic">T</tspan><tspan dy="3.86" font-size="13.51">mod</tspan><tspan dy="-3.86">/Δ</tspan><tspan font-style="italic">T</tspan><tspan dy="3.86" font-size="13.51">sim</tspan><tspan dy="-3.86">]</tspan></text>
<text transform="translate(15.6 284.33) rotate(-90)" text-anchor="middle" font-size="19.3">log<tspan dy="3.86" font-size="13.51">10</tspan><tspan dy="-3.86" dx="3.86">[Δ</tspan><tspan font-style="italic">T</tspan><tspan dy="3.86" font-size="13.51">mod</tspan><tspan dy="-3.86">/Δ</tspan><tspan font-style="italic">T</tspan><tspan dy="3.86" font-size="13.51">sim</tspan><tspan dy="-3.86">]</tspan></text>
<text transform="translate(15.6 476.83) rotate(-90)" text-anchor="middle" font-size="19.3">log<tspan dy="3.86" font-size="13.51">10</tspan><tspan dy="-3.86" dx="3.86">[Δ</tspan><tspan font-style="italic">T</tspan><tspan dy="3.86" font-size="13.51">mod</tspan><tspan dy="-3.86">/Δ</tspan><tspan font-style="italic">T</tspan><tspan dy="3.86" font-size="13.51">sim</tspan><tspan dy="-3.86">]</tspan></text>
<text transform="translate(15.6 669.33) rotate(-90)" text-anchor="middle" font-size="19.3">log<tspan dy="3.86" font-size="13.51">10</tspan><tspan dy="-3.86" dx="3.86">[Δ</tspan><tspan font-style="italic">T</tspan><tspan dy="3.86" font-size="13.51">mod</tspan><tspan dy="-3.86">/Δ</tspan><tspan font-style="italic">T</tspan><tspan dy="3.86" font-size="13.51">sim</tspan><tspan dy="-3.86">]</tspan></text>
<text x="192.05" y="795.5" font-size="19.7" text-anchor="middle" font-style="italic">ε</text>
<text x="484.6" y="795.5" font-size="19.7" text-anchor="middle">log<tspan dy="3.94" font-size="13.79">10</tspan><tspan dy="-3.94" dx="3.94">[</tspan><tspan font-style="italic">M</tspan><tspan dy="3.94" font-size="13.79">sat</tspan><tspan dy="-3.94">/</tspan><tspan font-style="italic">M</tspan><tspan dy="3.94" font-size="13.79">host</tspan><tspan dy="-3.94">(</tspan><tspan dx="4.14">&lt;</tspan><tspan dx="4.14" font-style="italic">r</tspan>)]</text>
<text x="777.15" y="795.5" font-size="19.7" text-anchor="middle"><tspan font-style="italic">r</tspan><tspan dy="3.94" font-size="13.79" font-style="italic">c</tspan><tspan dy="-3.94">/</tspan><tspan font-style="italic">r</tspan></text>
<text x="1069.7" y="795.5" font-size="19.7" text-anchor="middle">log<tspan dy="3.94" font-size="13.79">10</tspan><tspan dy="-3.94" dx="3.94">[</tspan><tspan font-style="italic">M</tspan><tspan dy="3.94" font-size="13.79">host, 0</tspan><tspan dy="-3.94">/</tspan><tspan font-style="italic">h</tspan><tspan dx="1.2" dy="-7.88" font-size="13.79">−1</tspan><tspan dy="7.88" font-style="italic">M</tspan><tspan dy="3.94" font-size="13.79">⊙</tspan><tspan dy="-3.94">]</tspan></text>
</svg>
</body></html>
